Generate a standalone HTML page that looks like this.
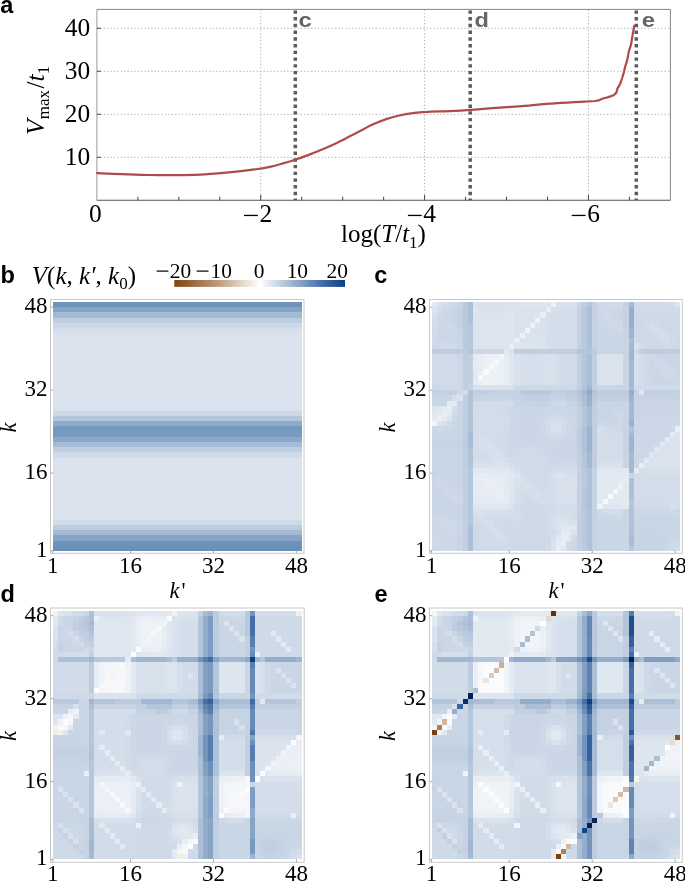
<!DOCTYPE html>
<html><head><meta charset="utf-8"><style>html,body{margin:0;padding:0;background:#fff;}svg{display:block;will-change:transform;}</style></head>
<body><svg width="685" height="882" viewBox="0 0 685 882">
<line x1="96.9" y1="157.3" x2="670.4" y2="157.3" stroke="#b0b0b0" stroke-width="1" stroke-dasharray="1.3 2.1"/>
<line x1="96.9" y1="114.30000000000001" x2="670.4" y2="114.30000000000001" stroke="#b0b0b0" stroke-width="1" stroke-dasharray="1.3 2.1"/>
<line x1="96.9" y1="71.30000000000001" x2="670.4" y2="71.30000000000001" stroke="#b0b0b0" stroke-width="1" stroke-dasharray="1.3 2.1"/>
<line x1="96.9" y1="28.30000000000001" x2="670.4" y2="28.30000000000001" stroke="#b0b0b0" stroke-width="1" stroke-dasharray="1.3 2.1"/>
<line x1="260.75" y1="9.4" x2="260.75" y2="200.3" stroke="#b0b0b0" stroke-width="1" stroke-dasharray="1.3 2.1"/>
<line x1="424.6" y1="9.4" x2="424.6" y2="200.3" stroke="#b0b0b0" stroke-width="1" stroke-dasharray="1.3 2.1"/>
<line x1="588.4499999999999" y1="9.4" x2="588.4499999999999" y2="200.3" stroke="#b0b0b0" stroke-width="1" stroke-dasharray="1.3 2.1"/>
<path d="M96.9 9.4H670.4V200.3" fill="none" stroke="#858585" stroke-width="1"/>
<path d="M96.9 9.4V200.3" fill="none" stroke="#9a9a9a" stroke-width="1"/>
<path d="M96.9 200.3H670.4" fill="none" stroke="#555" stroke-width="1.1"/>
<line x1="96.9" y1="157.3" x2="100.9" y2="157.3" stroke="#444" stroke-width="1"/>
<line x1="96.9" y1="114.30000000000001" x2="100.9" y2="114.30000000000001" stroke="#444" stroke-width="1"/>
<line x1="96.9" y1="71.30000000000001" x2="100.9" y2="71.30000000000001" stroke="#444" stroke-width="1"/>
<line x1="96.9" y1="28.30000000000001" x2="100.9" y2="28.30000000000001" stroke="#444" stroke-width="1"/>
<line x1="137.8625" y1="200.3" x2="137.8625" y2="196.8" stroke="#444" stroke-width="1"/>
<line x1="178.825" y1="200.3" x2="178.825" y2="196.8" stroke="#444" stroke-width="1"/>
<line x1="219.7875" y1="200.3" x2="219.7875" y2="196.8" stroke="#444" stroke-width="1"/>
<line x1="260.75" y1="200.3" x2="260.75" y2="194.9" stroke="#444" stroke-width="1"/>
<line x1="301.7125" y1="200.3" x2="301.7125" y2="196.8" stroke="#444" stroke-width="1"/>
<line x1="342.67499999999995" y1="200.3" x2="342.67499999999995" y2="196.8" stroke="#444" stroke-width="1"/>
<line x1="383.63750000000005" y1="200.3" x2="383.63750000000005" y2="196.8" stroke="#444" stroke-width="1"/>
<line x1="424.6" y1="200.3" x2="424.6" y2="194.9" stroke="#444" stroke-width="1"/>
<line x1="465.5625" y1="200.3" x2="465.5625" y2="196.8" stroke="#444" stroke-width="1"/>
<line x1="506.525" y1="200.3" x2="506.525" y2="196.8" stroke="#444" stroke-width="1"/>
<line x1="547.4875" y1="200.3" x2="547.4875" y2="196.8" stroke="#444" stroke-width="1"/>
<line x1="588.4499999999999" y1="200.3" x2="588.4499999999999" y2="194.9" stroke="#444" stroke-width="1"/>
<line x1="629.4124999999999" y1="200.3" x2="629.4124999999999" y2="196.8" stroke="#444" stroke-width="1"/>
<line x1="295.3" y1="10.4" x2="295.3" y2="200.3" stroke="#5c5c5c" stroke-width="3.5" stroke-dasharray="3.4 3.32"/>
<line x1="470.2" y1="10.4" x2="470.2" y2="200.3" stroke="#5c5c5c" stroke-width="3.5" stroke-dasharray="3.4 3.32"/>
<line x1="636.3" y1="10.4" x2="636.3" y2="200.3" stroke="#5c5c5c" stroke-width="3.5" stroke-dasharray="3.4 3.32"/>
<path fill="none" stroke="#b04b4b" stroke-width="2.2" stroke-linejoin="round" stroke-linecap="round" d="M97.1,173.1 C101.13,173.28 112.90,173.88 121.3,174.2 C129.70,174.52 138.75,174.83 147.5,175.0 C156.25,175.17 165.03,175.25 173.8,175.2 C182.57,175.15 191.33,175.13 200.1,174.7 C208.87,174.27 217.65,173.43 226.4,172.6 C235.15,171.77 245.33,170.67 252.6,169.7 C259.87,168.73 264.92,167.85 270,166.8 C275.08,165.75 278.93,164.57 283.1,163.4 C287.27,162.23 290.62,161.27 295,159.8 C299.38,158.33 304.80,156.35 309.4,154.6 C314.00,152.85 318.22,151.17 322.6,149.3 C326.98,147.43 331.33,145.48 335.7,143.4 C340.07,141.32 344.75,138.87 348.8,136.8 C352.85,134.73 355.95,133.08 360,131.0 C364.05,128.92 368.72,126.28 373.1,124.3 C377.48,122.32 381.92,120.57 386.3,119.1 C390.68,117.63 395.02,116.50 399.4,115.5 C403.78,114.50 408.43,113.67 412.6,113.1 C416.77,112.53 420.03,112.38 424.4,112.1 C428.77,111.82 434.53,111.55 438.8,111.4 C443.07,111.25 444.00,111.50 450,111.2 C456.00,110.90 466.53,110.20 474.8,109.6 C483.07,109.00 491.33,108.22 499.6,107.6 C507.87,106.98 516.12,106.55 524.4,105.9 C532.68,105.25 541.02,104.32 549.3,103.7 C557.58,103.08 566.45,102.65 574.1,102.2 C581.75,101.75 591.68,101.20 595.2,101.0 L598.5,100.4 L602.9,98.5 L608.3,97.1 L613.7,95.3 L616.4,92.6 L617.5,88.3 L620.2,83.9 L622.3,77.5 L623.9,72.1 L625.5,65.6 L627.2,60.2 L628.8,51.6 L630.9,45.2 L632,38.7 L633.1,32.2 L634.2,25.8"/>
<text x="298.6" y="26.8" font-family="Liberation Sans, sans-serif" font-weight="bold" font-size="20.5" fill="#666" textLength="13.3" lengthAdjust="spacingAndGlyphs">c</text>
<text x="474.4" y="26.8" font-family="Liberation Sans, sans-serif" font-weight="bold" font-size="20.5" fill="#666" textLength="14.4" lengthAdjust="spacingAndGlyphs">d</text>
<text x="641.8" y="26.8" font-family="Liberation Sans, sans-serif" font-weight="bold" font-size="20.5" fill="#666" textLength="13.3" lengthAdjust="spacingAndGlyphs">e</text>
<text x="90.2" y="165.3" font-family="Liberation Serif, serif" font-size="25.4" text-anchor="end">10</text>
<text x="90.2" y="122.30000000000001" font-family="Liberation Serif, serif" font-size="25.4" text-anchor="end">20</text>
<text x="90.2" y="79.30000000000001" font-family="Liberation Serif, serif" font-size="25.4" text-anchor="end">30</text>
<text x="90.2" y="36.30000000000001" font-family="Liberation Serif, serif" font-size="25.4" text-anchor="end">40</text>
<text x="95.30000000000001" y="221.8" font-family="Liberation Serif, serif" font-size="25.4" text-anchor="middle">0</text>
<rect x="244.05" y="214.8" width="13.8" height="1.3" fill="#000"/>
<text x="259.45" y="221.8" font-family="Liberation Serif, serif" font-size="25.4">2</text>
<rect x="407.90000000000003" y="214.8" width="13.8" height="1.3" fill="#000"/>
<text x="423.3" y="221.8" font-family="Liberation Serif, serif" font-size="25.4">4</text>
<rect x="571.7499999999999" y="214.8" width="13.8" height="1.3" fill="#000"/>
<text x="587.15" y="221.8" font-family="Liberation Serif, serif" font-size="25.4">6</text>
<text x="341.0" y="242.1" font-family="Liberation Serif, serif" font-size="25">log(<tspan font-style="italic">T</tspan>/<tspan font-style="italic">t</tspan><tspan font-size="17" dy="5.5">1</tspan><tspan dy="-5.5">)</tspan></text>
<text transform="translate(43.6,134.9) rotate(-90)" font-family="Liberation Serif, serif" font-size="25.5"><tspan font-style="italic">V</tspan><tspan font-size="17" dy="5.8">max</tspan><tspan dy="-5.8" dx="1.5">/</tspan><tspan font-style="italic">t</tspan><tspan font-size="17" dy="5.8">1</tspan></text>
<text x="0.3" y="13" font-family="Liberation Sans, sans-serif" font-weight="bold" font-size="23.5">a</text>
<text x="0.4" y="282.6" font-family="Liberation Sans, sans-serif" font-weight="bold" font-size="23.5">b</text>
<text x="374.3" y="282.6" font-family="Liberation Sans, sans-serif" font-weight="bold" font-size="23.5">c</text>
<text x="0.4" y="602.2" font-family="Liberation Sans, sans-serif" font-weight="bold" font-size="23.5">d</text>
<text x="374.5" y="602" font-family="Liberation Sans, sans-serif" font-weight="bold" font-size="23.5">e</text>
<g transform="translate(52.75,302.0) scale(5.185)" shape-rendering="crispEdges"><path fill="#6890b9" d="M0 47h1v1h-1zM1 47h1v1h-1zM2 47h1v1h-1zM3 47h1v1h-1zM4 47h1v1h-1zM5 47h1v1h-1zM6 47h1v1h-1zM7 47h1v1h-1zM8 47h1v1h-1zM9 47h1v1h-1zM10 47h1v1h-1zM11 47h1v1h-1zM12 47h1v1h-1zM13 47h1v1h-1zM14 47h1v1h-1zM15 47h1v1h-1zM16 47h1v1h-1zM17 47h1v1h-1zM18 47h1v1h-1zM19 47h1v1h-1zM20 47h1v1h-1zM21 47h1v1h-1zM22 47h1v1h-1zM23 47h1v1h-1zM24 47h1v1h-1zM25 47h1v1h-1zM26 47h1v1h-1zM27 47h1v1h-1zM28 47h1v1h-1zM29 47h1v1h-1zM30 47h1v1h-1zM31 47h1v1h-1zM32 47h1v1h-1zM33 47h1v1h-1zM34 47h1v1h-1zM35 47h1v1h-1zM36 47h1v1h-1zM37 47h1v1h-1zM38 47h1v1h-1zM39 47h1v1h-1zM40 47h1v1h-1zM41 47h1v1h-1zM42 47h1v1h-1zM43 47h1v1h-1zM44 47h1v1h-1zM45 47h1v1h-1zM46 47h1v1h-1zM47 47h1v1h-1z"/><path fill="#6d93bc" d="M0 46h1v1h-1zM1 46h1v1h-1zM2 46h1v1h-1zM3 46h1v1h-1zM4 46h1v1h-1zM5 46h1v1h-1zM6 46h1v1h-1zM7 46h1v1h-1zM8 46h1v1h-1zM9 46h1v1h-1zM10 46h1v1h-1zM11 46h1v1h-1zM12 46h1v1h-1zM13 46h1v1h-1zM14 46h1v1h-1zM15 46h1v1h-1zM16 46h1v1h-1zM17 46h1v1h-1zM18 46h1v1h-1zM19 46h1v1h-1zM20 46h1v1h-1zM21 46h1v1h-1zM22 46h1v1h-1zM23 46h1v1h-1zM24 46h1v1h-1zM25 46h1v1h-1zM26 46h1v1h-1zM27 46h1v1h-1zM28 46h1v1h-1zM29 46h1v1h-1zM30 46h1v1h-1zM31 46h1v1h-1zM32 46h1v1h-1zM33 46h1v1h-1zM34 46h1v1h-1zM35 46h1v1h-1zM36 46h1v1h-1zM37 46h1v1h-1zM38 46h1v1h-1zM39 46h1v1h-1zM40 46h1v1h-1zM41 46h1v1h-1zM42 46h1v1h-1zM43 46h1v1h-1zM44 46h1v1h-1zM45 46h1v1h-1zM46 46h1v1h-1zM47 46h1v1h-1z"/><path fill="#85a4c7" d="M0 45h1v1h-1zM1 45h1v1h-1zM2 45h1v1h-1zM3 45h1v1h-1zM4 45h1v1h-1zM5 45h1v1h-1zM6 45h1v1h-1zM7 45h1v1h-1zM8 45h1v1h-1zM9 45h1v1h-1zM10 45h1v1h-1zM11 45h1v1h-1zM12 45h1v1h-1zM13 45h1v1h-1zM14 45h1v1h-1zM15 45h1v1h-1zM16 45h1v1h-1zM17 45h1v1h-1zM18 45h1v1h-1zM19 45h1v1h-1zM20 45h1v1h-1zM21 45h1v1h-1zM22 45h1v1h-1zM23 45h1v1h-1zM24 45h1v1h-1zM25 45h1v1h-1zM26 45h1v1h-1zM27 45h1v1h-1zM28 45h1v1h-1zM29 45h1v1h-1zM30 45h1v1h-1zM31 45h1v1h-1zM32 45h1v1h-1zM33 45h1v1h-1zM34 45h1v1h-1zM35 45h1v1h-1zM36 45h1v1h-1zM37 45h1v1h-1zM38 45h1v1h-1zM39 45h1v1h-1zM40 45h1v1h-1zM41 45h1v1h-1zM42 45h1v1h-1zM43 45h1v1h-1zM44 45h1v1h-1zM45 45h1v1h-1zM46 45h1v1h-1zM47 45h1v1h-1z"/><path fill="#a3b9d4" d="M0 44h1v1h-1zM1 44h1v1h-1zM2 44h1v1h-1zM3 44h1v1h-1zM4 44h1v1h-1zM5 44h1v1h-1zM6 44h1v1h-1zM7 44h1v1h-1zM8 44h1v1h-1zM9 44h1v1h-1zM10 44h1v1h-1zM11 44h1v1h-1zM12 44h1v1h-1zM13 44h1v1h-1zM14 44h1v1h-1zM15 44h1v1h-1zM16 44h1v1h-1zM17 44h1v1h-1zM18 44h1v1h-1zM19 44h1v1h-1zM20 44h1v1h-1zM21 44h1v1h-1zM22 44h1v1h-1zM23 44h1v1h-1zM24 44h1v1h-1zM25 44h1v1h-1zM26 44h1v1h-1zM27 44h1v1h-1zM28 44h1v1h-1zM29 44h1v1h-1zM30 44h1v1h-1zM31 44h1v1h-1zM32 44h1v1h-1zM33 44h1v1h-1zM34 44h1v1h-1zM35 44h1v1h-1zM36 44h1v1h-1zM37 44h1v1h-1zM38 44h1v1h-1zM39 44h1v1h-1zM40 44h1v1h-1zM41 44h1v1h-1zM42 44h1v1h-1zM43 44h1v1h-1zM44 44h1v1h-1zM45 44h1v1h-1zM46 44h1v1h-1zM47 44h1v1h-1z"/><path fill="#bccde0" d="M0 43h1v1h-1zM1 43h1v1h-1zM2 43h1v1h-1zM3 43h1v1h-1zM4 43h1v1h-1zM5 43h1v1h-1zM6 43h1v1h-1zM7 43h1v1h-1zM8 43h1v1h-1zM9 43h1v1h-1zM10 43h1v1h-1zM11 43h1v1h-1zM12 43h1v1h-1zM13 43h1v1h-1zM14 43h1v1h-1zM15 43h1v1h-1zM16 43h1v1h-1zM17 43h1v1h-1zM18 43h1v1h-1zM19 43h1v1h-1zM20 43h1v1h-1zM21 43h1v1h-1zM22 43h1v1h-1zM23 43h1v1h-1zM24 43h1v1h-1zM25 43h1v1h-1zM26 43h1v1h-1zM27 43h1v1h-1zM28 43h1v1h-1zM29 43h1v1h-1zM30 43h1v1h-1zM31 43h1v1h-1zM32 43h1v1h-1zM33 43h1v1h-1zM34 43h1v1h-1zM35 43h1v1h-1zM36 43h1v1h-1zM37 43h1v1h-1zM38 43h1v1h-1zM39 43h1v1h-1zM40 43h1v1h-1zM41 43h1v1h-1zM42 43h1v1h-1zM43 43h1v1h-1zM44 43h1v1h-1zM45 43h1v1h-1zM46 43h1v1h-1zM47 43h1v1h-1zM0 3h1v1h-1zM1 3h1v1h-1zM2 3h1v1h-1zM3 3h1v1h-1zM4 3h1v1h-1zM5 3h1v1h-1zM6 3h1v1h-1zM7 3h1v1h-1zM8 3h1v1h-1zM9 3h1v1h-1zM10 3h1v1h-1zM11 3h1v1h-1zM12 3h1v1h-1zM13 3h1v1h-1zM14 3h1v1h-1zM15 3h1v1h-1zM16 3h1v1h-1zM17 3h1v1h-1zM18 3h1v1h-1zM19 3h1v1h-1zM20 3h1v1h-1zM21 3h1v1h-1zM22 3h1v1h-1zM23 3h1v1h-1zM24 3h1v1h-1zM25 3h1v1h-1zM26 3h1v1h-1zM27 3h1v1h-1zM28 3h1v1h-1zM29 3h1v1h-1zM30 3h1v1h-1zM31 3h1v1h-1zM32 3h1v1h-1zM33 3h1v1h-1zM34 3h1v1h-1zM35 3h1v1h-1zM36 3h1v1h-1zM37 3h1v1h-1zM38 3h1v1h-1zM39 3h1v1h-1zM40 3h1v1h-1zM41 3h1v1h-1zM42 3h1v1h-1zM43 3h1v1h-1zM44 3h1v1h-1zM45 3h1v1h-1zM46 3h1v1h-1zM47 3h1v1h-1z"/><path fill="#cfdbe8" d="M0 42h1v1h-1zM1 42h1v1h-1zM2 42h1v1h-1zM3 42h1v1h-1zM4 42h1v1h-1zM5 42h1v1h-1zM6 42h1v1h-1zM7 42h1v1h-1zM8 42h1v1h-1zM9 42h1v1h-1zM10 42h1v1h-1zM11 42h1v1h-1zM12 42h1v1h-1zM13 42h1v1h-1zM14 42h1v1h-1zM15 42h1v1h-1zM16 42h1v1h-1zM17 42h1v1h-1zM18 42h1v1h-1zM19 42h1v1h-1zM20 42h1v1h-1zM21 42h1v1h-1zM22 42h1v1h-1zM23 42h1v1h-1zM24 42h1v1h-1zM25 42h1v1h-1zM26 42h1v1h-1zM27 42h1v1h-1zM28 42h1v1h-1zM29 42h1v1h-1zM30 42h1v1h-1zM31 42h1v1h-1zM32 42h1v1h-1zM33 42h1v1h-1zM34 42h1v1h-1zM35 42h1v1h-1zM36 42h1v1h-1zM37 42h1v1h-1zM38 42h1v1h-1zM39 42h1v1h-1zM40 42h1v1h-1zM41 42h1v1h-1zM42 42h1v1h-1zM43 42h1v1h-1zM44 42h1v1h-1zM45 42h1v1h-1zM46 42h1v1h-1zM47 42h1v1h-1z"/><path fill="#d9e2ed" d="M0 41h1v1h-1zM1 41h1v1h-1zM2 41h1v1h-1zM3 41h1v1h-1zM4 41h1v1h-1zM5 41h1v1h-1zM6 41h1v1h-1zM7 41h1v1h-1zM8 41h1v1h-1zM9 41h1v1h-1zM10 41h1v1h-1zM11 41h1v1h-1zM12 41h1v1h-1zM13 41h1v1h-1zM14 41h1v1h-1zM15 41h1v1h-1zM16 41h1v1h-1zM17 41h1v1h-1zM18 41h1v1h-1zM19 41h1v1h-1zM20 41h1v1h-1zM21 41h1v1h-1zM22 41h1v1h-1zM23 41h1v1h-1zM24 41h1v1h-1zM25 41h1v1h-1zM26 41h1v1h-1zM27 41h1v1h-1zM28 41h1v1h-1zM29 41h1v1h-1zM30 41h1v1h-1zM31 41h1v1h-1zM32 41h1v1h-1zM33 41h1v1h-1zM34 41h1v1h-1zM35 41h1v1h-1zM36 41h1v1h-1zM37 41h1v1h-1zM38 41h1v1h-1zM39 41h1v1h-1zM40 41h1v1h-1zM41 41h1v1h-1zM42 41h1v1h-1zM43 41h1v1h-1zM44 41h1v1h-1zM45 41h1v1h-1zM46 41h1v1h-1zM47 41h1v1h-1zM0 40h1v1h-1zM1 40h1v1h-1zM2 40h1v1h-1zM3 40h1v1h-1zM4 40h1v1h-1zM5 40h1v1h-1zM6 40h1v1h-1zM7 40h1v1h-1zM8 40h1v1h-1zM9 40h1v1h-1zM10 40h1v1h-1zM11 40h1v1h-1zM12 40h1v1h-1zM13 40h1v1h-1zM14 40h1v1h-1zM15 40h1v1h-1zM16 40h1v1h-1zM17 40h1v1h-1zM18 40h1v1h-1zM19 40h1v1h-1zM20 40h1v1h-1zM21 40h1v1h-1zM22 40h1v1h-1zM23 40h1v1h-1zM24 40h1v1h-1zM25 40h1v1h-1zM26 40h1v1h-1zM27 40h1v1h-1zM28 40h1v1h-1zM29 40h1v1h-1zM30 40h1v1h-1zM31 40h1v1h-1zM32 40h1v1h-1zM33 40h1v1h-1zM34 40h1v1h-1zM35 40h1v1h-1zM36 40h1v1h-1zM37 40h1v1h-1zM38 40h1v1h-1zM39 40h1v1h-1zM40 40h1v1h-1zM41 40h1v1h-1zM42 40h1v1h-1zM43 40h1v1h-1zM44 40h1v1h-1zM45 40h1v1h-1zM46 40h1v1h-1zM47 40h1v1h-1zM0 39h1v1h-1zM1 39h1v1h-1zM2 39h1v1h-1zM3 39h1v1h-1zM4 39h1v1h-1zM5 39h1v1h-1zM6 39h1v1h-1zM7 39h1v1h-1zM8 39h1v1h-1zM9 39h1v1h-1zM10 39h1v1h-1zM11 39h1v1h-1zM12 39h1v1h-1zM13 39h1v1h-1zM14 39h1v1h-1zM15 39h1v1h-1zM16 39h1v1h-1zM17 39h1v1h-1zM18 39h1v1h-1zM19 39h1v1h-1zM20 39h1v1h-1zM21 39h1v1h-1zM22 39h1v1h-1zM23 39h1v1h-1zM24 39h1v1h-1zM25 39h1v1h-1zM26 39h1v1h-1zM27 39h1v1h-1zM28 39h1v1h-1zM29 39h1v1h-1zM30 39h1v1h-1zM31 39h1v1h-1zM32 39h1v1h-1zM33 39h1v1h-1zM34 39h1v1h-1zM35 39h1v1h-1zM36 39h1v1h-1zM37 39h1v1h-1zM38 39h1v1h-1zM39 39h1v1h-1zM40 39h1v1h-1zM41 39h1v1h-1zM42 39h1v1h-1zM43 39h1v1h-1zM44 39h1v1h-1zM45 39h1v1h-1zM46 39h1v1h-1zM47 39h1v1h-1zM0 38h1v1h-1zM1 38h1v1h-1zM2 38h1v1h-1zM3 38h1v1h-1zM4 38h1v1h-1zM5 38h1v1h-1zM6 38h1v1h-1zM7 38h1v1h-1zM8 38h1v1h-1zM9 38h1v1h-1zM10 38h1v1h-1zM11 38h1v1h-1zM12 38h1v1h-1zM13 38h1v1h-1zM14 38h1v1h-1zM15 38h1v1h-1zM16 38h1v1h-1zM17 38h1v1h-1zM18 38h1v1h-1zM19 38h1v1h-1zM20 38h1v1h-1zM21 38h1v1h-1zM22 38h1v1h-1zM23 38h1v1h-1zM24 38h1v1h-1zM25 38h1v1h-1zM26 38h1v1h-1zM27 38h1v1h-1zM28 38h1v1h-1zM29 38h1v1h-1zM30 38h1v1h-1zM31 38h1v1h-1zM32 38h1v1h-1zM33 38h1v1h-1zM34 38h1v1h-1zM35 38h1v1h-1zM36 38h1v1h-1zM37 38h1v1h-1zM38 38h1v1h-1zM39 38h1v1h-1zM40 38h1v1h-1zM41 38h1v1h-1zM42 38h1v1h-1zM43 38h1v1h-1zM44 38h1v1h-1zM45 38h1v1h-1zM46 38h1v1h-1zM47 38h1v1h-1zM0 37h1v1h-1zM1 37h1v1h-1zM2 37h1v1h-1zM3 37h1v1h-1zM4 37h1v1h-1zM5 37h1v1h-1zM6 37h1v1h-1zM7 37h1v1h-1zM8 37h1v1h-1zM9 37h1v1h-1zM10 37h1v1h-1zM11 37h1v1h-1zM12 37h1v1h-1zM13 37h1v1h-1zM14 37h1v1h-1zM15 37h1v1h-1zM16 37h1v1h-1zM17 37h1v1h-1zM18 37h1v1h-1zM19 37h1v1h-1zM20 37h1v1h-1zM21 37h1v1h-1zM22 37h1v1h-1zM23 37h1v1h-1zM24 37h1v1h-1zM25 37h1v1h-1zM26 37h1v1h-1zM27 37h1v1h-1zM28 37h1v1h-1zM29 37h1v1h-1zM30 37h1v1h-1zM31 37h1v1h-1zM32 37h1v1h-1zM33 37h1v1h-1zM34 37h1v1h-1zM35 37h1v1h-1zM36 37h1v1h-1zM37 37h1v1h-1zM38 37h1v1h-1zM39 37h1v1h-1zM40 37h1v1h-1zM41 37h1v1h-1zM42 37h1v1h-1zM43 37h1v1h-1zM44 37h1v1h-1zM45 37h1v1h-1zM46 37h1v1h-1zM47 37h1v1h-1zM0 36h1v1h-1zM1 36h1v1h-1zM2 36h1v1h-1zM3 36h1v1h-1zM4 36h1v1h-1zM5 36h1v1h-1zM6 36h1v1h-1zM7 36h1v1h-1zM8 36h1v1h-1zM9 36h1v1h-1zM10 36h1v1h-1zM11 36h1v1h-1zM12 36h1v1h-1zM13 36h1v1h-1zM14 36h1v1h-1zM15 36h1v1h-1zM16 36h1v1h-1zM17 36h1v1h-1zM18 36h1v1h-1zM19 36h1v1h-1zM20 36h1v1h-1zM21 36h1v1h-1zM22 36h1v1h-1zM23 36h1v1h-1zM24 36h1v1h-1zM25 36h1v1h-1zM26 36h1v1h-1zM27 36h1v1h-1zM28 36h1v1h-1zM29 36h1v1h-1zM30 36h1v1h-1zM31 36h1v1h-1zM32 36h1v1h-1zM33 36h1v1h-1zM34 36h1v1h-1zM35 36h1v1h-1zM36 36h1v1h-1zM37 36h1v1h-1zM38 36h1v1h-1zM39 36h1v1h-1zM40 36h1v1h-1zM41 36h1v1h-1zM42 36h1v1h-1zM43 36h1v1h-1zM44 36h1v1h-1zM45 36h1v1h-1zM46 36h1v1h-1zM47 36h1v1h-1zM0 35h1v1h-1zM1 35h1v1h-1zM2 35h1v1h-1zM3 35h1v1h-1zM4 35h1v1h-1zM5 35h1v1h-1zM6 35h1v1h-1zM7 35h1v1h-1zM8 35h1v1h-1zM9 35h1v1h-1zM10 35h1v1h-1zM11 35h1v1h-1zM12 35h1v1h-1zM13 35h1v1h-1zM14 35h1v1h-1zM15 35h1v1h-1zM16 35h1v1h-1zM17 35h1v1h-1zM18 35h1v1h-1zM19 35h1v1h-1zM20 35h1v1h-1zM21 35h1v1h-1zM22 35h1v1h-1zM23 35h1v1h-1zM24 35h1v1h-1zM25 35h1v1h-1zM26 35h1v1h-1zM27 35h1v1h-1zM28 35h1v1h-1zM29 35h1v1h-1zM30 35h1v1h-1zM31 35h1v1h-1zM32 35h1v1h-1zM33 35h1v1h-1zM34 35h1v1h-1zM35 35h1v1h-1zM36 35h1v1h-1zM37 35h1v1h-1zM38 35h1v1h-1zM39 35h1v1h-1zM40 35h1v1h-1zM41 35h1v1h-1zM42 35h1v1h-1zM43 35h1v1h-1zM44 35h1v1h-1zM45 35h1v1h-1zM46 35h1v1h-1zM47 35h1v1h-1zM0 34h1v1h-1zM1 34h1v1h-1zM2 34h1v1h-1zM3 34h1v1h-1zM4 34h1v1h-1zM5 34h1v1h-1zM6 34h1v1h-1zM7 34h1v1h-1zM8 34h1v1h-1zM9 34h1v1h-1zM10 34h1v1h-1zM11 34h1v1h-1zM12 34h1v1h-1zM13 34h1v1h-1zM14 34h1v1h-1zM15 34h1v1h-1zM16 34h1v1h-1zM17 34h1v1h-1zM18 34h1v1h-1zM19 34h1v1h-1zM20 34h1v1h-1zM21 34h1v1h-1zM22 34h1v1h-1zM23 34h1v1h-1zM24 34h1v1h-1zM25 34h1v1h-1zM26 34h1v1h-1zM27 34h1v1h-1zM28 34h1v1h-1zM29 34h1v1h-1zM30 34h1v1h-1zM31 34h1v1h-1zM32 34h1v1h-1zM33 34h1v1h-1zM34 34h1v1h-1zM35 34h1v1h-1zM36 34h1v1h-1zM37 34h1v1h-1zM38 34h1v1h-1zM39 34h1v1h-1zM40 34h1v1h-1zM41 34h1v1h-1zM42 34h1v1h-1zM43 34h1v1h-1zM44 34h1v1h-1zM45 34h1v1h-1zM46 34h1v1h-1zM47 34h1v1h-1zM0 33h1v1h-1zM1 33h1v1h-1zM2 33h1v1h-1zM3 33h1v1h-1zM4 33h1v1h-1zM5 33h1v1h-1zM6 33h1v1h-1zM7 33h1v1h-1zM8 33h1v1h-1zM9 33h1v1h-1zM10 33h1v1h-1zM11 33h1v1h-1zM12 33h1v1h-1zM13 33h1v1h-1zM14 33h1v1h-1zM15 33h1v1h-1zM16 33h1v1h-1zM17 33h1v1h-1zM18 33h1v1h-1zM19 33h1v1h-1zM20 33h1v1h-1zM21 33h1v1h-1zM22 33h1v1h-1zM23 33h1v1h-1zM24 33h1v1h-1zM25 33h1v1h-1zM26 33h1v1h-1zM27 33h1v1h-1zM28 33h1v1h-1zM29 33h1v1h-1zM30 33h1v1h-1zM31 33h1v1h-1zM32 33h1v1h-1zM33 33h1v1h-1zM34 33h1v1h-1zM35 33h1v1h-1zM36 33h1v1h-1zM37 33h1v1h-1zM38 33h1v1h-1zM39 33h1v1h-1zM40 33h1v1h-1zM41 33h1v1h-1zM42 33h1v1h-1zM43 33h1v1h-1zM44 33h1v1h-1zM45 33h1v1h-1zM46 33h1v1h-1zM47 33h1v1h-1zM0 32h1v1h-1zM1 32h1v1h-1zM2 32h1v1h-1zM3 32h1v1h-1zM4 32h1v1h-1zM5 32h1v1h-1zM6 32h1v1h-1zM7 32h1v1h-1zM8 32h1v1h-1zM9 32h1v1h-1zM10 32h1v1h-1zM11 32h1v1h-1zM12 32h1v1h-1zM13 32h1v1h-1zM14 32h1v1h-1zM15 32h1v1h-1zM16 32h1v1h-1zM17 32h1v1h-1zM18 32h1v1h-1zM19 32h1v1h-1zM20 32h1v1h-1zM21 32h1v1h-1zM22 32h1v1h-1zM23 32h1v1h-1zM24 32h1v1h-1zM25 32h1v1h-1zM26 32h1v1h-1zM27 32h1v1h-1zM28 32h1v1h-1zM29 32h1v1h-1zM30 32h1v1h-1zM31 32h1v1h-1zM32 32h1v1h-1zM33 32h1v1h-1zM34 32h1v1h-1zM35 32h1v1h-1zM36 32h1v1h-1zM37 32h1v1h-1zM38 32h1v1h-1zM39 32h1v1h-1zM40 32h1v1h-1zM41 32h1v1h-1zM42 32h1v1h-1zM43 32h1v1h-1zM44 32h1v1h-1zM45 32h1v1h-1zM46 32h1v1h-1zM47 32h1v1h-1zM0 31h1v1h-1zM1 31h1v1h-1zM2 31h1v1h-1zM3 31h1v1h-1zM4 31h1v1h-1zM5 31h1v1h-1zM6 31h1v1h-1zM7 31h1v1h-1zM8 31h1v1h-1zM9 31h1v1h-1zM10 31h1v1h-1zM11 31h1v1h-1zM12 31h1v1h-1zM13 31h1v1h-1zM14 31h1v1h-1zM15 31h1v1h-1zM16 31h1v1h-1zM17 31h1v1h-1zM18 31h1v1h-1zM19 31h1v1h-1zM20 31h1v1h-1zM21 31h1v1h-1zM22 31h1v1h-1zM23 31h1v1h-1zM24 31h1v1h-1zM25 31h1v1h-1zM26 31h1v1h-1zM27 31h1v1h-1zM28 31h1v1h-1zM29 31h1v1h-1zM30 31h1v1h-1zM31 31h1v1h-1zM32 31h1v1h-1zM33 31h1v1h-1zM34 31h1v1h-1zM35 31h1v1h-1zM36 31h1v1h-1zM37 31h1v1h-1zM38 31h1v1h-1zM39 31h1v1h-1zM40 31h1v1h-1zM41 31h1v1h-1zM42 31h1v1h-1zM43 31h1v1h-1zM44 31h1v1h-1zM45 31h1v1h-1zM46 31h1v1h-1zM47 31h1v1h-1zM0 30h1v1h-1zM1 30h1v1h-1zM2 30h1v1h-1zM3 30h1v1h-1zM4 30h1v1h-1zM5 30h1v1h-1zM6 30h1v1h-1zM7 30h1v1h-1zM8 30h1v1h-1zM9 30h1v1h-1zM10 30h1v1h-1zM11 30h1v1h-1zM12 30h1v1h-1zM13 30h1v1h-1zM14 30h1v1h-1zM15 30h1v1h-1zM16 30h1v1h-1zM17 30h1v1h-1zM18 30h1v1h-1zM19 30h1v1h-1zM20 30h1v1h-1zM21 30h1v1h-1zM22 30h1v1h-1zM23 30h1v1h-1zM24 30h1v1h-1zM25 30h1v1h-1zM26 30h1v1h-1zM27 30h1v1h-1zM28 30h1v1h-1zM29 30h1v1h-1zM30 30h1v1h-1zM31 30h1v1h-1zM32 30h1v1h-1zM33 30h1v1h-1zM34 30h1v1h-1zM35 30h1v1h-1zM36 30h1v1h-1zM37 30h1v1h-1zM38 30h1v1h-1zM39 30h1v1h-1zM40 30h1v1h-1zM41 30h1v1h-1zM42 30h1v1h-1zM43 30h1v1h-1zM44 30h1v1h-1zM45 30h1v1h-1zM46 30h1v1h-1zM47 30h1v1h-1z"/><path fill="#d0dbe8" d="M0 29h1v1h-1zM1 29h1v1h-1zM2 29h1v1h-1zM3 29h1v1h-1zM4 29h1v1h-1zM5 29h1v1h-1zM6 29h1v1h-1zM7 29h1v1h-1zM8 29h1v1h-1zM9 29h1v1h-1zM10 29h1v1h-1zM11 29h1v1h-1zM12 29h1v1h-1zM13 29h1v1h-1zM14 29h1v1h-1zM15 29h1v1h-1zM16 29h1v1h-1zM17 29h1v1h-1zM18 29h1v1h-1zM19 29h1v1h-1zM20 29h1v1h-1zM21 29h1v1h-1zM22 29h1v1h-1zM23 29h1v1h-1zM24 29h1v1h-1zM25 29h1v1h-1zM26 29h1v1h-1zM27 29h1v1h-1zM28 29h1v1h-1zM29 29h1v1h-1zM30 29h1v1h-1zM31 29h1v1h-1zM32 29h1v1h-1zM33 29h1v1h-1zM34 29h1v1h-1zM35 29h1v1h-1zM36 29h1v1h-1zM37 29h1v1h-1zM38 29h1v1h-1zM39 29h1v1h-1zM40 29h1v1h-1zM41 29h1v1h-1zM42 29h1v1h-1zM43 29h1v1h-1zM44 29h1v1h-1zM45 29h1v1h-1zM46 29h1v1h-1zM47 29h1v1h-1z"/><path fill="#bfcfe1" d="M0 28h1v1h-1zM1 28h1v1h-1zM2 28h1v1h-1zM3 28h1v1h-1zM4 28h1v1h-1zM5 28h1v1h-1zM6 28h1v1h-1zM7 28h1v1h-1zM8 28h1v1h-1zM9 28h1v1h-1zM10 28h1v1h-1zM11 28h1v1h-1zM12 28h1v1h-1zM13 28h1v1h-1zM14 28h1v1h-1zM15 28h1v1h-1zM16 28h1v1h-1zM17 28h1v1h-1zM18 28h1v1h-1zM19 28h1v1h-1zM20 28h1v1h-1zM21 28h1v1h-1zM22 28h1v1h-1zM23 28h1v1h-1zM24 28h1v1h-1zM25 28h1v1h-1zM26 28h1v1h-1zM27 28h1v1h-1zM28 28h1v1h-1zM29 28h1v1h-1zM30 28h1v1h-1zM31 28h1v1h-1zM32 28h1v1h-1zM33 28h1v1h-1zM34 28h1v1h-1zM35 28h1v1h-1zM36 28h1v1h-1zM37 28h1v1h-1zM38 28h1v1h-1zM39 28h1v1h-1zM40 28h1v1h-1zM41 28h1v1h-1zM42 28h1v1h-1zM43 28h1v1h-1zM44 28h1v1h-1zM45 28h1v1h-1zM46 28h1v1h-1zM47 28h1v1h-1z"/><path fill="#a6bcd6" d="M0 27h1v1h-1zM1 27h1v1h-1zM2 27h1v1h-1zM3 27h1v1h-1zM4 27h1v1h-1zM5 27h1v1h-1zM6 27h1v1h-1zM7 27h1v1h-1zM8 27h1v1h-1zM9 27h1v1h-1zM10 27h1v1h-1zM11 27h1v1h-1zM12 27h1v1h-1zM13 27h1v1h-1zM14 27h1v1h-1zM15 27h1v1h-1zM16 27h1v1h-1zM17 27h1v1h-1zM18 27h1v1h-1zM19 27h1v1h-1zM20 27h1v1h-1zM21 27h1v1h-1zM22 27h1v1h-1zM23 27h1v1h-1zM24 27h1v1h-1zM25 27h1v1h-1zM26 27h1v1h-1zM27 27h1v1h-1zM28 27h1v1h-1zM29 27h1v1h-1zM30 27h1v1h-1zM31 27h1v1h-1zM32 27h1v1h-1zM33 27h1v1h-1zM34 27h1v1h-1zM35 27h1v1h-1zM36 27h1v1h-1zM37 27h1v1h-1zM38 27h1v1h-1zM39 27h1v1h-1zM40 27h1v1h-1zM41 27h1v1h-1zM42 27h1v1h-1zM43 27h1v1h-1zM44 27h1v1h-1zM45 27h1v1h-1zM46 27h1v1h-1zM47 27h1v1h-1z"/><path fill="#8aa8c8" d="M0 26h1v1h-1zM1 26h1v1h-1zM2 26h1v1h-1zM3 26h1v1h-1zM4 26h1v1h-1zM5 26h1v1h-1zM6 26h1v1h-1zM7 26h1v1h-1zM8 26h1v1h-1zM9 26h1v1h-1zM10 26h1v1h-1zM11 26h1v1h-1zM12 26h1v1h-1zM13 26h1v1h-1zM14 26h1v1h-1zM15 26h1v1h-1zM16 26h1v1h-1zM17 26h1v1h-1zM18 26h1v1h-1zM19 26h1v1h-1zM20 26h1v1h-1zM21 26h1v1h-1zM22 26h1v1h-1zM23 26h1v1h-1zM24 26h1v1h-1zM25 26h1v1h-1zM26 26h1v1h-1zM27 26h1v1h-1zM28 26h1v1h-1zM29 26h1v1h-1zM30 26h1v1h-1zM31 26h1v1h-1zM32 26h1v1h-1zM33 26h1v1h-1zM34 26h1v1h-1zM35 26h1v1h-1zM36 26h1v1h-1zM37 26h1v1h-1zM38 26h1v1h-1zM39 26h1v1h-1zM40 26h1v1h-1zM41 26h1v1h-1zM42 26h1v1h-1zM43 26h1v1h-1zM44 26h1v1h-1zM45 26h1v1h-1zM46 26h1v1h-1zM47 26h1v1h-1z"/><path fill="#7599bf" d="M0 25h1v1h-1zM1 25h1v1h-1zM2 25h1v1h-1zM3 25h1v1h-1zM4 25h1v1h-1zM5 25h1v1h-1zM6 25h1v1h-1zM7 25h1v1h-1zM8 25h1v1h-1zM9 25h1v1h-1zM10 25h1v1h-1zM11 25h1v1h-1zM12 25h1v1h-1zM13 25h1v1h-1zM14 25h1v1h-1zM15 25h1v1h-1zM16 25h1v1h-1zM17 25h1v1h-1zM18 25h1v1h-1zM19 25h1v1h-1zM20 25h1v1h-1zM21 25h1v1h-1zM22 25h1v1h-1zM23 25h1v1h-1zM24 25h1v1h-1zM25 25h1v1h-1zM26 25h1v1h-1zM27 25h1v1h-1zM28 25h1v1h-1zM29 25h1v1h-1zM30 25h1v1h-1zM31 25h1v1h-1zM32 25h1v1h-1zM33 25h1v1h-1zM34 25h1v1h-1zM35 25h1v1h-1zM36 25h1v1h-1zM37 25h1v1h-1zM38 25h1v1h-1zM39 25h1v1h-1zM40 25h1v1h-1zM41 25h1v1h-1zM42 25h1v1h-1zM43 25h1v1h-1zM44 25h1v1h-1zM45 25h1v1h-1zM46 25h1v1h-1zM47 25h1v1h-1zM0 24h1v1h-1zM1 24h1v1h-1zM2 24h1v1h-1zM3 24h1v1h-1zM4 24h1v1h-1zM5 24h1v1h-1zM6 24h1v1h-1zM7 24h1v1h-1zM8 24h1v1h-1zM9 24h1v1h-1zM10 24h1v1h-1zM11 24h1v1h-1zM12 24h1v1h-1zM13 24h1v1h-1zM14 24h1v1h-1zM15 24h1v1h-1zM16 24h1v1h-1zM17 24h1v1h-1zM18 24h1v1h-1zM19 24h1v1h-1zM20 24h1v1h-1zM21 24h1v1h-1zM22 24h1v1h-1zM23 24h1v1h-1zM24 24h1v1h-1zM25 24h1v1h-1zM26 24h1v1h-1zM27 24h1v1h-1zM28 24h1v1h-1zM29 24h1v1h-1zM30 24h1v1h-1zM31 24h1v1h-1zM32 24h1v1h-1zM33 24h1v1h-1zM34 24h1v1h-1zM35 24h1v1h-1zM36 24h1v1h-1zM37 24h1v1h-1zM38 24h1v1h-1zM39 24h1v1h-1zM40 24h1v1h-1zM41 24h1v1h-1zM42 24h1v1h-1zM43 24h1v1h-1zM44 24h1v1h-1zM45 24h1v1h-1zM46 24h1v1h-1zM47 24h1v1h-1z"/><path fill="#8fabcb" d="M0 23h1v1h-1zM1 23h1v1h-1zM2 23h1v1h-1zM3 23h1v1h-1zM4 23h1v1h-1zM5 23h1v1h-1zM6 23h1v1h-1zM7 23h1v1h-1zM8 23h1v1h-1zM9 23h1v1h-1zM10 23h1v1h-1zM11 23h1v1h-1zM12 23h1v1h-1zM13 23h1v1h-1zM14 23h1v1h-1zM15 23h1v1h-1zM16 23h1v1h-1zM17 23h1v1h-1zM18 23h1v1h-1zM19 23h1v1h-1zM20 23h1v1h-1zM21 23h1v1h-1zM22 23h1v1h-1zM23 23h1v1h-1zM24 23h1v1h-1zM25 23h1v1h-1zM26 23h1v1h-1zM27 23h1v1h-1zM28 23h1v1h-1zM29 23h1v1h-1zM30 23h1v1h-1zM31 23h1v1h-1zM32 23h1v1h-1zM33 23h1v1h-1zM34 23h1v1h-1zM35 23h1v1h-1zM36 23h1v1h-1zM37 23h1v1h-1zM38 23h1v1h-1zM39 23h1v1h-1zM40 23h1v1h-1zM41 23h1v1h-1zM42 23h1v1h-1zM43 23h1v1h-1zM44 23h1v1h-1zM45 23h1v1h-1zM46 23h1v1h-1zM47 23h1v1h-1z"/><path fill="#b5c7dc" d="M0 22h1v1h-1zM1 22h1v1h-1zM2 22h1v1h-1zM3 22h1v1h-1zM4 22h1v1h-1zM5 22h1v1h-1zM6 22h1v1h-1zM7 22h1v1h-1zM8 22h1v1h-1zM9 22h1v1h-1zM10 22h1v1h-1zM11 22h1v1h-1zM12 22h1v1h-1zM13 22h1v1h-1zM14 22h1v1h-1zM15 22h1v1h-1zM16 22h1v1h-1zM17 22h1v1h-1zM18 22h1v1h-1zM19 22h1v1h-1zM20 22h1v1h-1zM21 22h1v1h-1zM22 22h1v1h-1zM23 22h1v1h-1zM24 22h1v1h-1zM25 22h1v1h-1zM26 22h1v1h-1zM27 22h1v1h-1zM28 22h1v1h-1zM29 22h1v1h-1zM30 22h1v1h-1zM31 22h1v1h-1zM32 22h1v1h-1zM33 22h1v1h-1zM34 22h1v1h-1zM35 22h1v1h-1zM36 22h1v1h-1zM37 22h1v1h-1zM38 22h1v1h-1zM39 22h1v1h-1zM40 22h1v1h-1zM41 22h1v1h-1zM42 22h1v1h-1zM43 22h1v1h-1zM44 22h1v1h-1zM45 22h1v1h-1zM46 22h1v1h-1zM47 22h1v1h-1z"/><path fill="#cbd8e5" d="M0 21h1v1h-1zM1 21h1v1h-1zM2 21h1v1h-1zM3 21h1v1h-1zM4 21h1v1h-1zM5 21h1v1h-1zM6 21h1v1h-1zM7 21h1v1h-1zM8 21h1v1h-1zM9 21h1v1h-1zM10 21h1v1h-1zM11 21h1v1h-1zM12 21h1v1h-1zM13 21h1v1h-1zM14 21h1v1h-1zM15 21h1v1h-1zM16 21h1v1h-1zM17 21h1v1h-1zM18 21h1v1h-1zM19 21h1v1h-1zM20 21h1v1h-1zM21 21h1v1h-1zM22 21h1v1h-1zM23 21h1v1h-1zM24 21h1v1h-1zM25 21h1v1h-1zM26 21h1v1h-1zM27 21h1v1h-1zM28 21h1v1h-1zM29 21h1v1h-1zM30 21h1v1h-1zM31 21h1v1h-1zM32 21h1v1h-1zM33 21h1v1h-1zM34 21h1v1h-1zM35 21h1v1h-1zM36 21h1v1h-1zM37 21h1v1h-1zM38 21h1v1h-1zM39 21h1v1h-1zM40 21h1v1h-1zM41 21h1v1h-1zM42 21h1v1h-1zM43 21h1v1h-1zM44 21h1v1h-1zM45 21h1v1h-1zM46 21h1v1h-1zM47 21h1v1h-1z"/><path fill="#d8e1ec" d="M0 20h1v1h-1zM1 20h1v1h-1zM2 20h1v1h-1zM3 20h1v1h-1zM4 20h1v1h-1zM5 20h1v1h-1zM6 20h1v1h-1zM7 20h1v1h-1zM8 20h1v1h-1zM9 20h1v1h-1zM10 20h1v1h-1zM11 20h1v1h-1zM12 20h1v1h-1zM13 20h1v1h-1zM14 20h1v1h-1zM15 20h1v1h-1zM16 20h1v1h-1zM17 20h1v1h-1zM18 20h1v1h-1zM19 20h1v1h-1zM20 20h1v1h-1zM21 20h1v1h-1zM22 20h1v1h-1zM23 20h1v1h-1zM24 20h1v1h-1zM25 20h1v1h-1zM26 20h1v1h-1zM27 20h1v1h-1zM28 20h1v1h-1zM29 20h1v1h-1zM30 20h1v1h-1zM31 20h1v1h-1zM32 20h1v1h-1zM33 20h1v1h-1zM34 20h1v1h-1zM35 20h1v1h-1zM36 20h1v1h-1zM37 20h1v1h-1zM38 20h1v1h-1zM39 20h1v1h-1zM40 20h1v1h-1zM41 20h1v1h-1zM42 20h1v1h-1zM43 20h1v1h-1zM44 20h1v1h-1zM45 20h1v1h-1zM46 20h1v1h-1zM47 20h1v1h-1z"/><path fill="#dbe3ee" d="M0 19h1v1h-1zM1 19h1v1h-1zM2 19h1v1h-1zM3 19h1v1h-1zM4 19h1v1h-1zM5 19h1v1h-1zM6 19h1v1h-1zM7 19h1v1h-1zM8 19h1v1h-1zM9 19h1v1h-1zM10 19h1v1h-1zM11 19h1v1h-1zM12 19h1v1h-1zM13 19h1v1h-1zM14 19h1v1h-1zM15 19h1v1h-1zM16 19h1v1h-1zM17 19h1v1h-1zM18 19h1v1h-1zM19 19h1v1h-1zM20 19h1v1h-1zM21 19h1v1h-1zM22 19h1v1h-1zM23 19h1v1h-1zM24 19h1v1h-1zM25 19h1v1h-1zM26 19h1v1h-1zM27 19h1v1h-1zM28 19h1v1h-1zM29 19h1v1h-1zM30 19h1v1h-1zM31 19h1v1h-1zM32 19h1v1h-1zM33 19h1v1h-1zM34 19h1v1h-1zM35 19h1v1h-1zM36 19h1v1h-1zM37 19h1v1h-1zM38 19h1v1h-1zM39 19h1v1h-1zM40 19h1v1h-1zM41 19h1v1h-1zM42 19h1v1h-1zM43 19h1v1h-1zM44 19h1v1h-1zM45 19h1v1h-1zM46 19h1v1h-1zM47 19h1v1h-1zM0 18h1v1h-1zM1 18h1v1h-1zM2 18h1v1h-1zM3 18h1v1h-1zM4 18h1v1h-1zM5 18h1v1h-1zM6 18h1v1h-1zM7 18h1v1h-1zM8 18h1v1h-1zM9 18h1v1h-1zM10 18h1v1h-1zM11 18h1v1h-1zM12 18h1v1h-1zM13 18h1v1h-1zM14 18h1v1h-1zM15 18h1v1h-1zM16 18h1v1h-1zM17 18h1v1h-1zM18 18h1v1h-1zM19 18h1v1h-1zM20 18h1v1h-1zM21 18h1v1h-1zM22 18h1v1h-1zM23 18h1v1h-1zM24 18h1v1h-1zM25 18h1v1h-1zM26 18h1v1h-1zM27 18h1v1h-1zM28 18h1v1h-1zM29 18h1v1h-1zM30 18h1v1h-1zM31 18h1v1h-1zM32 18h1v1h-1zM33 18h1v1h-1zM34 18h1v1h-1zM35 18h1v1h-1zM36 18h1v1h-1zM37 18h1v1h-1zM38 18h1v1h-1zM39 18h1v1h-1zM40 18h1v1h-1zM41 18h1v1h-1zM42 18h1v1h-1zM43 18h1v1h-1zM44 18h1v1h-1zM45 18h1v1h-1zM46 18h1v1h-1zM47 18h1v1h-1zM0 17h1v1h-1zM1 17h1v1h-1zM2 17h1v1h-1zM3 17h1v1h-1zM4 17h1v1h-1zM5 17h1v1h-1zM6 17h1v1h-1zM7 17h1v1h-1zM8 17h1v1h-1zM9 17h1v1h-1zM10 17h1v1h-1zM11 17h1v1h-1zM12 17h1v1h-1zM13 17h1v1h-1zM14 17h1v1h-1zM15 17h1v1h-1zM16 17h1v1h-1zM17 17h1v1h-1zM18 17h1v1h-1zM19 17h1v1h-1zM20 17h1v1h-1zM21 17h1v1h-1zM22 17h1v1h-1zM23 17h1v1h-1zM24 17h1v1h-1zM25 17h1v1h-1zM26 17h1v1h-1zM27 17h1v1h-1zM28 17h1v1h-1zM29 17h1v1h-1zM30 17h1v1h-1zM31 17h1v1h-1zM32 17h1v1h-1zM33 17h1v1h-1zM34 17h1v1h-1zM35 17h1v1h-1zM36 17h1v1h-1zM37 17h1v1h-1zM38 17h1v1h-1zM39 17h1v1h-1zM40 17h1v1h-1zM41 17h1v1h-1zM42 17h1v1h-1zM43 17h1v1h-1zM44 17h1v1h-1zM45 17h1v1h-1zM46 17h1v1h-1zM47 17h1v1h-1zM0 16h1v1h-1zM1 16h1v1h-1zM2 16h1v1h-1zM3 16h1v1h-1zM4 16h1v1h-1zM5 16h1v1h-1zM6 16h1v1h-1zM7 16h1v1h-1zM8 16h1v1h-1zM9 16h1v1h-1zM10 16h1v1h-1zM11 16h1v1h-1zM12 16h1v1h-1zM13 16h1v1h-1zM14 16h1v1h-1zM15 16h1v1h-1zM16 16h1v1h-1zM17 16h1v1h-1zM18 16h1v1h-1zM19 16h1v1h-1zM20 16h1v1h-1zM21 16h1v1h-1zM22 16h1v1h-1zM23 16h1v1h-1zM24 16h1v1h-1zM25 16h1v1h-1zM26 16h1v1h-1zM27 16h1v1h-1zM28 16h1v1h-1zM29 16h1v1h-1zM30 16h1v1h-1zM31 16h1v1h-1zM32 16h1v1h-1zM33 16h1v1h-1zM34 16h1v1h-1zM35 16h1v1h-1zM36 16h1v1h-1zM37 16h1v1h-1zM38 16h1v1h-1zM39 16h1v1h-1zM40 16h1v1h-1zM41 16h1v1h-1zM42 16h1v1h-1zM43 16h1v1h-1zM44 16h1v1h-1zM45 16h1v1h-1zM46 16h1v1h-1zM47 16h1v1h-1zM0 15h1v1h-1zM1 15h1v1h-1zM2 15h1v1h-1zM3 15h1v1h-1zM4 15h1v1h-1zM5 15h1v1h-1zM6 15h1v1h-1zM7 15h1v1h-1zM8 15h1v1h-1zM9 15h1v1h-1zM10 15h1v1h-1zM11 15h1v1h-1zM12 15h1v1h-1zM13 15h1v1h-1zM14 15h1v1h-1zM15 15h1v1h-1zM16 15h1v1h-1zM17 15h1v1h-1zM18 15h1v1h-1zM19 15h1v1h-1zM20 15h1v1h-1zM21 15h1v1h-1zM22 15h1v1h-1zM23 15h1v1h-1zM24 15h1v1h-1zM25 15h1v1h-1zM26 15h1v1h-1zM27 15h1v1h-1zM28 15h1v1h-1zM29 15h1v1h-1zM30 15h1v1h-1zM31 15h1v1h-1zM32 15h1v1h-1zM33 15h1v1h-1zM34 15h1v1h-1zM35 15h1v1h-1zM36 15h1v1h-1zM37 15h1v1h-1zM38 15h1v1h-1zM39 15h1v1h-1zM40 15h1v1h-1zM41 15h1v1h-1zM42 15h1v1h-1zM43 15h1v1h-1zM44 15h1v1h-1zM45 15h1v1h-1zM46 15h1v1h-1zM47 15h1v1h-1zM0 14h1v1h-1zM1 14h1v1h-1zM2 14h1v1h-1zM3 14h1v1h-1zM4 14h1v1h-1zM5 14h1v1h-1zM6 14h1v1h-1zM7 14h1v1h-1zM8 14h1v1h-1zM9 14h1v1h-1zM10 14h1v1h-1zM11 14h1v1h-1zM12 14h1v1h-1zM13 14h1v1h-1zM14 14h1v1h-1zM15 14h1v1h-1zM16 14h1v1h-1zM17 14h1v1h-1zM18 14h1v1h-1zM19 14h1v1h-1zM20 14h1v1h-1zM21 14h1v1h-1zM22 14h1v1h-1zM23 14h1v1h-1zM24 14h1v1h-1zM25 14h1v1h-1zM26 14h1v1h-1zM27 14h1v1h-1zM28 14h1v1h-1zM29 14h1v1h-1zM30 14h1v1h-1zM31 14h1v1h-1zM32 14h1v1h-1zM33 14h1v1h-1zM34 14h1v1h-1zM35 14h1v1h-1zM36 14h1v1h-1zM37 14h1v1h-1zM38 14h1v1h-1zM39 14h1v1h-1zM40 14h1v1h-1zM41 14h1v1h-1zM42 14h1v1h-1zM43 14h1v1h-1zM44 14h1v1h-1zM45 14h1v1h-1zM46 14h1v1h-1zM47 14h1v1h-1zM0 13h1v1h-1zM1 13h1v1h-1zM2 13h1v1h-1zM3 13h1v1h-1zM4 13h1v1h-1zM5 13h1v1h-1zM6 13h1v1h-1zM7 13h1v1h-1zM8 13h1v1h-1zM9 13h1v1h-1zM10 13h1v1h-1zM11 13h1v1h-1zM12 13h1v1h-1zM13 13h1v1h-1zM14 13h1v1h-1zM15 13h1v1h-1zM16 13h1v1h-1zM17 13h1v1h-1zM18 13h1v1h-1zM19 13h1v1h-1zM20 13h1v1h-1zM21 13h1v1h-1zM22 13h1v1h-1zM23 13h1v1h-1zM24 13h1v1h-1zM25 13h1v1h-1zM26 13h1v1h-1zM27 13h1v1h-1zM28 13h1v1h-1zM29 13h1v1h-1zM30 13h1v1h-1zM31 13h1v1h-1zM32 13h1v1h-1zM33 13h1v1h-1zM34 13h1v1h-1zM35 13h1v1h-1zM36 13h1v1h-1zM37 13h1v1h-1zM38 13h1v1h-1zM39 13h1v1h-1zM40 13h1v1h-1zM41 13h1v1h-1zM42 13h1v1h-1zM43 13h1v1h-1zM44 13h1v1h-1zM45 13h1v1h-1zM46 13h1v1h-1zM47 13h1v1h-1zM0 12h1v1h-1zM1 12h1v1h-1zM2 12h1v1h-1zM3 12h1v1h-1zM4 12h1v1h-1zM5 12h1v1h-1zM6 12h1v1h-1zM7 12h1v1h-1zM8 12h1v1h-1zM9 12h1v1h-1zM10 12h1v1h-1zM11 12h1v1h-1zM12 12h1v1h-1zM13 12h1v1h-1zM14 12h1v1h-1zM15 12h1v1h-1zM16 12h1v1h-1zM17 12h1v1h-1zM18 12h1v1h-1zM19 12h1v1h-1zM20 12h1v1h-1zM21 12h1v1h-1zM22 12h1v1h-1zM23 12h1v1h-1zM24 12h1v1h-1zM25 12h1v1h-1zM26 12h1v1h-1zM27 12h1v1h-1zM28 12h1v1h-1zM29 12h1v1h-1zM30 12h1v1h-1zM31 12h1v1h-1zM32 12h1v1h-1zM33 12h1v1h-1zM34 12h1v1h-1zM35 12h1v1h-1zM36 12h1v1h-1zM37 12h1v1h-1zM38 12h1v1h-1zM39 12h1v1h-1zM40 12h1v1h-1zM41 12h1v1h-1zM42 12h1v1h-1zM43 12h1v1h-1zM44 12h1v1h-1zM45 12h1v1h-1zM46 12h1v1h-1zM47 12h1v1h-1zM0 11h1v1h-1zM1 11h1v1h-1zM2 11h1v1h-1zM3 11h1v1h-1zM4 11h1v1h-1zM5 11h1v1h-1zM6 11h1v1h-1zM7 11h1v1h-1zM8 11h1v1h-1zM9 11h1v1h-1zM10 11h1v1h-1zM11 11h1v1h-1zM12 11h1v1h-1zM13 11h1v1h-1zM14 11h1v1h-1zM15 11h1v1h-1zM16 11h1v1h-1zM17 11h1v1h-1zM18 11h1v1h-1zM19 11h1v1h-1zM20 11h1v1h-1zM21 11h1v1h-1zM22 11h1v1h-1zM23 11h1v1h-1zM24 11h1v1h-1zM25 11h1v1h-1zM26 11h1v1h-1zM27 11h1v1h-1zM28 11h1v1h-1zM29 11h1v1h-1zM30 11h1v1h-1zM31 11h1v1h-1zM32 11h1v1h-1zM33 11h1v1h-1zM34 11h1v1h-1zM35 11h1v1h-1zM36 11h1v1h-1zM37 11h1v1h-1zM38 11h1v1h-1zM39 11h1v1h-1zM40 11h1v1h-1zM41 11h1v1h-1zM42 11h1v1h-1zM43 11h1v1h-1zM44 11h1v1h-1zM45 11h1v1h-1zM46 11h1v1h-1zM47 11h1v1h-1zM0 10h1v1h-1zM1 10h1v1h-1zM2 10h1v1h-1zM3 10h1v1h-1zM4 10h1v1h-1zM5 10h1v1h-1zM6 10h1v1h-1zM7 10h1v1h-1zM8 10h1v1h-1zM9 10h1v1h-1zM10 10h1v1h-1zM11 10h1v1h-1zM12 10h1v1h-1zM13 10h1v1h-1zM14 10h1v1h-1zM15 10h1v1h-1zM16 10h1v1h-1zM17 10h1v1h-1zM18 10h1v1h-1zM19 10h1v1h-1zM20 10h1v1h-1zM21 10h1v1h-1zM22 10h1v1h-1zM23 10h1v1h-1zM24 10h1v1h-1zM25 10h1v1h-1zM26 10h1v1h-1zM27 10h1v1h-1zM28 10h1v1h-1zM29 10h1v1h-1zM30 10h1v1h-1zM31 10h1v1h-1zM32 10h1v1h-1zM33 10h1v1h-1zM34 10h1v1h-1zM35 10h1v1h-1zM36 10h1v1h-1zM37 10h1v1h-1zM38 10h1v1h-1zM39 10h1v1h-1zM40 10h1v1h-1zM41 10h1v1h-1zM42 10h1v1h-1zM43 10h1v1h-1zM44 10h1v1h-1zM45 10h1v1h-1zM46 10h1v1h-1zM47 10h1v1h-1zM0 9h1v1h-1zM1 9h1v1h-1zM2 9h1v1h-1zM3 9h1v1h-1zM4 9h1v1h-1zM5 9h1v1h-1zM6 9h1v1h-1zM7 9h1v1h-1zM8 9h1v1h-1zM9 9h1v1h-1zM10 9h1v1h-1zM11 9h1v1h-1zM12 9h1v1h-1zM13 9h1v1h-1zM14 9h1v1h-1zM15 9h1v1h-1zM16 9h1v1h-1zM17 9h1v1h-1zM18 9h1v1h-1zM19 9h1v1h-1zM20 9h1v1h-1zM21 9h1v1h-1zM22 9h1v1h-1zM23 9h1v1h-1zM24 9h1v1h-1zM25 9h1v1h-1zM26 9h1v1h-1zM27 9h1v1h-1zM28 9h1v1h-1zM29 9h1v1h-1zM30 9h1v1h-1zM31 9h1v1h-1zM32 9h1v1h-1zM33 9h1v1h-1zM34 9h1v1h-1zM35 9h1v1h-1zM36 9h1v1h-1zM37 9h1v1h-1zM38 9h1v1h-1zM39 9h1v1h-1zM40 9h1v1h-1zM41 9h1v1h-1zM42 9h1v1h-1zM43 9h1v1h-1zM44 9h1v1h-1zM45 9h1v1h-1zM46 9h1v1h-1zM47 9h1v1h-1zM0 8h1v1h-1zM1 8h1v1h-1zM2 8h1v1h-1zM3 8h1v1h-1zM4 8h1v1h-1zM5 8h1v1h-1zM6 8h1v1h-1zM7 8h1v1h-1zM8 8h1v1h-1zM9 8h1v1h-1zM10 8h1v1h-1zM11 8h1v1h-1zM12 8h1v1h-1zM13 8h1v1h-1zM14 8h1v1h-1zM15 8h1v1h-1zM16 8h1v1h-1zM17 8h1v1h-1zM18 8h1v1h-1zM19 8h1v1h-1zM20 8h1v1h-1zM21 8h1v1h-1zM22 8h1v1h-1zM23 8h1v1h-1zM24 8h1v1h-1zM25 8h1v1h-1zM26 8h1v1h-1zM27 8h1v1h-1zM28 8h1v1h-1zM29 8h1v1h-1zM30 8h1v1h-1zM31 8h1v1h-1zM32 8h1v1h-1zM33 8h1v1h-1zM34 8h1v1h-1zM35 8h1v1h-1zM36 8h1v1h-1zM37 8h1v1h-1zM38 8h1v1h-1zM39 8h1v1h-1zM40 8h1v1h-1zM41 8h1v1h-1zM42 8h1v1h-1zM43 8h1v1h-1zM44 8h1v1h-1zM45 8h1v1h-1zM46 8h1v1h-1zM47 8h1v1h-1zM0 7h1v1h-1zM1 7h1v1h-1zM2 7h1v1h-1zM3 7h1v1h-1zM4 7h1v1h-1zM5 7h1v1h-1zM6 7h1v1h-1zM7 7h1v1h-1zM8 7h1v1h-1zM9 7h1v1h-1zM10 7h1v1h-1zM11 7h1v1h-1zM12 7h1v1h-1zM13 7h1v1h-1zM14 7h1v1h-1zM15 7h1v1h-1zM16 7h1v1h-1zM17 7h1v1h-1zM18 7h1v1h-1zM19 7h1v1h-1zM20 7h1v1h-1zM21 7h1v1h-1zM22 7h1v1h-1zM23 7h1v1h-1zM24 7h1v1h-1zM25 7h1v1h-1zM26 7h1v1h-1zM27 7h1v1h-1zM28 7h1v1h-1zM29 7h1v1h-1zM30 7h1v1h-1zM31 7h1v1h-1zM32 7h1v1h-1zM33 7h1v1h-1zM34 7h1v1h-1zM35 7h1v1h-1zM36 7h1v1h-1zM37 7h1v1h-1zM38 7h1v1h-1zM39 7h1v1h-1zM40 7h1v1h-1zM41 7h1v1h-1zM42 7h1v1h-1zM43 7h1v1h-1zM44 7h1v1h-1zM45 7h1v1h-1zM46 7h1v1h-1zM47 7h1v1h-1zM0 6h1v1h-1zM1 6h1v1h-1zM2 6h1v1h-1zM3 6h1v1h-1zM4 6h1v1h-1zM5 6h1v1h-1zM6 6h1v1h-1zM7 6h1v1h-1zM8 6h1v1h-1zM9 6h1v1h-1zM10 6h1v1h-1zM11 6h1v1h-1zM12 6h1v1h-1zM13 6h1v1h-1zM14 6h1v1h-1zM15 6h1v1h-1zM16 6h1v1h-1zM17 6h1v1h-1zM18 6h1v1h-1zM19 6h1v1h-1zM20 6h1v1h-1zM21 6h1v1h-1zM22 6h1v1h-1zM23 6h1v1h-1zM24 6h1v1h-1zM25 6h1v1h-1zM26 6h1v1h-1zM27 6h1v1h-1zM28 6h1v1h-1zM29 6h1v1h-1zM30 6h1v1h-1zM31 6h1v1h-1zM32 6h1v1h-1zM33 6h1v1h-1zM34 6h1v1h-1zM35 6h1v1h-1zM36 6h1v1h-1zM37 6h1v1h-1zM38 6h1v1h-1zM39 6h1v1h-1zM40 6h1v1h-1zM41 6h1v1h-1zM42 6h1v1h-1zM43 6h1v1h-1zM44 6h1v1h-1zM45 6h1v1h-1zM46 6h1v1h-1zM47 6h1v1h-1z"/><path fill="#d5dfeb" d="M0 5h1v1h-1zM1 5h1v1h-1zM2 5h1v1h-1zM3 5h1v1h-1zM4 5h1v1h-1zM5 5h1v1h-1zM6 5h1v1h-1zM7 5h1v1h-1zM8 5h1v1h-1zM9 5h1v1h-1zM10 5h1v1h-1zM11 5h1v1h-1zM12 5h1v1h-1zM13 5h1v1h-1zM14 5h1v1h-1zM15 5h1v1h-1zM16 5h1v1h-1zM17 5h1v1h-1zM18 5h1v1h-1zM19 5h1v1h-1zM20 5h1v1h-1zM21 5h1v1h-1zM22 5h1v1h-1zM23 5h1v1h-1zM24 5h1v1h-1zM25 5h1v1h-1zM26 5h1v1h-1zM27 5h1v1h-1zM28 5h1v1h-1zM29 5h1v1h-1zM30 5h1v1h-1zM31 5h1v1h-1zM32 5h1v1h-1zM33 5h1v1h-1zM34 5h1v1h-1zM35 5h1v1h-1zM36 5h1v1h-1zM37 5h1v1h-1zM38 5h1v1h-1zM39 5h1v1h-1zM40 5h1v1h-1zM41 5h1v1h-1zM42 5h1v1h-1zM43 5h1v1h-1zM44 5h1v1h-1zM45 5h1v1h-1zM46 5h1v1h-1zM47 5h1v1h-1z"/><path fill="#cad8e7" d="M0 4h1v1h-1zM1 4h1v1h-1zM2 4h1v1h-1zM3 4h1v1h-1zM4 4h1v1h-1zM5 4h1v1h-1zM6 4h1v1h-1zM7 4h1v1h-1zM8 4h1v1h-1zM9 4h1v1h-1zM10 4h1v1h-1zM11 4h1v1h-1zM12 4h1v1h-1zM13 4h1v1h-1zM14 4h1v1h-1zM15 4h1v1h-1zM16 4h1v1h-1zM17 4h1v1h-1zM18 4h1v1h-1zM19 4h1v1h-1zM20 4h1v1h-1zM21 4h1v1h-1zM22 4h1v1h-1zM23 4h1v1h-1zM24 4h1v1h-1zM25 4h1v1h-1zM26 4h1v1h-1zM27 4h1v1h-1zM28 4h1v1h-1zM29 4h1v1h-1zM30 4h1v1h-1zM31 4h1v1h-1zM32 4h1v1h-1zM33 4h1v1h-1zM34 4h1v1h-1zM35 4h1v1h-1zM36 4h1v1h-1zM37 4h1v1h-1zM38 4h1v1h-1zM39 4h1v1h-1zM40 4h1v1h-1zM41 4h1v1h-1zM42 4h1v1h-1zM43 4h1v1h-1zM44 4h1v1h-1zM45 4h1v1h-1zM46 4h1v1h-1zM47 4h1v1h-1z"/><path fill="#a3bad5" d="M0 2h1v1h-1zM1 2h1v1h-1zM2 2h1v1h-1zM3 2h1v1h-1zM4 2h1v1h-1zM5 2h1v1h-1zM6 2h1v1h-1zM7 2h1v1h-1zM8 2h1v1h-1zM9 2h1v1h-1zM10 2h1v1h-1zM11 2h1v1h-1zM12 2h1v1h-1zM13 2h1v1h-1zM14 2h1v1h-1zM15 2h1v1h-1zM16 2h1v1h-1zM17 2h1v1h-1zM18 2h1v1h-1zM19 2h1v1h-1zM20 2h1v1h-1zM21 2h1v1h-1zM22 2h1v1h-1zM23 2h1v1h-1zM24 2h1v1h-1zM25 2h1v1h-1zM26 2h1v1h-1zM27 2h1v1h-1zM28 2h1v1h-1zM29 2h1v1h-1zM30 2h1v1h-1zM31 2h1v1h-1zM32 2h1v1h-1zM33 2h1v1h-1zM34 2h1v1h-1zM35 2h1v1h-1zM36 2h1v1h-1zM37 2h1v1h-1zM38 2h1v1h-1zM39 2h1v1h-1zM40 2h1v1h-1zM41 2h1v1h-1zM42 2h1v1h-1zM43 2h1v1h-1zM44 2h1v1h-1zM45 2h1v1h-1zM46 2h1v1h-1zM47 2h1v1h-1z"/><path fill="#85a3c6" d="M0 1h1v1h-1zM1 1h1v1h-1zM2 1h1v1h-1zM3 1h1v1h-1zM4 1h1v1h-1zM5 1h1v1h-1zM6 1h1v1h-1zM7 1h1v1h-1zM8 1h1v1h-1zM9 1h1v1h-1zM10 1h1v1h-1zM11 1h1v1h-1zM12 1h1v1h-1zM13 1h1v1h-1zM14 1h1v1h-1zM15 1h1v1h-1zM16 1h1v1h-1zM17 1h1v1h-1zM18 1h1v1h-1zM19 1h1v1h-1zM20 1h1v1h-1zM21 1h1v1h-1zM22 1h1v1h-1zM23 1h1v1h-1zM24 1h1v1h-1zM25 1h1v1h-1zM26 1h1v1h-1zM27 1h1v1h-1zM28 1h1v1h-1zM29 1h1v1h-1zM30 1h1v1h-1zM31 1h1v1h-1zM32 1h1v1h-1zM33 1h1v1h-1zM34 1h1v1h-1zM35 1h1v1h-1zM36 1h1v1h-1zM37 1h1v1h-1zM38 1h1v1h-1zM39 1h1v1h-1zM40 1h1v1h-1zM41 1h1v1h-1zM42 1h1v1h-1zM43 1h1v1h-1zM44 1h1v1h-1zM45 1h1v1h-1zM46 1h1v1h-1zM47 1h1v1h-1z"/><path fill="#6f93bb" d="M0 0h1v1h-1zM1 0h1v1h-1zM2 0h1v1h-1zM3 0h1v1h-1zM4 0h1v1h-1zM5 0h1v1h-1zM6 0h1v1h-1zM7 0h1v1h-1zM8 0h1v1h-1zM9 0h1v1h-1zM10 0h1v1h-1zM11 0h1v1h-1zM12 0h1v1h-1zM13 0h1v1h-1zM14 0h1v1h-1zM15 0h1v1h-1zM16 0h1v1h-1zM17 0h1v1h-1zM18 0h1v1h-1zM19 0h1v1h-1zM20 0h1v1h-1zM21 0h1v1h-1zM22 0h1v1h-1zM23 0h1v1h-1zM24 0h1v1h-1zM25 0h1v1h-1zM26 0h1v1h-1zM27 0h1v1h-1zM28 0h1v1h-1zM29 0h1v1h-1zM30 0h1v1h-1zM31 0h1v1h-1zM32 0h1v1h-1zM33 0h1v1h-1zM34 0h1v1h-1zM35 0h1v1h-1zM36 0h1v1h-1zM37 0h1v1h-1zM38 0h1v1h-1zM39 0h1v1h-1zM40 0h1v1h-1zM41 0h1v1h-1zM42 0h1v1h-1zM43 0h1v1h-1zM44 0h1v1h-1zM45 0h1v1h-1zM46 0h1v1h-1zM47 0h1v1h-1z"/></g>
<rect x="50.5" y="299.5" width="253.5" height="253.79999999999995" fill="none" stroke="#c8c8c8" stroke-width="1"/><line x1="50.5" y1="550.88" x2="53.5" y2="550.88" stroke="#999" stroke-width="0.8"/><line x1="52.75" y1="553.3" x2="52.75" y2="550.3" stroke="#999" stroke-width="0.8"/><text x="47.5" y="556.88" font-family="Liberation Serif, serif" font-size="23" text-anchor="end">1</text><text x="52.75" y="572.6" font-family="Liberation Serif, serif" font-size="23" text-anchor="middle">1</text><line x1="50.5" y1="473.105" x2="53.5" y2="473.105" stroke="#999" stroke-width="0.8"/><line x1="130.52499999999998" y1="553.3" x2="130.52499999999998" y2="550.3" stroke="#999" stroke-width="0.8"/><text x="47.5" y="479.105" font-family="Liberation Serif, serif" font-size="23" text-anchor="end">16</text><text x="130.52499999999998" y="572.6" font-family="Liberation Serif, serif" font-size="23" text-anchor="middle">16</text><line x1="50.5" y1="390.145" x2="53.5" y2="390.145" stroke="#999" stroke-width="0.8"/><line x1="213.48499999999999" y1="553.3" x2="213.48499999999999" y2="550.3" stroke="#999" stroke-width="0.8"/><text x="47.5" y="396.145" font-family="Liberation Serif, serif" font-size="23" text-anchor="end">32</text><text x="213.48499999999999" y="572.6" font-family="Liberation Serif, serif" font-size="23" text-anchor="middle">32</text><line x1="50.5" y1="307.185" x2="53.5" y2="307.185" stroke="#999" stroke-width="0.8"/><line x1="296.445" y1="553.3" x2="296.445" y2="550.3" stroke="#999" stroke-width="0.8"/><text x="47.5" y="313.185" font-family="Liberation Serif, serif" font-size="23" text-anchor="end">48</text><text x="296.445" y="572.6" font-family="Liberation Serif, serif" font-size="23" text-anchor="middle">48</text>
<g transform="translate(431.5,302.0) scale(5.185)" shape-rendering="crispEdges"><path fill="#cdd9e7" d="M0 47h1v1h-1zM1 47h1v1h-1zM2 47h1v1h-1zM3 47h1v1h-1zM18 47h1v1h-1zM19 47h1v1h-1zM20 47h1v1h-1zM0 46h1v1h-1zM1 46h1v1h-1zM2 46h1v1h-1zM3 46h1v1h-1zM18 46h1v1h-1zM19 46h1v1h-1zM20 46h1v1h-1zM0 45h1v1h-1zM1 45h1v1h-1zM2 45h1v1h-1zM18 45h1v1h-1zM19 45h1v1h-1zM20 45h1v1h-1zM0 44h1v1h-1zM1 44h1v1h-1zM3 44h1v1h-1zM18 44h1v1h-1zM19 44h1v1h-1zM0 43h1v1h-1zM2 43h1v1h-1zM18 43h1v1h-1zM19 43h1v1h-1zM1 42h1v1h-1zM18 42h1v1h-1zM19 42h1v1h-1zM20 42h1v1h-1zM2 41h1v1h-1zM18 41h1v1h-1zM19 41h1v1h-1zM20 41h1v1h-1zM18 40h1v1h-1zM19 40h1v1h-1zM20 40h1v1h-1zM21 40h1v1h-1zM5 38h1v1h-1zM39 31h1v1h-1zM22 30h1v1h-1zM40 30h1v1h-1zM41 29h1v1h-1zM42 28h1v1h-1zM15 27h1v1h-1zM43 27h1v1h-1zM23 26h1v1h-1zM24 26h1v1h-1zM44 26h1v1h-1zM45 25h1v1h-1zM21 24h1v1h-1zM46 24h1v1h-1zM15 23h1v1h-1zM21 23h1v1h-1zM35 21h1v1h-1zM23 19h1v1h-1zM24 19h1v1h-1zM25 19h1v1h-1zM0 16h1v1h-1zM1 16h1v1h-1zM2 16h1v1h-1zM3 16h1v1h-1zM4 16h1v1h-1zM5 16h1v1h-1zM16 16h1v1h-1zM17 16h1v1h-1zM18 16h1v1h-1zM19 16h1v1h-1zM20 16h1v1h-1zM21 16h1v1h-1zM22 16h1v1h-1zM23 16h1v1h-1zM24 16h1v1h-1zM25 16h1v1h-1zM26 16h1v1h-1zM27 16h1v1h-1zM45 14h1v1h-1zM44 13h1v1h-1zM46 13h1v1h-1zM43 12h1v1h-1zM45 12h1v1h-1zM44 11h1v1h-1zM42 8h1v1h-1zM43 8h1v1h-1zM47 8h1v1h-1zM4 6h1v1h-1zM4 5h1v1h-1zM35 5h1v1h-1zM39 5h1v1h-1zM47 5h1v1h-1zM1 4h1v1h-1zM3 4h1v1h-1zM34 4h1v1h-1zM39 4h1v1h-1zM46 4h1v1h-1zM47 4h1v1h-1zM33 3h1v1h-1zM35 3h1v1h-1zM47 3h1v1h-1zM34 2h1v1h-1zM32 1h1v1h-1zM34 1h1v1h-1z"/><path fill="#ccd8e7" d="M4 47h1v1h-1zM45 47h1v1h-1zM3 45h1v1h-1zM47 45h1v1h-1zM2 44h1v1h-1zM1 43h1v1h-1zM0 42h1v1h-1zM4 42h1v1h-1zM0 41h1v1h-1zM45 40h1v1h-1zM4 38h1v1h-1zM3 37h1v1h-1zM2 36h1v1h-1zM4 36h1v1h-1zM1 35h1v1h-1zM3 35h1v1h-1zM2 34h1v1h-1zM39 30h1v1h-1zM22 29h1v1h-1zM39 29h1v1h-1zM40 29h1v1h-1zM39 28h1v1h-1zM40 28h1v1h-1zM41 28h1v1h-1zM17 27h1v1h-1zM18 27h1v1h-1zM19 27h1v1h-1zM20 27h1v1h-1zM39 27h1v1h-1zM40 27h1v1h-1zM41 27h1v1h-1zM42 27h1v1h-1zM15 26h1v1h-1zM25 26h1v1h-1zM39 26h1v1h-1zM40 26h1v1h-1zM41 26h1v1h-1zM42 26h1v1h-1zM43 26h1v1h-1zM21 25h1v1h-1zM26 25h1v1h-1zM39 25h1v1h-1zM40 25h1v1h-1zM41 25h1v1h-1zM42 25h1v1h-1zM43 25h1v1h-1zM44 25h1v1h-1zM15 24h1v1h-1zM39 24h1v1h-1zM40 24h1v1h-1zM41 24h1v1h-1zM42 24h1v1h-1zM43 24h1v1h-1zM44 24h1v1h-1zM45 24h1v1h-1zM32 23h1v1h-1zM36 23h1v1h-1zM39 23h1v1h-1zM40 23h1v1h-1zM41 23h1v1h-1zM42 23h1v1h-1zM43 23h1v1h-1zM44 23h1v1h-1zM45 23h1v1h-1zM15 22h1v1h-1zM21 22h1v1h-1zM26 22h1v1h-1zM22 21h1v1h-1zM25 21h1v1h-1zM5 15h1v1h-1zM5 14h1v1h-1zM5 13h1v1h-1zM5 12h1v1h-1zM5 11h1v1h-1zM42 11h1v1h-1zM5 10h1v1h-1zM43 10h1v1h-1zM8 9h1v1h-1zM9 9h1v1h-1zM10 9h1v1h-1zM11 9h1v1h-1zM12 9h1v1h-1zM13 9h1v1h-1zM3 7h1v1h-1zM4 7h1v1h-1zM1 5h1v1h-1zM3 5h1v1h-1zM2 4h1v1h-1zM32 2h1v1h-1zM35 1h1v1h-1zM36 1h1v1h-1z"/><path fill="#c9d6e5" d="M5 47h1v1h-1zM32 47h1v1h-1zM33 47h1v1h-1zM34 47h1v1h-1zM35 47h1v1h-1zM36 47h1v1h-1zM37 47h1v1h-1zM44 47h1v1h-1zM32 46h1v1h-1zM33 46h1v1h-1zM34 46h1v1h-1zM35 46h1v1h-1zM36 46h1v1h-1zM37 46h1v1h-1zM44 46h1v1h-1zM32 45h1v1h-1zM33 45h1v1h-1zM34 45h1v1h-1zM35 45h1v1h-1zM36 45h1v1h-1zM37 45h1v1h-1zM32 44h1v1h-1zM33 44h1v1h-1zM34 44h1v1h-1zM35 44h1v1h-1zM36 44h1v1h-1zM37 44h1v1h-1zM45 44h1v1h-1zM32 43h1v1h-1zM33 43h1v1h-1zM34 43h1v1h-1zM35 43h1v1h-1zM36 43h1v1h-1zM37 43h1v1h-1zM39 43h1v1h-1zM44 43h1v1h-1zM45 43h1v1h-1zM46 43h1v1h-1zM47 43h1v1h-1zM5 42h1v1h-1zM32 42h1v1h-1zM33 42h1v1h-1zM34 42h1v1h-1zM35 42h1v1h-1zM36 42h1v1h-1zM37 42h1v1h-1zM39 42h1v1h-1zM40 42h1v1h-1zM41 42h1v1h-1zM42 42h1v1h-1zM43 42h1v1h-1zM44 42h1v1h-1zM45 42h1v1h-1zM46 42h1v1h-1zM47 42h1v1h-1zM37 41h1v1h-1zM3 40h1v1h-1zM4 40h1v1h-1zM37 40h1v1h-1zM0 39h1v1h-1zM1 39h1v1h-1zM2 39h1v1h-1zM3 39h1v1h-1zM5 39h1v1h-1zM0 38h1v1h-1zM1 38h1v1h-1zM2 38h1v1h-1zM0 37h1v1h-1zM1 37h1v1h-1zM0 36h1v1h-1zM5 36h1v1h-1zM4 34h1v1h-1zM3 33h1v1h-1zM4 33h1v1h-1zM0 32h1v1h-1zM1 32h1v1h-1zM2 32h1v1h-1zM3 32h1v1h-1zM4 32h1v1h-1zM0 31h1v1h-1zM1 31h1v1h-1zM2 31h1v1h-1zM3 31h1v1h-1zM4 31h1v1h-1zM0 30h1v1h-1zM1 30h1v1h-1zM2 30h1v1h-1zM3 30h1v1h-1zM4 30h1v1h-1zM4 24h1v1h-1zM34 22h1v1h-1zM5 21h1v1h-1zM34 21h1v1h-1zM36 20h1v1h-1zM0 19h1v1h-1zM1 19h1v1h-1zM2 19h1v1h-1zM5 7h1v1h-1zM32 7h1v1h-1zM33 7h1v1h-1zM34 7h1v1h-1zM35 7h1v1h-1zM36 7h1v1h-1zM5 6h1v1h-1zM32 6h1v1h-1zM33 6h1v1h-1zM34 6h1v1h-1zM32 5h1v1h-1zM33 5h1v1h-1zM32 4h1v1h-1zM3 2h1v1h-1zM4 1h1v1h-1z"/><path fill="#c1cfe1" d="M6 47h1v1h-1zM28 47h1v1h-1zM6 46h1v1h-1zM28 46h1v1h-1zM6 45h1v1h-1zM28 45h1v1h-1zM6 44h1v1h-1zM28 44h1v1h-1zM6 43h1v1h-1zM28 43h1v1h-1zM6 42h1v1h-1zM28 42h1v1h-1zM6 41h1v1h-1zM28 41h1v1h-1zM6 40h1v1h-1zM28 40h1v1h-1zM6 39h1v1h-1zM6 38h1v1h-1zM6 37h1v1h-1zM6 36h1v1h-1zM6 35h1v1h-1zM6 34h1v1h-1zM6 33h1v1h-1zM6 32h1v1h-1zM28 31h1v1h-1zM28 30h1v1h-1zM28 29h1v1h-1zM28 28h1v1h-1zM28 23h1v1h-1zM28 22h1v1h-1zM28 21h1v1h-1zM28 20h1v1h-1zM18 18h1v1h-1zM19 18h1v1h-1zM20 18h1v1h-1zM21 18h1v1h-1zM22 18h1v1h-1zM32 18h1v1h-1zM33 18h1v1h-1zM34 18h1v1h-1zM35 18h1v1h-1zM36 18h1v1h-1zM37 18h1v1h-1zM8 17h1v1h-1zM9 17h1v1h-1zM10 17h1v1h-1zM11 17h1v1h-1zM23 17h1v1h-1zM24 17h1v1h-1zM25 17h1v1h-1zM41 17h1v1h-1zM42 17h1v1h-1zM43 17h1v1h-1zM44 17h1v1h-1zM45 17h1v1h-1zM46 17h1v1h-1zM31 16h1v1h-1zM28 15h1v1h-1zM31 15h1v1h-1zM28 14h1v1h-1zM31 14h1v1h-1zM28 13h1v1h-1zM31 13h1v1h-1zM28 12h1v1h-1zM31 12h1v1h-1zM28 11h1v1h-1zM31 11h1v1h-1zM28 10h1v1h-1zM31 10h1v1h-1z"/><path fill="#abbfd7" d="M7 47h1v1h-1zM7 46h1v1h-1zM7 45h1v1h-1zM7 44h1v1h-1zM7 43h1v1h-1zM30 4h1v1h-1zM7 3h1v1h-1zM30 3h1v1h-1zM7 2h1v1h-1zM30 2h1v1h-1zM7 1h1v1h-1zM30 1h1v1h-1zM7 0h1v1h-1z"/><path fill="#cfdae8" d="M8 47h1v1h-1zM15 47h1v1h-1zM8 46h1v1h-1zM15 46h1v1h-1zM8 45h1v1h-1zM15 45h1v1h-1zM22 45h1v1h-1zM8 44h1v1h-1zM15 44h1v1h-1zM3 43h1v1h-1zM8 43h1v1h-1zM15 43h1v1h-1zM2 42h1v1h-1zM22 40h1v1h-1zM17 39h1v1h-1zM20 39h1v1h-1zM18 38h1v1h-1zM3 36h1v1h-1zM2 35h1v1h-1zM15 29h1v1h-1zM21 29h1v1h-1zM17 28h1v1h-1zM20 28h1v1h-1zM46 14h1v1h-1zM43 11h1v1h-1zM39 9h1v1h-1zM0 8h1v1h-1zM40 7h1v1h-1z"/><path fill="#cfdbe8" d="M9 47h1v1h-1zM10 47h1v1h-1zM11 47h1v1h-1zM12 47h1v1h-1zM13 47h1v1h-1zM14 47h1v1h-1zM9 46h1v1h-1zM10 46h1v1h-1zM11 46h1v1h-1zM9 45h1v1h-1zM10 45h1v1h-1zM9 44h1v1h-1zM22 44h1v1h-1zM14 43h1v1h-1zM14 42h1v1h-1zM39 39h1v1h-1zM40 39h1v1h-1zM41 39h1v1h-1zM42 39h1v1h-1zM43 39h1v1h-1zM44 39h1v1h-1zM14 26h1v1h-1zM14 25h1v1h-1zM14 21h1v1h-1zM14 20h1v1h-1zM39 16h1v1h-1zM40 16h1v1h-1zM41 16h1v1h-1zM42 16h1v1h-1zM43 16h1v1h-1zM44 16h1v1h-1zM45 16h1v1h-1zM46 16h1v1h-1zM47 16h1v1h-1zM0 15h1v1h-1zM1 15h1v1h-1zM2 15h1v1h-1zM3 15h1v1h-1zM4 15h1v1h-1zM26 15h1v1h-1zM27 15h1v1h-1zM0 14h1v1h-1zM1 14h1v1h-1zM2 14h1v1h-1zM3 14h1v1h-1zM4 14h1v1h-1zM27 14h1v1h-1zM0 13h1v1h-1zM1 13h1v1h-1zM2 13h1v1h-1zM3 13h1v1h-1zM4 13h1v1h-1zM0 12h1v1h-1zM1 12h1v1h-1zM2 12h1v1h-1zM3 12h1v1h-1zM4 12h1v1h-1zM0 11h1v1h-1zM1 11h1v1h-1zM2 11h1v1h-1zM3 11h1v1h-1zM4 11h1v1h-1zM0 10h1v1h-1zM1 10h1v1h-1zM2 10h1v1h-1zM3 10h1v1h-1zM4 10h1v1h-1zM2 8h1v1h-1zM0 7h1v1h-1zM35 4h1v1h-1zM34 3h1v1h-1zM33 2h1v1h-1zM35 0h1v1h-1zM36 0h1v1h-1z"/><path fill="#cedae7" d="M16 47h1v1h-1zM16 46h1v1h-1zM16 45h1v1h-1zM4 44h1v1h-1zM16 44h1v1h-1zM4 43h1v1h-1zM32 40h1v1h-1zM46 40h1v1h-1zM18 39h1v1h-1zM19 39h1v1h-1zM1 34h1v1h-1zM22 31h1v1h-1zM24 31h1v1h-1zM25 31h1v1h-1zM1 8h1v1h-1zM39 2h1v1h-1zM40 2h1v1h-1zM41 2h1v1h-1zM43 2h1v1h-1zM44 2h1v1h-1zM45 2h1v1h-1zM46 2h1v1h-1zM2 1h1v1h-1z"/><path fill="#ced9e7" d="M17 47h1v1h-1zM21 47h1v1h-1zM27 47h1v1h-1zM17 46h1v1h-1zM21 46h1v1h-1zM27 46h1v1h-1zM17 45h1v1h-1zM21 45h1v1h-1zM17 44h1v1h-1zM20 44h1v1h-1zM21 44h1v1h-1zM17 43h1v1h-1zM20 43h1v1h-1zM1 41h1v1h-1zM21 41h1v1h-1zM23 31h1v1h-1zM15 28h1v1h-1zM21 28h1v1h-1zM1 24h1v1h-1zM26 24h1v1h-1zM26 23h1v1h-1zM4 22h1v1h-1zM23 21h1v1h-1zM24 21h1v1h-1zM41 8h1v1h-1zM41 7h1v1h-1zM42 7h1v1h-1zM47 7h1v1h-1zM39 6h1v1h-1zM40 6h1v1h-1zM41 6h1v1h-1zM47 6h1v1h-1zM40 5h1v1h-1zM46 5h1v1h-1zM36 4h1v1h-1zM40 4h1v1h-1zM45 4h1v1h-1zM1 3h1v1h-1zM39 3h1v1h-1zM40 3h1v1h-1zM44 3h1v1h-1zM45 3h1v1h-1zM46 3h1v1h-1zM47 2h1v1h-1z"/><path fill="#d1dce9" d="M22 47h1v1h-1zM13 46h1v1h-1zM26 46h1v1h-1zM14 45h1v1h-1zM27 45h1v1h-1zM22 43h1v1h-1zM16 42h1v1h-1zM12 41h1v1h-1zM13 41h1v1h-1zM14 41h1v1h-1zM33 40h1v1h-1zM22 39h1v1h-1zM17 37h1v1h-1zM21 36h1v1h-1zM18 33h1v1h-1zM18 31h1v1h-1zM19 31h1v1h-1zM20 31h1v1h-1zM20 30h1v1h-1zM14 29h1v1h-1zM17 29h1v1h-1zM20 29h1v1h-1zM34 25h1v1h-1zM35 25h1v1h-1zM36 25h1v1h-1zM14 24h1v1h-1zM14 22h1v1h-1zM4 21h1v1h-1zM25 13h1v1h-1zM26 13h1v1h-1zM27 12h1v1h-1zM25 11h1v1h-1zM26 11h1v1h-1zM25 10h1v1h-1zM40 8h1v1h-1zM39 7h1v1h-1zM1 2h1v1h-1zM3 0h1v1h-1z"/><path fill="#dbe4ee" d="M23 47h1v1h-1zM24 42h1v1h-1zM16 34h1v1h-1zM43 30h1v1h-1zM44 30h1v1h-1zM45 30h1v1h-1zM46 30h1v1h-1zM47 30h1v1h-1zM44 29h1v1h-1zM45 29h1v1h-1zM46 29h1v1h-1zM47 29h1v1h-1zM45 28h1v1h-1zM46 28h1v1h-1zM47 28h1v1h-1zM46 27h1v1h-1zM47 27h1v1h-1zM47 26h1v1h-1zM0 20h1v1h-1zM5 18h1v1h-1zM8 7h1v1h-1zM8 6h1v1h-1zM8 5h1v1h-1zM8 4h1v1h-1zM8 3h1v1h-1zM10 2h1v1h-1zM11 2h1v1h-1zM12 2h1v1h-1zM13 2h1v1h-1zM9 1h1v1h-1zM15 1h1v1h-1zM16 0h1v1h-1zM22 0h1v1h-1z"/><path fill="#e8eef4" d="M24 47h1v1h-1zM25 46h1v1h-1zM12 37h1v1h-1zM11 36h1v1h-1zM13 36h1v1h-1zM10 35h1v1h-1zM12 35h1v1h-1zM11 34h1v1h-1zM40 31h1v1h-1zM47 24h1v1h-1zM15 8h1v1h-1zM16 7h1v1h-1zM21 2h1v1h-1zM22 1h1v1h-1z"/><path fill="#dfe7f0" d="M25 47h1v1h-1zM26 43h1v1h-1zM27 43h1v1h-1zM9 39h1v1h-1zM10 39h1v1h-1zM11 39h1v1h-1zM12 39h1v1h-1zM13 39h1v1h-1zM15 37h1v1h-1zM15 36h1v1h-1zM8 32h1v1h-1zM42 29h1v1h-1zM43 28h1v1h-1zM14 9h1v1h-1z"/><path fill="#d2dce9" d="M26 47h1v1h-1zM27 40h1v1h-1zM45 39h1v1h-1zM39 38h1v1h-1zM40 38h1v1h-1zM41 38h1v1h-1zM42 38h1v1h-1zM43 38h1v1h-1zM44 38h1v1h-1zM22 33h1v1h-1zM17 31h1v1h-1zM17 30h1v1h-1zM18 29h1v1h-1zM19 29h1v1h-1zM8 28h1v1h-1zM13 27h1v1h-1zM13 26h1v1h-1zM13 25h1v1h-1zM13 21h1v1h-1zM8 20h1v1h-1zM13 20h1v1h-1zM25 12h1v1h-1zM44 7h1v1h-1zM43 6h1v1h-1zM45 6h1v1h-1zM42 5h1v1h-1zM44 5h1v1h-1zM43 4h1v1h-1zM39 0h1v1h-1zM40 0h1v1h-1zM41 0h1v1h-1zM42 0h1v1h-1zM43 0h1v1h-1zM44 0h1v1h-1zM45 0h1v1h-1z"/><path fill="#b9cade" d="M29 47h1v1h-1zM29 46h1v1h-1zM29 45h1v1h-1zM29 44h1v1h-1zM29 43h1v1h-1zM29 42h1v1h-1zM29 41h1v1h-1zM29 40h1v1h-1zM29 35h1v1h-1zM29 34h1v1h-1zM29 33h1v1h-1zM29 32h1v1h-1zM17 17h1v1h-1zM18 17h1v1h-1zM19 17h1v1h-1zM20 17h1v1h-1zM21 17h1v1h-1zM22 17h1v1h-1zM29 8h1v1h-1zM29 7h1v1h-1zM29 6h1v1h-1zM29 5h1v1h-1zM29 4h1v1h-1zM29 3h1v1h-1zM29 2h1v1h-1zM29 1h1v1h-1z"/><path fill="#b0c2d9" d="M30 47h1v1h-1zM30 46h1v1h-1zM30 45h1v1h-1zM30 44h1v1h-1zM30 43h1v1h-1zM38 43h1v1h-1zM30 42h1v1h-1zM38 42h1v1h-1zM30 41h1v1h-1zM38 41h1v1h-1zM30 40h1v1h-1zM38 40h1v1h-1zM29 28h1v1h-1zM29 27h1v1h-1zM29 26h1v1h-1zM29 25h1v1h-1zM29 24h1v1h-1z"/><path fill="#c6d3e4" d="M31 47h1v1h-1zM31 46h1v1h-1zM31 45h1v1h-1zM31 44h1v1h-1zM31 43h1v1h-1zM31 42h1v1h-1zM31 41h1v1h-1zM31 40h1v1h-1zM31 39h1v1h-1zM31 38h1v1h-1zM31 37h1v1h-1zM31 36h1v1h-1zM31 35h1v1h-1zM31 34h1v1h-1zM31 33h1v1h-1zM31 32h1v1h-1zM16 18h1v1h-1zM17 18h1v1h-1zM23 18h1v1h-1zM24 18h1v1h-1zM25 18h1v1h-1zM39 18h1v1h-1zM40 18h1v1h-1zM41 18h1v1h-1zM42 18h1v1h-1zM43 18h1v1h-1zM44 18h1v1h-1zM45 18h1v1h-1zM46 18h1v1h-1zM47 18h1v1h-1zM39 17h1v1h-1zM47 17h1v1h-1zM7 16h1v1h-1z"/><path fill="#b7c8dd" d="M38 47h1v1h-1zM29 39h1v1h-1zM29 38h1v1h-1zM29 37h1v1h-1zM29 36h1v1h-1zM28 18h1v1h-1zM30 0h1v1h-1z"/><path fill="#c9d5e5" d="M39 47h1v1h-1zM5 45h1v1h-1zM44 45h1v1h-1zM44 44h1v1h-1zM40 43h1v1h-1zM43 43h1v1h-1zM5 41h1v1h-1zM0 25h1v1h-1zM1 25h1v1h-1zM2 25h1v1h-1z"/><path fill="#c8d5e5" d="M40 47h1v1h-1zM41 47h1v1h-1zM42 47h1v1h-1zM43 47h1v1h-1zM5 46h1v1h-1zM39 46h1v1h-1zM39 45h1v1h-1zM39 44h1v1h-1zM41 43h1v1h-1zM42 43h1v1h-1zM5 40h1v1h-1zM5 35h1v1h-1zM5 34h1v1h-1zM5 33h1v1h-1zM5 32h1v1h-1zM0 29h1v1h-1zM1 29h1v1h-1zM2 29h1v1h-1zM3 29h1v1h-1zM4 29h1v1h-1zM3 25h1v1h-1zM4 25h1v1h-1zM32 22h1v1h-1zM33 22h1v1h-1zM33 21h1v1h-1zM34 20h1v1h-1zM32 9h1v1h-1zM33 9h1v1h-1zM34 9h1v1h-1zM35 9h1v1h-1zM36 9h1v1h-1zM37 9h1v1h-1zM5 0h1v1h-1z"/><path fill="#d0dbe9" d="M46 47h1v1h-1zM22 46h1v1h-1zM47 46h1v1h-1zM11 45h1v1h-1zM10 44h1v1h-1zM13 43h1v1h-1zM12 42h1v1h-1zM21 39h1v1h-1zM18 37h1v1h-1zM20 35h1v1h-1zM19 34h1v1h-1zM18 32h1v1h-1zM19 32h1v1h-1zM22 32h1v1h-1zM15 30h1v1h-1zM16 30h1v1h-1zM22 25h1v1h-1zM33 24h1v1h-1zM25 22h1v1h-1zM25 15h1v1h-1zM25 14h1v1h-1zM0 6h1v1h-1z"/><path fill="#d3ddea" d="M47 47h1v1h-1zM12 45h1v1h-1zM11 44h1v1h-1zM13 44h1v1h-1zM23 44h1v1h-1zM10 43h1v1h-1zM12 43h1v1h-1zM9 42h1v1h-1zM8 41h1v1h-1zM15 41h1v1h-1zM27 41h1v1h-1zM16 40h1v1h-1zM23 39h1v1h-1zM20 38h1v1h-1zM47 38h1v1h-1zM22 37h1v1h-1zM40 33h1v1h-1zM10 29h1v1h-1zM9 28h1v1h-1zM8 27h1v1h-1zM12 27h1v1h-1zM11 26h1v1h-1zM8 25h1v1h-1zM10 25h1v1h-1zM23 25h1v1h-1zM24 25h1v1h-1zM10 24h1v1h-1zM22 24h1v1h-1zM25 24h1v1h-1zM22 23h1v1h-1zM25 23h1v1h-1zM10 22h1v1h-1zM23 22h1v1h-1zM24 22h1v1h-1zM6 17h1v1h-1zM26 12h1v1h-1zM0 4h1v1h-1z"/><path fill="#ccd8e6" d="M4 46h1v1h-1zM39 40h1v1h-1zM40 40h1v1h-1zM41 40h1v1h-1zM42 40h1v1h-1zM43 40h1v1h-1zM44 40h1v1h-1zM22 28h1v1h-1zM16 27h1v1h-1zM21 27h1v1h-1zM15 25h1v1h-1zM46 23h1v1h-1zM15 21h1v1h-1zM36 21h1v1h-1zM15 20h1v1h-1zM5 17h1v1h-1zM46 15h1v1h-1zM47 14h1v1h-1zM42 10h1v1h-1zM1 7h1v1h-1zM36 6h1v1h-1zM2 3h1v1h-1zM2 2h1v1h-1z"/><path fill="#d0dbe8" d="M12 46h1v1h-1zM14 46h1v1h-1zM14 44h1v1h-1zM9 43h1v1h-1zM8 42h1v1h-1zM13 42h1v1h-1zM15 42h1v1h-1zM17 41h1v1h-1zM19 38h1v1h-1zM21 35h1v1h-1zM20 34h1v1h-1zM21 34h1v1h-1zM19 33h1v1h-1zM20 33h1v1h-1zM21 33h1v1h-1zM20 32h1v1h-1zM21 32h1v1h-1zM21 31h1v1h-1zM21 30h1v1h-1zM16 29h1v1h-1zM14 28h1v1h-1zM18 28h1v1h-1zM19 28h1v1h-1zM14 27h1v1h-1zM25 25h1v1h-1zM3 23h1v1h-1zM22 22h1v1h-1zM26 14h1v1h-1zM27 13h1v1h-1zM45 13h1v1h-1zM44 12h1v1h-1zM27 11h1v1h-1zM26 10h1v1h-1zM27 10h1v1h-1zM3 8h1v1h-1zM4 8h1v1h-1zM45 8h1v1h-1zM46 7h1v1h-1zM36 5h1v1h-1zM41 4h1v1h-1zM42 3h1v1h-1zM39 1h1v1h-1zM40 1h1v1h-1zM41 1h1v1h-1zM42 1h1v1h-1zM43 1h1v1h-1zM44 1h1v1h-1zM45 1h1v1h-1zM46 1h1v1h-1zM32 0h1v1h-1zM33 0h1v1h-1zM34 0h1v1h-1z"/><path fill="#dae3ed" d="M23 46h1v1h-1zM24 43h1v1h-1zM26 42h1v1h-1zM15 39h1v1h-1zM42 31h1v1h-1zM43 31h1v1h-1zM44 31h1v1h-1zM45 31h1v1h-1zM46 31h1v1h-1zM47 31h1v1h-1zM42 30h1v1h-1zM43 29h1v1h-1zM44 28h1v1h-1zM45 27h1v1h-1zM46 26h1v1h-1zM47 25h1v1h-1zM32 15h1v1h-1zM33 15h1v1h-1zM34 15h1v1h-1zM35 15h1v1h-1zM36 15h1v1h-1zM32 14h1v1h-1zM33 14h1v1h-1zM34 14h1v1h-1zM35 14h1v1h-1zM36 14h1v1h-1zM32 13h1v1h-1zM33 13h1v1h-1zM34 13h1v1h-1zM35 13h1v1h-1zM36 13h1v1h-1zM32 12h1v1h-1zM33 12h1v1h-1zM34 12h1v1h-1zM35 12h1v1h-1zM36 12h1v1h-1zM32 11h1v1h-1zM33 11h1v1h-1zM34 11h1v1h-1zM35 11h1v1h-1zM36 11h1v1h-1zM21 8h1v1h-1zM17 7h1v1h-1zM18 7h1v1h-1zM19 7h1v1h-1zM20 7h1v1h-1zM16 6h1v1h-1zM16 5h1v1h-1zM16 4h1v1h-1zM16 3h1v1h-1zM16 2h1v1h-1zM10 1h1v1h-1zM11 1h1v1h-1zM12 1h1v1h-1zM13 1h1v1h-1zM16 1h1v1h-1zM17 1h1v1h-1zM18 1h1v1h-1zM19 1h1v1h-1zM20 1h1v1h-1zM15 0h1v1h-1z"/><path fill="#e5ebf2" d="M24 46h1v1h-1zM10 38h1v1h-1zM11 38h1v1h-1zM14 35h1v1h-1zM14 34h1v1h-1zM12 33h1v1h-1zM13 33h1v1h-1zM2 22h1v1h-1zM8 11h1v1h-1z"/><path fill="#aabed6" d="M38 46h1v1h-1zM38 45h1v1h-1zM38 44h1v1h-1zM29 18h1v1h-1zM30 15h1v1h-1zM30 14h1v1h-1zM30 13h1v1h-1zM30 12h1v1h-1zM30 11h1v1h-1zM30 10h1v1h-1z"/><path fill="#c8d5e4" d="M40 46h1v1h-1zM43 46h1v1h-1zM40 44h1v1h-1zM43 44h1v1h-1zM5 31h1v1h-1zM5 23h1v1h-1zM37 23h1v1h-1zM5 22h1v1h-1zM37 22h1v1h-1zM32 21h1v1h-1zM37 21h1v1h-1zM32 20h1v1h-1zM33 20h1v1h-1zM37 20h1v1h-1zM16 19h1v1h-1zM17 19h1v1h-1zM18 19h1v1h-1zM19 19h1v1h-1zM22 19h1v1h-1zM26 19h1v1h-1zM27 19h1v1h-1zM32 19h1v1h-1zM33 19h1v1h-1zM34 19h1v1h-1zM35 19h1v1h-1zM36 19h1v1h-1zM37 19h1v1h-1zM0 18h1v1h-1zM1 18h1v1h-1zM2 18h1v1h-1zM3 18h1v1h-1zM8 18h1v1h-1zM9 18h1v1h-1zM10 18h1v1h-1zM11 18h1v1h-1zM12 18h1v1h-1zM13 18h1v1h-1zM14 18h1v1h-1zM15 18h1v1h-1zM28 0h1v1h-1z"/><path fill="#c7d4e4" d="M41 46h1v1h-1zM42 46h1v1h-1zM40 45h1v1h-1zM41 45h1v1h-1zM42 45h1v1h-1zM43 45h1v1h-1zM41 44h1v1h-1zM42 44h1v1h-1zM37 31h1v1h-1zM37 30h1v1h-1zM5 29h1v1h-1zM37 29h1v1h-1zM37 28h1v1h-1zM0 27h1v1h-1zM1 27h1v1h-1zM2 27h1v1h-1zM3 27h1v1h-1zM4 27h1v1h-1zM37 27h1v1h-1zM37 26h1v1h-1zM5 25h1v1h-1zM37 25h1v1h-1zM37 24h1v1h-1zM37 8h1v1h-1zM37 7h1v1h-1zM37 6h1v1h-1zM37 5h1v1h-1zM4 3h1v1h-1zM4 2h1v1h-1z"/><path fill="#cbd7e6" d="M45 46h1v1h-1zM4 45h1v1h-1zM4 41h1v1h-1zM33 41h1v1h-1zM5 37h1v1h-1zM0 34h1v1h-1zM1 33h1v1h-1zM23 30h1v1h-1zM24 30h1v1h-1zM25 30h1v1h-1zM26 30h1v1h-1zM27 30h1v1h-1zM22 27h1v1h-1zM23 27h1v1h-1zM21 26h1v1h-1zM26 26h1v1h-1zM27 24h1v1h-1zM27 23h1v1h-1zM33 23h1v1h-1zM35 23h1v1h-1zM39 22h1v1h-1zM40 22h1v1h-1zM41 22h1v1h-1zM42 22h1v1h-1zM43 22h1v1h-1zM44 22h1v1h-1zM45 22h1v1h-1zM21 21h1v1h-1zM26 21h1v1h-1zM5 20h1v1h-1zM23 20h1v1h-1zM24 20h1v1h-1zM42 15h1v1h-1zM45 15h1v1h-1zM47 15h1v1h-1zM42 14h1v1h-1zM42 13h1v1h-1zM43 13h1v1h-1zM47 13h1v1h-1zM44 10h1v1h-1zM5 8h1v1h-1zM2 7h1v1h-1zM1 6h1v1h-1zM3 6h1v1h-1zM2 5h1v1h-1zM4 4h1v1h-1zM3 3h1v1h-1zM35 2h1v1h-1z"/><path fill="#cedae8" d="M46 46h1v1h-1zM16 43h1v1h-1zM21 43h1v1h-1zM3 42h1v1h-1zM17 42h1v1h-1zM21 42h1v1h-1zM17 40h1v1h-1zM4 37h1v1h-1zM26 31h1v1h-1zM27 31h1v1h-1zM16 28h1v1h-1zM34 24h1v1h-1zM35 24h1v1h-1zM36 24h1v1h-1zM36 22h1v1h-1zM41 15h1v1h-1zM41 14h1v1h-1zM41 13h1v1h-1zM41 12h1v1h-1zM41 11h1v1h-1zM41 10h1v1h-1zM44 8h1v1h-1zM46 8h1v1h-1zM43 7h1v1h-1zM42 6h1v1h-1zM46 6h1v1h-1zM41 5h1v1h-1zM45 5h1v1h-1zM44 4h1v1h-1zM41 3h1v1h-1zM43 3h1v1h-1zM42 2h1v1h-1zM33 1h1v1h-1zM4 0h1v1h-1z"/><path fill="#d5dfeb" d="M13 45h1v1h-1zM23 45h1v1h-1zM10 41h1v1h-1zM23 41h1v1h-1zM25 39h1v1h-1zM26 39h1v1h-1zM23 38h1v1h-1zM23 37h1v1h-1zM23 36h1v1h-1zM17 35h1v1h-1zM23 35h1v1h-1zM17 33h1v1h-1zM24 32h1v1h-1zM15 31h1v1h-1zM13 29h1v1h-1zM32 24h1v1h-1zM4 18h1v1h-1zM18 15h1v1h-1zM19 15h1v1h-1zM20 15h1v1h-1zM18 14h1v1h-1zM19 14h1v1h-1zM20 14h1v1h-1zM18 13h1v1h-1zM19 13h1v1h-1zM20 13h1v1h-1zM18 12h1v1h-1zM19 12h1v1h-1zM20 12h1v1h-1zM18 11h1v1h-1zM19 11h1v1h-1zM20 11h1v1h-1zM18 10h1v1h-1zM19 10h1v1h-1zM22 7h1v1h-1zM22 6h1v1h-1zM22 5h1v1h-1zM22 4h1v1h-1zM22 3h1v1h-1zM22 2h1v1h-1zM23 1h1v1h-1zM24 1h1v1h-1zM25 1h1v1h-1zM26 1h1v1h-1zM27 1h1v1h-1z"/><path fill="#e0e7f0" d="M24 45h1v1h-1zM15 35h1v1h-1zM10 32h1v1h-1zM11 32h1v1h-1zM32 32h1v1h-1zM33 32h1v1h-1zM34 32h1v1h-1zM35 32h1v1h-1zM36 32h1v1h-1z"/><path fill="#e6ecf3" d="M25 45h1v1h-1zM13 38h1v1h-1zM14 38h1v1h-1zM9 37h1v1h-1zM10 37h1v1h-1zM14 37h1v1h-1zM9 36h1v1h-1zM8 34h1v1h-1zM13 34h1v1h-1zM37 34h1v1h-1zM39 32h1v1h-1zM8 15h1v1h-1z"/><path fill="#e3eaf2" d="M26 45h1v1h-1zM41 30h1v1h-1zM45 26h1v1h-1zM46 25h1v1h-1zM1 21h1v1h-1zM3 19h1v1h-1zM4 19h1v1h-1zM8 13h1v1h-1z"/><path fill="#cad6e5" d="M45 45h1v1h-1zM46 44h1v1h-1zM47 44h1v1h-1zM39 41h1v1h-1zM40 41h1v1h-1zM41 41h1v1h-1zM42 41h1v1h-1zM43 41h1v1h-1zM44 41h1v1h-1zM45 41h1v1h-1zM46 41h1v1h-1zM47 41h1v1h-1zM0 40h1v1h-1zM2 40h1v1h-1zM4 39h1v1h-1zM3 38h1v1h-1zM4 35h1v1h-1zM2 33h1v1h-1zM38 33h1v1h-1zM24 29h1v1h-1zM25 29h1v1h-1zM26 29h1v1h-1zM27 29h1v1h-1zM24 28h1v1h-1zM25 28h1v1h-1zM26 28h1v1h-1zM27 28h1v1h-1zM27 27h1v1h-1zM17 25h1v1h-1zM18 25h1v1h-1zM19 25h1v1h-1zM17 24h1v1h-1zM18 24h1v1h-1zM19 24h1v1h-1zM17 23h1v1h-1zM18 23h1v1h-1zM19 23h1v1h-1zM17 22h1v1h-1zM18 22h1v1h-1zM19 22h1v1h-1zM17 21h1v1h-1zM18 21h1v1h-1zM19 21h1v1h-1zM39 21h1v1h-1zM40 21h1v1h-1zM41 21h1v1h-1zM42 21h1v1h-1zM43 21h1v1h-1zM44 21h1v1h-1zM45 21h1v1h-1zM46 21h1v1h-1zM47 21h1v1h-1zM17 20h1v1h-1zM18 20h1v1h-1zM19 20h1v1h-1zM20 20h1v1h-1zM27 20h1v1h-1zM35 20h1v1h-1zM39 20h1v1h-1zM40 20h1v1h-1zM41 20h1v1h-1zM42 20h1v1h-1zM43 20h1v1h-1zM44 20h1v1h-1zM45 20h1v1h-1zM46 20h1v1h-1zM47 20h1v1h-1zM5 19h1v1h-1zM39 19h1v1h-1zM40 19h1v1h-1zM41 19h1v1h-1zM42 19h1v1h-1zM43 19h1v1h-1zM44 19h1v1h-1zM45 19h1v1h-1zM46 19h1v1h-1zM47 19h1v1h-1zM32 16h1v1h-1zM33 16h1v1h-1zM34 16h1v1h-1zM35 16h1v1h-1zM36 16h1v1h-1zM37 16h1v1h-1zM37 15h1v1h-1zM43 15h1v1h-1zM44 15h1v1h-1zM37 14h1v1h-1zM43 14h1v1h-1zM37 13h1v1h-1zM37 12h1v1h-1zM47 12h1v1h-1zM37 11h1v1h-1zM46 11h1v1h-1zM47 11h1v1h-1zM37 10h1v1h-1zM45 10h1v1h-1zM46 10h1v1h-1zM47 10h1v1h-1zM32 8h1v1h-1zM33 8h1v1h-1zM34 8h1v1h-1zM35 8h1v1h-1zM36 8h1v1h-1zM2 6h1v1h-1z"/><path fill="#cbd8e6" d="M46 45h1v1h-1zM3 41h1v1h-1zM34 41h1v1h-1zM35 41h1v1h-1zM36 41h1v1h-1zM0 24h1v1h-1zM47 23h1v1h-1zM35 22h1v1h-1zM42 12h1v1h-1zM3 1h1v1h-1z"/><path fill="#cad7e6" d="M5 44h1v1h-1zM32 41h1v1h-1zM1 40h1v1h-1zM0 35h1v1h-1zM23 29h1v1h-1zM23 28h1v1h-1zM24 27h1v1h-1zM25 27h1v1h-1zM16 26h1v1h-1zM17 26h1v1h-1zM18 26h1v1h-1zM19 26h1v1h-1zM20 26h1v1h-1zM27 26h1v1h-1zM16 25h1v1h-1zM20 25h1v1h-1zM27 25h1v1h-1zM3 24h1v1h-1zM16 24h1v1h-1zM20 24h1v1h-1zM4 23h1v1h-1zM16 23h1v1h-1zM20 23h1v1h-1zM34 23h1v1h-1zM16 22h1v1h-1zM20 22h1v1h-1zM27 22h1v1h-1zM46 22h1v1h-1zM47 22h1v1h-1zM16 21h1v1h-1zM27 21h1v1h-1zM16 20h1v1h-1zM21 20h1v1h-1zM22 20h1v1h-1zM25 20h1v1h-1zM26 20h1v1h-1zM44 14h1v1h-1zM46 12h1v1h-1zM45 11h1v1h-1zM35 6h1v1h-1zM34 5h1v1h-1zM33 4h1v1h-1zM32 3h1v1h-1zM36 3h1v1h-1z"/><path fill="#d6dfeb" d="M12 44h1v1h-1zM11 43h1v1h-1zM14 40h1v1h-1zM16 38h1v1h-1zM10 28h1v1h-1zM12 28h1v1h-1zM9 27h1v1h-1zM11 27h1v1h-1zM10 26h1v1h-1zM17 15h1v1h-1zM17 14h1v1h-1zM17 13h1v1h-1zM17 12h1v1h-1zM17 11h1v1h-1zM17 10h1v1h-1zM20 10h1v1h-1zM22 8h1v1h-1z"/><path fill="#dae2ed" d="M24 44h1v1h-1zM12 31h1v1h-1zM34 31h1v1h-1zM35 31h1v1h-1zM36 31h1v1h-1zM21 1h1v1h-1z"/><path fill="#e2e9f1" d="M25 44h1v1h-1zM37 39h1v1h-1zM34 38h1v1h-1zM35 38h1v1h-1zM36 38h1v1h-1zM37 38h1v1h-1zM32 37h1v1h-1zM33 37h1v1h-1zM35 37h1v1h-1zM36 37h1v1h-1zM37 37h1v1h-1zM32 36h1v1h-1zM33 36h1v1h-1zM34 36h1v1h-1zM36 36h1v1h-1zM37 36h1v1h-1zM32 35h1v1h-1zM33 35h1v1h-1zM34 35h1v1h-1zM35 35h1v1h-1zM37 35h1v1h-1zM32 34h1v1h-1zM33 34h1v1h-1zM34 34h1v1h-1zM35 34h1v1h-1zM36 34h1v1h-1zM32 33h1v1h-1zM33 33h1v1h-1zM34 33h1v1h-1zM35 33h1v1h-1zM36 33h1v1h-1zM37 33h1v1h-1zM37 32h1v1h-1zM44 27h1v1h-1zM3 21h1v1h-1zM0 0h1v1h-1z"/><path fill="#e5ebf3" d="M26 44h1v1h-1zM12 38h1v1h-1zM8 37h1v1h-1zM8 36h1v1h-1zM14 36h1v1h-1zM8 35h1v1h-1zM8 33h1v1h-1zM11 33h1v1h-1zM2 20h1v1h-1zM14 10h1v1h-1z"/><path fill="#d9e2ed" d="M27 44h1v1h-1zM9 40h1v1h-1zM24 34h1v1h-1zM25 33h1v1h-1zM11 31h1v1h-1zM32 31h1v1h-1zM33 31h1v1h-1zM41 31h1v1h-1zM13 30h1v1h-1zM32 10h1v1h-1zM33 10h1v1h-1zM34 10h1v1h-1zM35 10h1v1h-1zM36 10h1v1h-1zM15 9h1v1h-1zM21 7h1v1h-1zM18 6h1v1h-1zM19 6h1v1h-1zM20 6h1v1h-1zM17 5h1v1h-1zM19 5h1v1h-1zM20 5h1v1h-1zM17 4h1v1h-1zM18 4h1v1h-1zM20 4h1v1h-1zM17 3h1v1h-1zM18 3h1v1h-1zM19 3h1v1h-1zM17 2h1v1h-1zM18 2h1v1h-1zM19 2h1v1h-1zM20 2h1v1h-1zM1 0h1v1h-1zM8 0h1v1h-1zM14 0h1v1h-1z"/><path fill="#cad6e6" d="M5 43h1v1h-1zM2 37h1v1h-1zM1 36h1v1h-1zM3 34h1v1h-1zM0 33h1v1h-1zM26 27h1v1h-1zM20 21h1v1h-1zM36 2h1v1h-1z"/><path fill="#d6e0eb" d="M23 43h1v1h-1zM10 42h1v1h-1zM16 41h1v1h-1zM26 41h1v1h-1zM13 40h1v1h-1zM46 39h1v1h-1zM21 38h1v1h-1zM16 37h1v1h-1zM20 37h1v1h-1zM19 36h1v1h-1zM23 34h1v1h-1zM23 33h1v1h-1zM41 32h1v1h-1zM11 29h1v1h-1zM9 23h1v1h-1zM4 20h1v1h-1zM21 15h1v1h-1zM21 14h1v1h-1zM21 13h1v1h-1zM21 12h1v1h-1zM21 11h1v1h-1z"/><path fill="#dee6ef" d="M25 43h1v1h-1zM34 39h1v1h-1zM35 39h1v1h-1zM36 39h1v1h-1zM15 11h1v1h-1zM15 10h1v1h-1zM8 1h1v1h-1z"/><path fill="#b5c7dc" d="M7 42h1v1h-1zM7 41h1v1h-1zM7 40h1v1h-1zM7 39h1v1h-1zM7 38h1v1h-1zM7 37h1v1h-1zM7 36h1v1h-1zM7 35h1v1h-1zM7 34h1v1h-1zM7 33h1v1h-1zM7 32h1v1h-1zM7 8h1v1h-1zM7 7h1v1h-1zM7 6h1v1h-1zM7 5h1v1h-1zM7 4h1v1h-1z"/><path fill="#d3deea" d="M11 42h1v1h-1zM26 40h1v1h-1zM34 40h1v1h-1zM16 39h1v1h-1zM19 37h1v1h-1zM18 36h1v1h-1zM20 36h1v1h-1zM19 35h1v1h-1zM41 33h1v1h-1zM8 30h1v1h-1zM13 23h1v1h-1zM40 15h1v1h-1zM40 14h1v1h-1zM40 13h1v1h-1zM40 12h1v1h-1zM40 11h1v1h-1zM40 10h1v1h-1z"/><path fill="#d2dde9" d="M22 42h1v1h-1zM11 41h1v1h-1zM23 40h1v1h-1zM39 37h1v1h-1zM40 37h1v1h-1zM41 37h1v1h-1zM42 37h1v1h-1zM43 37h1v1h-1zM44 37h1v1h-1zM45 37h1v1h-1zM47 37h1v1h-1zM17 36h1v1h-1zM22 36h1v1h-1zM39 36h1v1h-1zM40 36h1v1h-1zM41 36h1v1h-1zM42 36h1v1h-1zM43 36h1v1h-1zM44 36h1v1h-1zM45 36h1v1h-1zM46 36h1v1h-1zM47 36h1v1h-1zM22 35h1v1h-1zM39 35h1v1h-1zM40 35h1v1h-1zM41 35h1v1h-1zM42 35h1v1h-1zM43 35h1v1h-1zM44 35h1v1h-1zM45 35h1v1h-1zM46 35h1v1h-1zM47 35h1v1h-1zM22 34h1v1h-1zM17 32h1v1h-1zM18 30h1v1h-1zM19 30h1v1h-1zM8 29h1v1h-1zM32 28h1v1h-1zM32 27h1v1h-1zM33 27h1v1h-1zM34 27h1v1h-1zM35 27h1v1h-1zM36 27h1v1h-1zM12 26h1v1h-1zM33 26h1v1h-1zM34 26h1v1h-1zM35 26h1v1h-1zM36 26h1v1h-1zM12 25h1v1h-1zM33 25h1v1h-1zM12 24h1v1h-1zM13 24h1v1h-1zM12 22h1v1h-1zM13 22h1v1h-1zM8 21h1v1h-1zM11 21h1v1h-1zM12 21h1v1h-1zM9 20h1v1h-1zM10 20h1v1h-1zM11 20h1v1h-1zM12 20h1v1h-1zM8 19h1v1h-1zM9 19h1v1h-1zM10 19h1v1h-1zM11 19h1v1h-1zM12 19h1v1h-1zM13 19h1v1h-1zM14 19h1v1h-1zM15 19h1v1h-1zM0 5h1v1h-1zM47 1h1v1h-1z"/><path fill="#d7e1ec" d="M23 42h1v1h-1zM10 40h1v1h-1zM24 37h1v1h-1zM24 36h1v1h-1zM24 35h1v1h-1zM43 32h1v1h-1zM44 32h1v1h-1zM45 32h1v1h-1zM46 32h1v1h-1zM47 32h1v1h-1zM12 30h1v1h-1zM9 26h1v1h-1zM21 3h1v1h-1zM24 0h1v1h-1z"/><path fill="#dce4ee" d="M25 42h1v1h-1zM24 33h1v1h-1zM15 32h1v1h-1zM13 31h1v1h-1zM8 8h1v1h-1zM9 8h1v1h-1zM10 8h1v1h-1zM12 8h1v1h-1zM13 8h1v1h-1zM14 8h1v1h-1zM16 8h1v1h-1zM17 8h1v1h-1zM9 7h1v1h-1zM10 7h1v1h-1zM11 7h1v1h-1zM12 7h1v1h-1zM13 7h1v1h-1zM14 7h1v1h-1zM9 6h1v1h-1zM10 6h1v1h-1zM11 6h1v1h-1zM12 6h1v1h-1zM13 6h1v1h-1zM9 5h1v1h-1zM10 5h1v1h-1zM11 5h1v1h-1zM12 5h1v1h-1zM13 5h1v1h-1zM9 4h1v1h-1zM10 4h1v1h-1zM11 4h1v1h-1zM12 4h1v1h-1zM13 4h1v1h-1zM9 3h1v1h-1zM10 3h1v1h-1zM11 3h1v1h-1zM12 3h1v1h-1zM13 3h1v1h-1zM9 2h1v1h-1zM14 2h1v1h-1zM0 1h1v1h-1zM17 0h1v1h-1zM18 0h1v1h-1zM19 0h1v1h-1zM20 0h1v1h-1zM21 0h1v1h-1zM47 0h1v1h-1z"/><path fill="#d8e1ec" d="M27 42h1v1h-1zM24 41h1v1h-1zM25 41h1v1h-1zM25 37h1v1h-1zM26 37h1v1h-1zM27 37h1v1h-1zM25 36h1v1h-1zM26 36h1v1h-1zM27 36h1v1h-1zM16 35h1v1h-1zM25 35h1v1h-1zM26 35h1v1h-1zM27 35h1v1h-1zM17 34h1v1h-1zM26 34h1v1h-1zM27 34h1v1h-1zM8 31h1v1h-1zM9 31h1v1h-1zM10 31h1v1h-1zM12 29h1v1h-1zM11 28h1v1h-1zM10 27h1v1h-1zM23 24h1v1h-1zM24 24h1v1h-1zM23 23h1v1h-1zM24 23h1v1h-1zM8 16h1v1h-1zM9 16h1v1h-1zM10 16h1v1h-1zM11 16h1v1h-1zM12 16h1v1h-1zM13 16h1v1h-1zM14 16h1v1h-1zM15 16h1v1h-1zM16 15h1v1h-1zM22 15h1v1h-1zM23 15h1v1h-1zM16 14h1v1h-1zM22 14h1v1h-1zM23 14h1v1h-1zM16 13h1v1h-1zM22 13h1v1h-1zM23 13h1v1h-1zM16 12h1v1h-1zM22 12h1v1h-1zM23 12h1v1h-1zM16 11h1v1h-1zM22 11h1v1h-1zM23 11h1v1h-1zM16 10h1v1h-1zM22 10h1v1h-1zM23 10h1v1h-1zM21 6h1v1h-1zM21 5h1v1h-1zM21 4h1v1h-1zM0 2h1v1h-1zM10 0h1v1h-1zM11 0h1v1h-1zM12 0h1v1h-1zM13 0h1v1h-1zM25 0h1v1h-1zM26 0h1v1h-1zM27 0h1v1h-1z"/><path fill="#d7e0ec" d="M9 41h1v1h-1zM8 40h1v1h-1zM11 40h1v1h-1zM24 38h1v1h-1zM25 38h1v1h-1zM26 38h1v1h-1zM27 38h1v1h-1zM16 36h1v1h-1zM26 33h1v1h-1zM27 33h1v1h-1zM16 32h1v1h-1zM42 32h1v1h-1zM39 15h1v1h-1zM39 14h1v1h-1zM39 13h1v1h-1zM39 12h1v1h-1zM39 11h1v1h-1zM39 10h1v1h-1z"/><path fill="#d1dbe9" d="M22 41h1v1h-1zM17 38h1v1h-1z"/><path fill="#d6e0ec" d="M12 40h1v1h-1zM18 35h1v1h-1zM21 10h1v1h-1z"/><path fill="#d4dfeb" d="M15 40h1v1h-1zM24 39h1v1h-1zM11 30h1v1h-1zM44 6h1v1h-1zM43 5h1v1h-1z"/><path fill="#d4deea" d="M24 40h1v1h-1zM25 40h1v1h-1zM35 40h1v1h-1zM36 40h1v1h-1zM22 38h1v1h-1zM46 38h1v1h-1zM21 37h1v1h-1zM18 34h1v1h-1zM42 33h1v1h-1zM43 33h1v1h-1zM44 33h1v1h-1zM45 33h1v1h-1zM46 33h1v1h-1zM47 33h1v1h-1zM25 32h1v1h-1zM26 32h1v1h-1zM27 32h1v1h-1zM40 32h1v1h-1zM9 30h1v1h-1zM10 30h1v1h-1zM14 30h1v1h-1zM32 30h1v1h-1zM33 30h1v1h-1zM34 30h1v1h-1zM35 30h1v1h-1zM36 30h1v1h-1zM8 26h1v1h-1zM9 25h1v1h-1zM32 25h1v1h-1zM9 24h1v1h-1zM8 23h1v1h-1zM10 23h1v1h-1zM14 23h1v1h-1zM9 22h1v1h-1zM24 15h1v1h-1zM24 14h1v1h-1zM24 13h1v1h-1zM24 12h1v1h-1zM24 11h1v1h-1zM24 10h1v1h-1zM23 8h1v1h-1zM24 8h1v1h-1zM25 8h1v1h-1zM26 8h1v1h-1zM27 8h1v1h-1zM23 7h1v1h-1zM24 7h1v1h-1zM25 7h1v1h-1zM26 7h1v1h-1zM27 7h1v1h-1zM45 7h1v1h-1zM23 6h1v1h-1zM24 6h1v1h-1zM25 6h1v1h-1zM26 6h1v1h-1zM27 6h1v1h-1zM23 5h1v1h-1zM24 5h1v1h-1zM25 5h1v1h-1zM26 5h1v1h-1zM27 5h1v1h-1zM23 4h1v1h-1zM24 4h1v1h-1zM25 4h1v1h-1zM26 4h1v1h-1zM27 4h1v1h-1zM42 4h1v1h-1zM0 3h1v1h-1zM23 3h1v1h-1zM24 3h1v1h-1zM25 3h1v1h-1zM26 3h1v1h-1zM27 3h1v1h-1zM23 2h1v1h-1zM24 2h1v1h-1zM25 2h1v1h-1zM26 2h1v1h-1zM27 2h1v1h-1zM1 1h1v1h-1zM2 0h1v1h-1zM46 0h1v1h-1z"/><path fill="#cdd8e7" d="M47 40h1v1h-1zM22 26h1v1h-1zM2 24h1v1h-1z"/><path fill="#dfe6ef" d="M8 39h1v1h-1zM14 39h1v1h-1zM15 38h1v1h-1zM0 21h1v1h-1zM1 20h1v1h-1zM40 17h1v1h-1zM15 15h1v1h-1zM15 14h1v1h-1zM15 13h1v1h-1zM15 12h1v1h-1z"/><path fill="#d4deeb" d="M27 39h1v1h-1z"/><path fill="#c3d1e2" d="M28 39h1v1h-1zM28 38h1v1h-1zM28 37h1v1h-1zM28 36h1v1h-1zM28 35h1v1h-1zM28 34h1v1h-1zM28 33h1v1h-1zM28 32h1v1h-1zM0 17h1v1h-1zM1 17h1v1h-1zM2 17h1v1h-1zM3 17h1v1h-1zM4 17h1v1h-1zM28 8h1v1h-1zM28 7h1v1h-1zM28 6h1v1h-1zM28 5h1v1h-1zM28 4h1v1h-1zM37 4h1v1h-1zM5 3h1v1h-1zM28 3h1v1h-1zM37 3h1v1h-1zM28 2h1v1h-1zM37 2h1v1h-1zM28 1h1v1h-1zM37 1h1v1h-1zM37 0h1v1h-1z"/><path fill="#acc0d7" d="M30 39h1v1h-1zM30 38h1v1h-1zM30 37h1v1h-1zM38 37h1v1h-1zM30 36h1v1h-1zM38 36h1v1h-1zM38 35h1v1h-1zM38 34h1v1h-1zM30 8h1v1h-1zM30 7h1v1h-1zM30 6h1v1h-1zM30 5h1v1h-1z"/><path fill="#eef2f7" d="M32 39h1v1h-1zM36 35h1v1h-1zM11 15h1v1h-1zM12 15h1v1h-1zM11 14h1v1h-1zM12 14h1v1h-1zM11 13h1v1h-1zM12 13h1v1h-1zM12 12h1v1h-1zM11 11h1v1h-1zM17 6h1v1h-1zM19 4h1v1h-1zM20 3h1v1h-1zM23 0h1v1h-1z"/><path fill="#dde5ee" d="M33 39h1v1h-1zM18 8h1v1h-1zM15 6h1v1h-1zM14 4h1v1h-1zM8 2h1v1h-1zM15 2h1v1h-1z"/><path fill="#b2c5da" d="M38 39h1v1h-1zM38 38h1v1h-1zM28 17h1v1h-1z"/><path fill="#d2ddea" d="M47 39h1v1h-1zM45 38h1v1h-1zM46 37h1v1h-1zM39 34h1v1h-1zM40 34h1v1h-1zM41 34h1v1h-1zM42 34h1v1h-1zM43 34h1v1h-1zM44 34h1v1h-1zM45 34h1v1h-1zM46 34h1v1h-1zM47 34h1v1h-1zM39 33h1v1h-1zM23 32h1v1h-1zM16 31h1v1h-1zM9 29h1v1h-1zM32 29h1v1h-1zM33 29h1v1h-1zM34 29h1v1h-1zM35 29h1v1h-1zM36 29h1v1h-1zM13 28h1v1h-1zM33 28h1v1h-1zM34 28h1v1h-1zM35 28h1v1h-1zM36 28h1v1h-1zM32 26h1v1h-1zM11 25h1v1h-1zM8 24h1v1h-1zM11 24h1v1h-1zM11 23h1v1h-1zM12 23h1v1h-1zM8 22h1v1h-1zM11 22h1v1h-1zM9 21h1v1h-1zM10 21h1v1h-1z"/><path fill="#e4eaf2" d="M8 38h1v1h-1zM14 33h1v1h-1z"/><path fill="#e4ebf2" d="M9 38h1v1h-1zM0 22h1v1h-1zM8 12h1v1h-1zM8 10h1v1h-1z"/><path fill="#e2e8f1" d="M32 38h1v1h-1z"/><path fill="#f5f7fa" d="M33 38h1v1h-1zM35 36h1v1h-1zM13 10h1v1h-1z"/><path fill="#e7ecf3" d="M11 37h1v1h-1zM10 36h1v1h-1zM9 35h1v1h-1zM13 35h1v1h-1zM12 34h1v1h-1zM10 33h1v1h-1zM14 11h1v1h-1z"/><path fill="#e9eff5" d="M13 37h1v1h-1zM2 21h1v1h-1zM3 20h1v1h-1z"/><path fill="#f9fafc" d="M34 37h1v1h-1zM9 14h1v1h-1zM10 13h1v1h-1zM11 12h1v1h-1z"/><path fill="#eaeff5" d="M12 36h1v1h-1zM11 35h1v1h-1zM10 34h1v1h-1z"/><path fill="#aec1d8" d="M30 35h1v1h-1zM30 34h1v1h-1zM30 33h1v1h-1zM30 32h1v1h-1zM38 24h1v1h-1zM29 19h1v1h-1z"/><path fill="#e8edf4" d="M9 34h1v1h-1zM9 33h1v1h-1zM9 13h1v1h-1z"/><path fill="#e1e8f0" d="M15 34h1v1h-1zM9 32h1v1h-1zM14 32h1v1h-1z"/><path fill="#d8e2ec" d="M25 34h1v1h-1zM2 23h1v1h-1zM9 0h1v1h-1z"/><path fill="#e1e8f1" d="M15 33h1v1h-1zM13 32h1v1h-1z"/><path fill="#dde5ef" d="M16 33h1v1h-1zM1 23h1v1h-1zM19 8h1v1h-1zM15 5h1v1h-1zM15 4h1v1h-1zM15 3h1v1h-1z"/><path fill="#e0e8f0" d="M12 32h1v1h-1z"/><path fill="#a6bbd4" d="M38 32h1v1h-1zM38 0h1v1h-1z"/><path fill="#becee0" d="M6 31h1v1h-1zM6 30h1v1h-1zM6 29h1v1h-1zM6 28h1v1h-1zM6 27h1v1h-1zM6 26h1v1h-1zM6 25h1v1h-1zM6 24h1v1h-1zM6 23h1v1h-1zM6 22h1v1h-1zM6 21h1v1h-1zM6 20h1v1h-1zM6 19h1v1h-1zM6 18h1v1h-1zM6 16h1v1h-1zM6 15h1v1h-1zM6 14h1v1h-1zM6 13h1v1h-1zM6 12h1v1h-1zM6 11h1v1h-1zM6 10h1v1h-1z"/><path fill="#b0c3d9" d="M7 31h1v1h-1zM7 30h1v1h-1zM7 29h1v1h-1zM7 28h1v1h-1zM7 24h1v1h-1zM7 23h1v1h-1zM7 22h1v1h-1zM7 21h1v1h-1zM7 20h1v1h-1zM7 19h1v1h-1zM7 18h1v1h-1zM7 17h1v1h-1z"/><path fill="#dbe3ee" d="M14 31h1v1h-1zM3 22h1v1h-1z"/><path fill="#b4c6db" d="M29 31h1v1h-1zM29 30h1v1h-1zM29 29h1v1h-1zM29 23h1v1h-1zM29 22h1v1h-1zM29 21h1v1h-1zM29 20h1v1h-1zM29 15h1v1h-1zM29 14h1v1h-1zM29 13h1v1h-1zM29 12h1v1h-1zM29 11h1v1h-1zM29 10h1v1h-1z"/><path fill="#a4bad3" d="M30 31h1v1h-1zM38 31h1v1h-1zM30 30h1v1h-1zM38 30h1v1h-1zM30 29h1v1h-1zM38 29h1v1h-1zM38 25h1v1h-1z"/><path fill="#bfcee0" d="M31 31h1v1h-1zM31 30h1v1h-1zM31 29h1v1h-1zM31 28h1v1h-1zM31 27h1v1h-1zM31 26h1v1h-1zM31 25h1v1h-1zM31 24h1v1h-1zM31 23h1v1h-1zM31 22h1v1h-1zM31 21h1v1h-1zM31 20h1v1h-1zM28 16h1v1h-1zM29 0h1v1h-1z"/><path fill="#c7d5e4" d="M5 30h1v1h-1zM0 28h1v1h-1zM1 28h1v1h-1zM2 28h1v1h-1zM3 28h1v1h-1zM4 28h1v1h-1zM0 26h1v1h-1zM1 26h1v1h-1zM2 26h1v1h-1zM3 26h1v1h-1zM4 26h1v1h-1zM5 24h1v1h-1zM5 5h1v1h-1z"/><path fill="#c6d4e4" d="M5 28h1v1h-1zM5 26h1v1h-1z"/><path fill="#9db4d0" d="M30 28h1v1h-1zM38 28h1v1h-1zM30 27h1v1h-1zM38 27h1v1h-1zM30 26h1v1h-1zM38 26h1v1h-1zM30 25h1v1h-1zM30 24h1v1h-1zM30 19h1v1h-1zM38 18h1v1h-1zM38 10h1v1h-1zM38 6h1v1h-1zM38 5h1v1h-1z"/><path fill="#c6d3e3" d="M5 27h1v1h-1z"/><path fill="#a9bdd6" d="M7 27h1v1h-1zM7 26h1v1h-1zM7 25h1v1h-1z"/><path fill="#bdcddf" d="M28 27h1v1h-1zM28 26h1v1h-1zM28 25h1v1h-1zM28 24h1v1h-1zM28 19h1v1h-1zM31 19h1v1h-1zM32 17h1v1h-1zM33 17h1v1h-1zM34 17h1v1h-1zM35 17h1v1h-1zM36 17h1v1h-1zM37 17h1v1h-1zM0 9h1v1h-1zM1 9h1v1h-1zM2 9h1v1h-1zM3 9h1v1h-1zM4 9h1v1h-1zM5 9h1v1h-1zM6 9h1v1h-1zM31 9h1v1h-1zM40 9h1v1h-1zM41 9h1v1h-1zM42 9h1v1h-1zM43 9h1v1h-1zM44 9h1v1h-1zM45 9h1v1h-1zM46 9h1v1h-1zM47 9h1v1h-1z"/><path fill="#f2f5f9" d="M0 23h1v1h-1z"/><path fill="#a8bdd5" d="M30 23h1v1h-1zM30 22h1v1h-1zM30 21h1v1h-1zM30 20h1v1h-1zM38 16h1v1h-1zM38 7h1v1h-1z"/><path fill="#99b1ce" d="M38 23h1v1h-1zM30 18h1v1h-1z"/><path fill="#ecf0f6" d="M1 22h1v1h-1zM9 15h1v1h-1zM13 11h1v1h-1z"/><path fill="#a2b8d3" d="M38 22h1v1h-1zM38 21h1v1h-1zM38 20h1v1h-1zM38 19h1v1h-1zM29 17h1v1h-1zM30 16h1v1h-1zM38 15h1v1h-1zM38 14h1v1h-1zM38 13h1v1h-1zM38 12h1v1h-1zM38 11h1v1h-1zM38 8h1v1h-1z"/><path fill="#c4d2e3" d="M20 19h1v1h-1zM21 19h1v1h-1zM12 17h1v1h-1zM13 17h1v1h-1zM14 17h1v1h-1zM15 17h1v1h-1zM16 17h1v1h-1zM31 8h1v1h-1zM31 7h1v1h-1zM31 6h1v1h-1zM31 5h1v1h-1zM5 4h1v1h-1zM31 4h1v1h-1zM31 3h1v1h-1zM31 2h1v1h-1zM31 1h1v1h-1zM31 0h1v1h-1z"/><path fill="#c2d0e2" d="M26 18h1v1h-1zM27 18h1v1h-1z"/><path fill="#b9c9dd" d="M31 18h1v1h-1z"/><path fill="#bcccdf" d="M26 17h1v1h-1zM27 17h1v1h-1z"/><path fill="#8ea9c9" d="M30 17h1v1h-1z"/><path fill="#b2c4da" d="M31 17h1v1h-1zM29 16h1v1h-1z"/><path fill="#93adcb" d="M38 17h1v1h-1z"/><path fill="#c0cee0" d="M7 15h1v1h-1zM7 14h1v1h-1zM7 13h1v1h-1zM7 12h1v1h-1zM7 11h1v1h-1zM7 10h1v1h-1zM16 9h1v1h-1zM17 9h1v1h-1zM18 9h1v1h-1zM19 9h1v1h-1zM20 9h1v1h-1zM21 9h1v1h-1zM22 9h1v1h-1zM23 9h1v1h-1zM24 9h1v1h-1zM25 9h1v1h-1zM26 9h1v1h-1zM27 9h1v1h-1z"/><path fill="#edf2f7" d="M10 15h1v1h-1z"/><path fill="#ecf1f6" d="M13 15h1v1h-1zM13 14h1v1h-1zM13 13h1v1h-1zM10 12h1v1h-1zM13 12h1v1h-1zM10 10h1v1h-1z"/><path fill="#e7edf4" d="M14 15h1v1h-1zM14 14h1v1h-1zM14 13h1v1h-1zM14 12h1v1h-1z"/><path fill="#e3e9f1" d="M8 14h1v1h-1z"/><path fill="#edf1f6" d="M10 14h1v1h-1zM10 11h1v1h-1zM11 10h1v1h-1zM12 10h1v1h-1z"/><path fill="#e9eef4" d="M9 12h1v1h-1zM9 10h1v1h-1z"/><path fill="#e9eef5" d="M9 11h1v1h-1z"/><path fill="#f7f9fb" d="M12 11h1v1h-1z"/><path fill="#b3c5da" d="M7 9h1v1h-1zM28 9h1v1h-1zM29 9h1v1h-1zM30 9h1v1h-1z"/><path fill="#a0b6d1" d="M38 9h1v1h-1z"/><path fill="#b8c9dd" d="M6 8h1v1h-1zM6 7h1v1h-1zM6 6h1v1h-1zM6 5h1v1h-1zM6 4h1v1h-1zM6 3h1v1h-1zM6 2h1v1h-1zM6 1h1v1h-1zM6 0h1v1h-1z"/><path fill="#dce5ee" d="M11 8h1v1h-1zM20 8h1v1h-1zM15 7h1v1h-1zM14 6h1v1h-1zM14 5h1v1h-1zM14 3h1v1h-1z"/><path fill="#dbe3ed" d="M39 8h1v1h-1zM14 1h1v1h-1z"/><path fill="#f0f3f8" d="M18 5h1v1h-1z"/><path fill="#95aecc" d="M38 4h1v1h-1zM38 3h1v1h-1zM38 2h1v1h-1zM38 1h1v1h-1z"/><path fill="#c2d1e2" d="M5 2h1v1h-1z"/><path fill="#c5d2e3" d="M5 1h1v1h-1z"/></g>
<rect x="429.4" y="299.5" width="252.80000000000007" height="253.79999999999995" fill="none" stroke="#c8c8c8" stroke-width="1"/><line x1="429.4" y1="550.88" x2="432.4" y2="550.88" stroke="#999" stroke-width="0.8"/><line x1="431.5" y1="553.3" x2="431.5" y2="550.3" stroke="#999" stroke-width="0.8"/><text x="426.4" y="556.88" font-family="Liberation Serif, serif" font-size="23" text-anchor="end">1</text><text x="431.5" y="572.6" font-family="Liberation Serif, serif" font-size="23" text-anchor="middle">1</text><line x1="429.4" y1="473.105" x2="432.4" y2="473.105" stroke="#999" stroke-width="0.8"/><line x1="509.275" y1="553.3" x2="509.275" y2="550.3" stroke="#999" stroke-width="0.8"/><text x="426.4" y="479.105" font-family="Liberation Serif, serif" font-size="23" text-anchor="end">16</text><text x="509.275" y="572.6" font-family="Liberation Serif, serif" font-size="23" text-anchor="middle">16</text><line x1="429.4" y1="390.145" x2="432.4" y2="390.145" stroke="#999" stroke-width="0.8"/><line x1="592.235" y1="553.3" x2="592.235" y2="550.3" stroke="#999" stroke-width="0.8"/><text x="426.4" y="396.145" font-family="Liberation Serif, serif" font-size="23" text-anchor="end">32</text><text x="592.235" y="572.6" font-family="Liberation Serif, serif" font-size="23" text-anchor="middle">32</text><line x1="429.4" y1="307.185" x2="432.4" y2="307.185" stroke="#999" stroke-width="0.8"/><line x1="675.1949999999999" y1="553.3" x2="675.1949999999999" y2="550.3" stroke="#999" stroke-width="0.8"/><text x="426.4" y="313.185" font-family="Liberation Serif, serif" font-size="23" text-anchor="end">48</text><text x="675.1949999999999" y="572.6" font-family="Liberation Serif, serif" font-size="23" text-anchor="middle">48</text>
<g transform="translate(52.75,610.5) scale(5.185)" shape-rendering="crispEdges"><path fill="#cedae8" d="M0 47h1v1h-1zM1 47h1v1h-1zM2 47h1v1h-1zM3 47h1v1h-1zM17 47h1v1h-1zM18 47h1v1h-1zM19 47h1v1h-1zM20 47h1v1h-1zM21 47h1v1h-1zM22 47h1v1h-1zM26 47h1v1h-1zM27 47h1v1h-1zM0 46h1v1h-1zM1 46h1v1h-1zM2 46h1v1h-1zM3 46h1v1h-1zM17 46h1v1h-1zM18 46h1v1h-1zM19 46h1v1h-1zM20 46h1v1h-1zM21 46h1v1h-1zM22 46h1v1h-1zM26 46h1v1h-1zM27 46h1v1h-1zM0 45h1v1h-1zM1 45h1v1h-1zM2 45h1v1h-1zM3 45h1v1h-1zM17 45h1v1h-1zM18 45h1v1h-1zM19 45h1v1h-1zM20 45h1v1h-1zM21 45h1v1h-1zM22 45h1v1h-1zM27 45h1v1h-1zM0 44h1v1h-1zM1 44h1v1h-1zM2 44h1v1h-1zM17 44h1v1h-1zM18 44h1v1h-1zM19 44h1v1h-1zM20 44h1v1h-1zM21 44h1v1h-1zM0 43h1v1h-1zM1 43h1v1h-1zM17 43h1v1h-1zM18 43h1v1h-1zM19 43h1v1h-1zM20 43h1v1h-1zM17 42h1v1h-1zM18 42h1v1h-1zM19 42h1v1h-1zM20 42h1v1h-1zM22 40h1v1h-1zM15 30h1v1h-1zM15 29h1v1h-1zM23 19h1v1h-1zM24 19h1v1h-1zM25 19h1v1h-1zM0 16h1v1h-1zM1 16h1v1h-1zM2 16h1v1h-1zM3 16h1v1h-1zM4 16h1v1h-1zM5 16h1v1h-1zM6 16h1v1h-1zM16 16h1v1h-1zM17 16h1v1h-1zM18 16h1v1h-1zM19 16h1v1h-1zM20 16h1v1h-1zM21 16h1v1h-1zM22 16h1v1h-1zM23 16h1v1h-1zM24 16h1v1h-1zM25 16h1v1h-1zM26 16h1v1h-1zM27 16h1v1h-1zM0 9h1v1h-1zM41 8h1v1h-1zM42 8h1v1h-1zM43 8h1v1h-1zM44 8h1v1h-1zM45 8h1v1h-1zM46 8h1v1h-1zM47 8h1v1h-1zM39 7h1v1h-1zM40 7h1v1h-1zM41 7h1v1h-1zM42 7h1v1h-1zM43 7h1v1h-1zM44 7h1v1h-1zM46 7h1v1h-1zM47 7h1v1h-1zM39 6h1v1h-1zM40 6h1v1h-1zM41 6h1v1h-1zM42 6h1v1h-1zM43 6h1v1h-1zM45 6h1v1h-1zM46 6h1v1h-1zM47 6h1v1h-1zM39 5h1v1h-1zM40 5h1v1h-1zM41 5h1v1h-1zM42 5h1v1h-1zM44 5h1v1h-1zM45 5h1v1h-1zM46 5h1v1h-1zM47 5h1v1h-1zM39 4h1v1h-1zM40 4h1v1h-1zM41 4h1v1h-1zM43 4h1v1h-1zM44 4h1v1h-1zM45 4h1v1h-1zM46 4h1v1h-1zM47 4h1v1h-1zM39 3h1v1h-1zM40 3h1v1h-1zM41 3h1v1h-1zM42 3h1v1h-1zM43 3h1v1h-1zM44 3h1v1h-1zM45 3h1v1h-1zM46 3h1v1h-1zM47 3h1v1h-1zM39 2h1v1h-1zM40 2h1v1h-1zM41 2h1v1h-1zM42 2h1v1h-1zM43 2h1v1h-1zM44 2h1v1h-1zM45 2h1v1h-1zM46 2h1v1h-1zM47 2h1v1h-1z"/><path fill="#cedae7" d="M4 47h1v1h-1zM0 42h1v1h-1zM3 42h1v1h-1zM22 31h1v1h-1zM26 31h1v1h-1zM27 31h1v1h-1zM39 23h1v1h-1zM40 23h1v1h-1zM41 23h1v1h-1zM42 23h1v1h-1zM43 23h1v1h-1zM44 23h1v1h-1zM41 15h1v1h-1zM41 14h1v1h-1zM41 13h1v1h-1zM41 12h1v1h-1zM41 11h1v1h-1zM41 10h1v1h-1z"/><path fill="#cad7e6" d="M5 47h1v1h-1zM5 44h1v1h-1zM46 40h1v1h-1zM23 30h1v1h-1zM24 30h1v1h-1zM25 30h1v1h-1zM26 30h1v1h-1zM27 30h1v1h-1zM23 27h1v1h-1zM27 24h1v1h-1zM27 23h1v1h-1zM39 22h1v1h-1zM40 22h1v1h-1zM41 22h1v1h-1zM42 22h1v1h-1zM43 22h1v1h-1zM44 22h1v1h-1zM45 22h1v1h-1zM23 20h1v1h-1zM24 20h1v1h-1zM42 15h1v1h-1zM42 14h1v1h-1zM42 13h1v1h-1zM42 12h1v1h-1zM42 11h1v1h-1zM42 10h1v1h-1z"/><path fill="#c5d3e3" d="M6 47h1v1h-1zM6 46h1v1h-1zM6 45h1v1h-1zM37 23h1v1h-1zM32 22h1v1h-1zM33 22h1v1h-1zM34 22h1v1h-1zM35 22h1v1h-1zM37 22h1v1h-1zM32 21h1v1h-1zM33 21h1v1h-1zM34 21h1v1h-1zM36 21h1v1h-1zM37 21h1v1h-1zM32 20h1v1h-1zM33 20h1v1h-1zM34 20h1v1h-1zM35 20h1v1h-1zM36 20h1v1h-1zM37 20h1v1h-1zM16 19h1v1h-1zM17 19h1v1h-1zM18 19h1v1h-1zM19 19h1v1h-1zM22 19h1v1h-1zM26 19h1v1h-1zM27 19h1v1h-1zM32 19h1v1h-1zM33 19h1v1h-1zM34 19h1v1h-1zM35 19h1v1h-1zM36 19h1v1h-1zM37 19h1v1h-1zM0 18h1v1h-1zM1 18h1v1h-1zM2 18h1v1h-1zM3 18h1v1h-1zM8 18h1v1h-1zM9 18h1v1h-1zM10 18h1v1h-1zM11 18h1v1h-1zM12 18h1v1h-1zM13 18h1v1h-1zM14 18h1v1h-1zM15 18h1v1h-1z"/><path fill="#a6bbd4" d="M7 47h1v1h-1zM7 43h1v1h-1zM7 42h1v1h-1zM7 41h1v1h-1zM7 40h1v1h-1zM28 16h1v1h-1zM29 0h1v1h-1z"/><path fill="#d0dbe8" d="M8 47h1v1h-1zM15 47h1v1h-1zM8 46h1v1h-1zM15 46h1v1h-1zM8 45h1v1h-1zM15 45h1v1h-1zM8 44h1v1h-1zM15 44h1v1h-1zM22 44h1v1h-1zM8 43h1v1h-1zM15 43h1v1h-1zM8 42h1v1h-1zM15 42h1v1h-1zM34 24h1v1h-1zM35 24h1v1h-1zM36 24h1v1h-1zM46 1h1v1h-1z"/><path fill="#d1dbe9" d="M9 47h1v1h-1zM10 47h1v1h-1zM11 47h1v1h-1zM12 47h1v1h-1zM13 47h1v1h-1zM9 46h1v1h-1zM10 46h1v1h-1zM11 46h1v1h-1zM12 46h1v1h-1zM13 46h1v1h-1zM9 45h1v1h-1zM10 45h1v1h-1zM11 45h1v1h-1zM12 45h1v1h-1zM9 44h1v1h-1zM10 44h1v1h-1zM11 44h1v1h-1zM13 44h1v1h-1zM9 43h1v1h-1zM10 43h1v1h-1zM12 43h1v1h-1zM13 43h1v1h-1zM9 42h1v1h-1zM11 42h1v1h-1zM12 42h1v1h-1zM13 42h1v1h-1zM18 37h1v1h-1zM19 37h1v1h-1zM18 36h1v1h-1zM20 36h1v1h-1zM19 35h1v1h-1zM20 35h1v1h-1zM18 34h1v1h-1zM19 34h1v1h-1zM20 34h1v1h-1zM39 16h1v1h-1zM40 16h1v1h-1zM41 16h1v1h-1zM42 16h1v1h-1zM43 16h1v1h-1zM44 16h1v1h-1zM45 16h1v1h-1zM46 16h1v1h-1zM47 16h1v1h-1zM0 15h1v1h-1zM1 15h1v1h-1zM2 15h1v1h-1zM3 15h1v1h-1zM4 15h1v1h-1zM5 15h1v1h-1zM26 15h1v1h-1zM27 15h1v1h-1zM0 14h1v1h-1zM1 14h1v1h-1zM2 14h1v1h-1zM3 14h1v1h-1zM4 14h1v1h-1zM5 14h1v1h-1zM26 14h1v1h-1zM27 14h1v1h-1zM0 13h1v1h-1zM1 13h1v1h-1zM2 13h1v1h-1zM3 13h1v1h-1zM4 13h1v1h-1zM5 13h1v1h-1zM26 13h1v1h-1zM27 13h1v1h-1zM0 12h1v1h-1zM1 12h1v1h-1zM2 12h1v1h-1zM3 12h1v1h-1zM4 12h1v1h-1zM5 12h1v1h-1zM27 12h1v1h-1zM0 11h1v1h-1zM1 11h1v1h-1zM2 11h1v1h-1zM3 11h1v1h-1zM4 11h1v1h-1zM5 11h1v1h-1zM26 11h1v1h-1zM27 11h1v1h-1zM0 10h1v1h-1zM1 10h1v1h-1zM2 10h1v1h-1zM3 10h1v1h-1zM4 10h1v1h-1zM5 10h1v1h-1z"/><path fill="#d0dbe9" d="M14 47h1v1h-1zM14 46h1v1h-1zM14 45h1v1h-1zM14 44h1v1h-1zM14 43h1v1h-1zM14 42h1v1h-1zM15 41h1v1h-1zM18 38h1v1h-1zM19 38h1v1h-1zM20 38h1v1h-1zM39 1h1v1h-1zM40 1h1v1h-1zM41 1h1v1h-1zM42 1h1v1h-1zM43 1h1v1h-1zM44 1h1v1h-1zM45 1h1v1h-1z"/><path fill="#cfdae8" d="M16 47h1v1h-1zM16 46h1v1h-1zM16 45h1v1h-1zM23 45h1v1h-1zM16 44h1v1h-1zM16 43h1v1h-1zM21 43h1v1h-1zM16 42h1v1h-1zM21 42h1v1h-1zM18 39h1v1h-1zM19 39h1v1h-1zM20 39h1v1h-1zM21 39h1v1h-1zM40 8h1v1h-1zM47 1h1v1h-1z"/><path fill="#e3e9f1" d="M23 47h1v1h-1zM23 46h1v1h-1zM13 45h1v1h-1zM12 44h1v1h-1zM11 43h1v1h-1zM10 42h1v1h-1zM9 41h1v1h-1zM19 36h1v1h-1zM9 23h1v1h-1zM14 23h1v1h-1zM3 22h1v1h-1zM4 20h1v1h-1zM40 17h1v1h-1zM45 7h1v1h-1zM44 6h1v1h-1zM43 5h1v1h-1zM42 4h1v1h-1z"/><path fill="#f1ebe4" d="M24 47h1v1h-1zM0 23h1v1h-1z"/><path fill="#ecf0f6" d="M25 47h1v1h-1zM16 41h1v1h-1zM46 39h1v1h-1zM9 37h1v1h-1zM10 37h1v1h-1zM11 37h1v1h-1zM12 37h1v1h-1zM9 36h1v1h-1zM10 36h1v1h-1zM11 36h1v1h-1zM13 36h1v1h-1zM9 35h1v1h-1zM10 35h1v1h-1zM12 35h1v1h-1zM13 35h1v1h-1zM9 34h1v1h-1zM11 34h1v1h-1zM12 34h1v1h-1zM13 34h1v1h-1zM13 33h1v1h-1zM16 33h1v1h-1zM6 31h1v1h-1zM44 29h1v1h-1zM45 29h1v1h-1zM46 29h1v1h-1zM47 29h1v1h-1zM43 28h1v1h-1zM45 28h1v1h-1zM46 28h1v1h-1zM47 28h1v1h-1zM46 27h1v1h-1zM47 27h1v1h-1zM47 26h1v1h-1zM39 8h1v1h-1zM8 1h1v1h-1zM47 0h1v1h-1z"/><path fill="#abbfd7" d="M28 47h1v1h-1zM28 46h1v1h-1zM28 45h1v1h-1zM28 44h1v1h-1zM28 43h1v1h-1zM28 42h1v1h-1zM28 41h1v1h-1zM28 40h1v1h-1zM28 31h1v1h-1zM28 30h1v1h-1zM28 29h1v1h-1zM28 28h1v1h-1zM28 23h1v1h-1zM28 22h1v1h-1zM28 21h1v1h-1zM28 20h1v1h-1zM7 18h1v1h-1zM28 15h1v1h-1zM28 14h1v1h-1zM28 13h1v1h-1zM28 12h1v1h-1zM28 11h1v1h-1zM28 10h1v1h-1zM7 3h1v1h-1zM7 1h1v1h-1zM7 0h1v1h-1z"/><path fill="#93adcb" d="M29 47h1v1h-1zM29 46h1v1h-1zM29 45h1v1h-1zM29 44h1v1h-1zM29 43h1v1h-1zM29 42h1v1h-1zM29 41h1v1h-1zM29 40h1v1h-1zM29 35h1v1h-1zM29 34h1v1h-1zM29 33h1v1h-1zM29 32h1v1h-1zM29 8h1v1h-1zM29 7h1v1h-1zM29 6h1v1h-1zM29 5h1v1h-1zM29 4h1v1h-1zM29 3h1v1h-1zM29 2h1v1h-1zM29 1h1v1h-1z"/><path fill="#89a5c6" d="M30 47h1v1h-1zM30 46h1v1h-1zM30 45h1v1h-1zM30 44h1v1h-1zM30 43h1v1h-1zM38 43h1v1h-1zM30 42h1v1h-1zM38 42h1v1h-1zM30 41h1v1h-1zM38 41h1v1h-1zM30 40h1v1h-1zM38 40h1v1h-1zM31 9h1v1h-1z"/><path fill="#c0cfe1" d="M31 47h1v1h-1zM31 46h1v1h-1zM31 45h1v1h-1zM31 44h1v1h-1zM31 43h1v1h-1zM31 42h1v1h-1zM31 41h1v1h-1zM31 40h1v1h-1zM31 39h1v1h-1zM31 38h1v1h-1zM31 37h1v1h-1zM31 36h1v1h-1zM31 35h1v1h-1zM31 34h1v1h-1zM31 33h1v1h-1zM31 32h1v1h-1zM16 18h1v1h-1zM17 18h1v1h-1zM23 18h1v1h-1zM24 18h1v1h-1zM25 18h1v1h-1zM39 18h1v1h-1zM40 18h1v1h-1zM41 18h1v1h-1zM42 18h1v1h-1zM43 18h1v1h-1zM44 18h1v1h-1zM45 18h1v1h-1zM46 18h1v1h-1zM47 18h1v1h-1zM39 17h1v1h-1zM47 17h1v1h-1z"/><path fill="#c9d6e5" d="M32 47h1v1h-1zM33 47h1v1h-1zM34 47h1v1h-1zM35 47h1v1h-1zM36 47h1v1h-1zM37 47h1v1h-1zM32 46h1v1h-1zM33 46h1v1h-1zM34 46h1v1h-1zM35 46h1v1h-1zM36 46h1v1h-1zM37 46h1v1h-1zM32 45h1v1h-1zM33 45h1v1h-1zM34 45h1v1h-1zM35 45h1v1h-1zM36 45h1v1h-1zM37 45h1v1h-1zM45 45h1v1h-1zM32 44h1v1h-1zM33 44h1v1h-1zM34 44h1v1h-1zM35 44h1v1h-1zM36 44h1v1h-1zM37 44h1v1h-1zM46 44h1v1h-1zM47 44h1v1h-1zM32 43h1v1h-1zM33 43h1v1h-1zM34 43h1v1h-1zM35 43h1v1h-1zM36 43h1v1h-1zM37 43h1v1h-1zM46 43h1v1h-1zM47 43h1v1h-1zM32 42h1v1h-1zM33 42h1v1h-1zM34 42h1v1h-1zM35 42h1v1h-1zM36 42h1v1h-1zM37 42h1v1h-1zM45 42h1v1h-1zM46 42h1v1h-1zM47 42h1v1h-1zM5 41h1v1h-1zM32 41h1v1h-1zM33 41h1v1h-1zM37 41h1v1h-1zM39 41h1v1h-1zM40 41h1v1h-1zM41 41h1v1h-1zM42 41h1v1h-1zM43 41h1v1h-1zM44 41h1v1h-1zM45 41h1v1h-1zM46 41h1v1h-1zM47 41h1v1h-1zM37 40h1v1h-1zM0 37h1v1h-1zM1 37h1v1h-1zM2 37h1v1h-1zM3 37h1v1h-1zM5 37h1v1h-1zM0 36h1v1h-1zM1 36h1v1h-1zM2 36h1v1h-1zM4 36h1v1h-1zM5 36h1v1h-1zM0 35h1v1h-1zM1 35h1v1h-1zM3 35h1v1h-1zM4 35h1v1h-1zM5 35h1v1h-1zM0 34h1v1h-1zM2 34h1v1h-1zM3 34h1v1h-1zM4 34h1v1h-1zM5 34h1v1h-1zM0 33h1v1h-1zM1 33h1v1h-1zM2 33h1v1h-1zM3 33h1v1h-1zM4 33h1v1h-1zM5 33h1v1h-1zM0 32h1v1h-1zM1 32h1v1h-1zM2 32h1v1h-1zM3 32h1v1h-1zM4 32h1v1h-1zM5 32h1v1h-1zM0 31h1v1h-1zM1 31h1v1h-1zM2 31h1v1h-1zM3 31h1v1h-1zM4 31h1v1h-1zM5 31h1v1h-1zM6 30h1v1h-1zM6 24h1v1h-1zM3 23h1v1h-1zM4 23h1v1h-1zM5 23h1v1h-1zM6 23h1v1h-1zM36 23h1v1h-1zM4 22h1v1h-1zM5 22h1v1h-1zM6 22h1v1h-1zM4 21h1v1h-1zM5 21h1v1h-1zM6 21h1v1h-1zM5 20h1v1h-1zM6 20h1v1h-1zM0 19h1v1h-1zM1 19h1v1h-1zM2 19h1v1h-1zM32 8h1v1h-1zM33 8h1v1h-1zM34 8h1v1h-1zM35 8h1v1h-1zM36 8h1v1h-1zM32 7h1v1h-1zM33 7h1v1h-1zM34 7h1v1h-1zM35 7h1v1h-1zM36 7h1v1h-1zM2 6h1v1h-1zM32 6h1v1h-1zM33 6h1v1h-1zM34 6h1v1h-1zM35 6h1v1h-1zM36 6h1v1h-1zM32 5h1v1h-1zM33 5h1v1h-1zM34 5h1v1h-1zM35 5h1v1h-1zM32 4h1v1h-1zM33 4h1v1h-1zM34 4h1v1h-1zM36 4h1v1h-1zM32 3h1v1h-1zM33 3h1v1h-1zM35 3h1v1h-1zM36 3h1v1h-1zM3 2h1v1h-1zM32 2h1v1h-1zM34 2h1v1h-1zM35 2h1v1h-1zM36 2h1v1h-1zM3 1h1v1h-1z"/><path fill="#9cb3cf" d="M38 47h1v1h-1zM30 0h1v1h-1z"/><path fill="#c8d5e4" d="M39 47h1v1h-1zM0 40h1v1h-1zM2 40h1v1h-1zM5 39h1v1h-1zM33 23h1v1h-1z"/><path fill="#c7d4e4" d="M40 47h1v1h-1zM43 47h1v1h-1zM39 46h1v1h-1zM44 46h1v1h-1zM44 45h1v1h-1zM39 44h1v1h-1zM44 44h1v1h-1zM40 43h1v1h-1zM41 43h1v1h-1zM42 43h1v1h-1zM43 43h1v1h-1zM1 40h1v1h-1zM5 40h1v1h-1zM6 40h1v1h-1zM0 29h1v1h-1zM1 29h1v1h-1zM2 29h1v1h-1zM3 29h1v1h-1zM4 29h1v1h-1zM5 29h1v1h-1zM6 29h1v1h-1zM0 25h1v1h-1zM1 25h1v1h-1zM2 25h1v1h-1zM3 25h1v1h-1zM4 25h1v1h-1zM5 25h1v1h-1z"/><path fill="#c6d3e4" d="M41 47h1v1h-1zM42 47h1v1h-1zM39 45h1v1h-1zM6 44h1v1h-1zM6 41h1v1h-1zM1 7h1v1h-1zM1 6h1v1h-1zM6 6h1v1h-1z"/><path fill="#c8d5e5" d="M44 47h1v1h-1zM39 43h1v1h-1zM44 43h1v1h-1zM3 40h1v1h-1zM4 40h1v1h-1zM0 39h1v1h-1zM1 39h1v1h-1zM2 39h1v1h-1zM3 39h1v1h-1zM4 39h1v1h-1zM6 39h1v1h-1zM34 23h1v1h-1zM35 23h1v1h-1z"/><path fill="#ccd8e7" d="M45 47h1v1h-1zM47 45h1v1h-1zM22 30h1v1h-1zM22 29h1v1h-1zM15 27h1v1h-1zM17 27h1v1h-1zM18 27h1v1h-1zM19 27h1v1h-1zM20 27h1v1h-1zM22 26h1v1h-1zM25 26h1v1h-1zM21 25h1v1h-1zM26 25h1v1h-1zM21 22h1v1h-1zM26 22h1v1h-1zM22 21h1v1h-1zM25 21h1v1h-1zM32 1h1v1h-1zM33 1h1v1h-1zM34 1h1v1h-1zM35 1h1v1h-1z"/><path fill="#d3deea" d="M46 47h1v1h-1zM47 46h1v1h-1zM34 40h1v1h-1zM22 38h1v1h-1zM22 37h1v1h-1zM17 29h1v1h-1zM8 28h1v1h-1zM8 27h1v1h-1zM8 26h1v1h-1z"/><path fill="#d7e0ec" d="M47 47h1v1h-1zM14 40h1v1h-1zM24 39h1v1h-1zM25 39h1v1h-1zM26 39h1v1h-1zM27 39h1v1h-1zM16 38h1v1h-1zM16 32h1v1h-1zM27 32h1v1h-1zM39 24h1v1h-1zM40 24h1v1h-1zM41 24h1v1h-1zM42 24h1v1h-1zM43 24h1v1h-1zM46 24h1v1h-1zM25 1h1v1h-1zM26 1h1v1h-1zM27 1h1v1h-1z"/><path fill="#ced9e7" d="M4 46h1v1h-1zM4 43h1v1h-1zM4 42h1v1h-1zM21 41h1v1h-1zM24 31h1v1h-1zM25 31h1v1h-1zM15 28h1v1h-1zM45 23h1v1h-1z"/><path fill="#c4d2e3" d="M5 46h1v1h-1zM40 46h1v1h-1zM43 46h1v1h-1zM4 45h1v1h-1zM3 44h1v1h-1zM40 44h1v1h-1zM43 44h1v1h-1zM2 43h1v1h-1zM1 42h1v1h-1zM0 28h1v1h-1zM1 28h1v1h-1zM2 28h1v1h-1zM3 28h1v1h-1zM4 28h1v1h-1zM5 28h1v1h-1zM6 28h1v1h-1zM0 26h1v1h-1zM1 26h1v1h-1zM2 26h1v1h-1zM3 26h1v1h-1zM4 26h1v1h-1zM5 26h1v1h-1zM6 26h1v1h-1zM4 1h1v1h-1z"/><path fill="#a0b6d1" d="M7 46h1v1h-1zM7 45h1v1h-1zM7 44h1v1h-1zM28 27h1v1h-1zM28 26h1v1h-1zM28 25h1v1h-1zM28 24h1v1h-1zM28 19h1v1h-1zM7 17h1v1h-1zM7 9h1v1h-1z"/><path fill="#f2f5f9" d="M24 46h1v1h-1zM33 37h1v1h-1zM33 33h1v1h-1zM41 30h1v1h-1zM18 5h1v1h-1z"/><path fill="#faf7f4" d="M25 46h1v1h-1zM34 37h1v1h-1zM35 36h1v1h-1zM10 13h1v1h-1zM12 11h1v1h-1z"/><path fill="#7a9ac0" d="M38 46h1v1h-1zM38 45h1v1h-1zM38 44h1v1h-1zM30 15h1v1h-1zM30 14h1v1h-1zM30 13h1v1h-1zM30 12h1v1h-1zM30 11h1v1h-1zM30 10h1v1h-1z"/><path fill="#c2d1e2" d="M41 46h1v1h-1zM42 46h1v1h-1zM40 45h1v1h-1zM41 44h1v1h-1zM42 44h1v1h-1zM0 27h1v1h-1zM1 27h1v1h-1zM2 27h1v1h-1zM3 27h1v1h-1zM4 27h1v1h-1zM5 27h1v1h-1z"/><path fill="#cbd7e6" d="M45 46h1v1h-1zM5 43h1v1h-1zM5 42h1v1h-1zM0 41h1v1h-1zM2 41h1v1h-1zM45 40h1v1h-1zM47 40h1v1h-1zM22 27h1v1h-1zM21 26h1v1h-1zM26 26h1v1h-1zM15 24h1v1h-1zM15 23h1v1h-1zM15 22h1v1h-1zM21 21h1v1h-1zM26 21h1v1h-1zM3 7h1v1h-1zM4 7h1v1h-1zM5 7h1v1h-1zM3 6h1v1h-1zM2 5h1v1h-1zM3 5h1v1h-1zM2 2h1v1h-1zM2 1h1v1h-1zM6 0h1v1h-1z"/><path fill="#d1dce9" d="M46 46h1v1h-1zM8 41h1v1h-1zM10 41h1v1h-1zM11 41h1v1h-1zM12 41h1v1h-1zM13 41h1v1h-1zM14 41h1v1h-1zM22 41h1v1h-1zM27 40h1v1h-1zM33 40h1v1h-1zM22 39h1v1h-1zM39 39h1v1h-1zM40 39h1v1h-1zM41 39h1v1h-1zM42 39h1v1h-1zM43 39h1v1h-1zM44 39h1v1h-1zM45 39h1v1h-1zM47 39h1v1h-1zM17 38h1v1h-1zM17 37h1v1h-1zM21 37h1v1h-1zM17 36h1v1h-1zM21 36h1v1h-1zM17 35h1v1h-1zM21 35h1v1h-1zM21 34h1v1h-1zM17 33h1v1h-1zM18 33h1v1h-1zM19 33h1v1h-1zM20 33h1v1h-1zM21 33h1v1h-1zM18 32h1v1h-1zM19 32h1v1h-1zM20 32h1v1h-1zM21 32h1v1h-1zM22 32h1v1h-1zM21 31h1v1h-1zM14 30h1v1h-1zM16 30h1v1h-1zM21 30h1v1h-1zM14 29h1v1h-1zM16 29h1v1h-1zM21 29h1v1h-1zM14 28h1v1h-1zM17 28h1v1h-1zM18 28h1v1h-1zM19 28h1v1h-1zM20 28h1v1h-1zM14 27h1v1h-1zM14 26h1v1h-1zM14 25h1v1h-1zM14 24h1v1h-1zM14 22h1v1h-1zM14 21h1v1h-1zM14 20h1v1h-1zM6 15h1v1h-1zM25 15h1v1h-1zM6 14h1v1h-1zM25 14h1v1h-1zM6 13h1v1h-1zM25 13h1v1h-1zM6 12h1v1h-1zM25 12h1v1h-1zM6 11h1v1h-1zM25 11h1v1h-1zM6 10h1v1h-1zM25 10h1v1h-1zM26 10h1v1h-1zM27 10h1v1h-1z"/><path fill="#cad6e5" d="M5 45h1v1h-1zM34 41h1v1h-1zM35 41h1v1h-1zM36 41h1v1h-1zM6 38h1v1h-1zM6 37h1v1h-1zM6 36h1v1h-1zM6 35h1v1h-1zM6 34h1v1h-1zM6 33h1v1h-1zM38 33h1v1h-1zM6 32h1v1h-1zM23 29h1v1h-1zM24 29h1v1h-1zM25 29h1v1h-1zM26 29h1v1h-1zM27 29h1v1h-1zM23 28h1v1h-1zM24 28h1v1h-1zM25 28h1v1h-1zM26 28h1v1h-1zM27 28h1v1h-1zM25 27h1v1h-1zM26 27h1v1h-1zM27 27h1v1h-1zM16 26h1v1h-1zM17 26h1v1h-1zM18 26h1v1h-1zM19 26h1v1h-1zM27 26h1v1h-1zM16 25h1v1h-1zM17 25h1v1h-1zM18 25h1v1h-1zM19 25h1v1h-1zM20 25h1v1h-1zM16 24h1v1h-1zM17 24h1v1h-1zM18 24h1v1h-1zM19 24h1v1h-1zM16 23h1v1h-1zM17 23h1v1h-1zM18 23h1v1h-1zM19 23h1v1h-1zM16 22h1v1h-1zM17 22h1v1h-1zM18 22h1v1h-1zM19 22h1v1h-1zM20 22h1v1h-1zM47 22h1v1h-1zM16 21h1v1h-1zM17 21h1v1h-1zM18 21h1v1h-1zM19 21h1v1h-1zM20 21h1v1h-1zM27 21h1v1h-1zM39 21h1v1h-1zM40 21h1v1h-1zM41 21h1v1h-1zM42 21h1v1h-1zM43 21h1v1h-1zM44 21h1v1h-1zM45 21h1v1h-1zM46 21h1v1h-1zM47 21h1v1h-1zM16 20h1v1h-1zM17 20h1v1h-1zM18 20h1v1h-1zM19 20h1v1h-1zM20 20h1v1h-1zM21 20h1v1h-1zM26 20h1v1h-1zM27 20h1v1h-1zM39 20h1v1h-1zM40 20h1v1h-1zM41 20h1v1h-1zM42 20h1v1h-1zM43 20h1v1h-1zM44 20h1v1h-1zM45 20h1v1h-1zM46 20h1v1h-1zM47 20h1v1h-1zM5 19h1v1h-1zM6 19h1v1h-1zM39 19h1v1h-1zM40 19h1v1h-1zM41 19h1v1h-1zM42 19h1v1h-1zM43 19h1v1h-1zM44 19h1v1h-1zM45 19h1v1h-1zM46 19h1v1h-1zM47 19h1v1h-1zM5 18h1v1h-1zM6 18h1v1h-1zM6 17h1v1h-1zM7 16h1v1h-1zM32 16h1v1h-1zM33 16h1v1h-1zM34 16h1v1h-1zM35 16h1v1h-1zM36 16h1v1h-1zM37 16h1v1h-1zM37 15h1v1h-1zM43 15h1v1h-1zM44 15h1v1h-1zM45 15h1v1h-1zM46 15h1v1h-1zM47 15h1v1h-1zM37 14h1v1h-1zM43 14h1v1h-1zM44 14h1v1h-1zM45 14h1v1h-1zM47 14h1v1h-1zM37 13h1v1h-1zM43 13h1v1h-1zM44 13h1v1h-1zM46 13h1v1h-1zM47 13h1v1h-1zM37 12h1v1h-1zM43 12h1v1h-1zM45 12h1v1h-1zM46 12h1v1h-1zM47 12h1v1h-1zM37 11h1v1h-1zM44 11h1v1h-1zM45 11h1v1h-1zM46 11h1v1h-1zM47 11h1v1h-1zM37 10h1v1h-1zM43 10h1v1h-1zM44 10h1v1h-1zM45 10h1v1h-1zM46 10h1v1h-1zM47 10h1v1h-1zM2 7h1v1h-1zM7 7h1v1h-1zM1 5h1v1h-1zM5 5h1v1h-1zM1 4h1v1h-1zM4 4h1v1h-1zM1 3h1v1h-1zM3 3h1v1h-1z"/><path fill="#e9eef4" d="M24 45h1v1h-1zM25 44h1v1h-1zM27 43h1v1h-1zM34 39h1v1h-1zM47 25h1v1h-1zM3 19h1v1h-1zM17 7h1v1h-1zM16 6h1v1h-1zM21 6h1v1h-1zM21 4h1v1h-1z"/><path fill="#f5f7fa" d="M25 45h1v1h-1zM26 44h1v1h-1zM37 39h1v1h-1zM37 38h1v1h-1zM35 37h1v1h-1zM36 37h1v1h-1zM37 37h1v1h-1zM34 36h1v1h-1zM36 36h1v1h-1zM37 36h1v1h-1zM34 35h1v1h-1zM35 35h1v1h-1zM37 35h1v1h-1zM34 34h1v1h-1zM35 34h1v1h-1zM36 34h1v1h-1zM37 33h1v1h-1zM37 32h1v1h-1zM2 22h1v1h-1zM3 21h1v1h-1zM10 15h1v1h-1zM11 15h1v1h-1zM12 15h1v1h-1zM13 15h1v1h-1zM10 14h1v1h-1zM11 14h1v1h-1zM12 14h1v1h-1zM13 14h1v1h-1zM11 13h1v1h-1zM12 13h1v1h-1zM13 13h1v1h-1zM10 12h1v1h-1zM12 12h1v1h-1zM13 12h1v1h-1zM10 11h1v1h-1zM11 11h1v1h-1zM20 3h1v1h-1z"/><path fill="#fefefe" d="M26 45h1v1h-1z"/><path fill="#c1cfe1" d="M41 45h1v1h-1zM42 45h1v1h-1z"/><path fill="#c3d1e2" d="M43 45h1v1h-1zM6 27h1v1h-1zM28 0h1v1h-1z"/><path fill="#cbd8e6" d="M46 45h1v1h-1zM39 40h1v1h-1zM40 40h1v1h-1zM41 40h1v1h-1zM42 40h1v1h-1zM43 40h1v1h-1zM44 40h1v1h-1z"/><path fill="#d7e1ec" d="M4 44h1v1h-1zM3 43h1v1h-1zM2 42h1v1h-1zM1 41h1v1h-1zM8 40h1v1h-1zM11 40h1v1h-1zM12 40h1v1h-1zM13 40h1v1h-1zM16 37h1v1h-1zM16 36h1v1h-1zM36 22h1v1h-1zM35 21h1v1h-1zM4 18h1v1h-1zM18 15h1v1h-1zM19 15h1v1h-1zM20 15h1v1h-1zM18 14h1v1h-1zM19 14h1v1h-1zM20 14h1v1h-1zM18 13h1v1h-1zM19 13h1v1h-1zM20 13h1v1h-1zM18 12h1v1h-1zM19 12h1v1h-1zM20 12h1v1h-1zM18 11h1v1h-1zM19 11h1v1h-1zM20 11h1v1h-1zM3 0h1v1h-1z"/><path fill="#d2ddea" d="M23 44h1v1h-1zM23 40h1v1h-1zM34 0h1v1h-1zM35 0h1v1h-1zM36 0h1v1h-1z"/><path fill="#d6dfeb" d="M24 44h1v1h-1zM24 8h1v1h-1zM24 7h1v1h-1zM24 6h1v1h-1zM24 5h1v1h-1zM24 4h1v1h-1zM24 3h1v1h-1z"/><path fill="#f7f9fb" d="M27 44h1v1h-1z"/><path fill="#c9d5e5" d="M45 44h1v1h-1zM45 43h1v1h-1zM39 42h1v1h-1zM40 42h1v1h-1zM41 42h1v1h-1zM42 42h1v1h-1zM43 42h1v1h-1zM44 42h1v1h-1zM0 38h1v1h-1zM1 38h1v1h-1zM2 38h1v1h-1zM3 38h1v1h-1zM4 38h1v1h-1zM0 30h1v1h-1zM1 30h1v1h-1zM2 30h1v1h-1zM3 30h1v1h-1zM4 30h1v1h-1zM5 30h1v1h-1zM0 24h1v1h-1zM1 24h1v1h-1zM2 24h1v1h-1zM3 24h1v1h-1zM4 24h1v1h-1zM5 24h1v1h-1z"/><path fill="#c6d4e4" d="M6 43h1v1h-1zM6 42h1v1h-1zM32 23h1v1h-1z"/><path fill="#d2dde9" d="M22 43h1v1h-1zM17 32h1v1h-1zM22 25h1v1h-1zM25 25h1v1h-1zM22 22h1v1h-1zM25 22h1v1h-1z"/><path fill="#dae3ed" d="M23 43h1v1h-1zM24 38h1v1h-1zM25 38h1v1h-1zM26 38h1v1h-1zM27 38h1v1h-1zM25 33h1v1h-1zM26 33h1v1h-1zM27 33h1v1h-1zM42 32h1v1h-1zM43 32h1v1h-1zM44 32h1v1h-1zM45 32h1v1h-1zM46 32h1v1h-1zM47 32h1v1h-1zM9 31h1v1h-1zM10 31h1v1h-1zM11 31h1v1h-1zM12 31h1v1h-1zM39 31h1v1h-1zM39 25h1v1h-1zM40 25h1v1h-1zM41 25h1v1h-1zM42 25h1v1h-1zM43 25h1v1h-1zM39 15h1v1h-1zM39 14h1v1h-1zM39 13h1v1h-1zM39 12h1v1h-1zM39 11h1v1h-1zM39 10h1v1h-1zM23 1h1v1h-1zM10 0h1v1h-1zM11 0h1v1h-1zM12 0h1v1h-1zM13 0h1v1h-1zM14 0h1v1h-1z"/><path fill="#dfe6ef" d="M24 43h1v1h-1zM22 7h1v1h-1zM22 3h1v1h-1z"/><path fill="#e1e8f1" d="M25 43h1v1h-1zM24 42h1v1h-1zM15 32h1v1h-1zM15 10h1v1h-1zM17 8h1v1h-1zM17 0h1v1h-1zM18 0h1v1h-1zM19 0h1v1h-1zM20 0h1v1h-1zM21 0h1v1h-1z"/><path fill="#e1e8f0" d="M26 43h1v1h-1zM21 8h1v1h-1zM15 7h1v1h-1zM0 2h1v1h-1zM0 1h1v1h-1zM15 1h1v1h-1z"/><path fill="#d3ddea" d="M22 42h1v1h-1zM27 41h1v1h-1zM26 40h1v1h-1zM22 36h1v1h-1zM22 35h1v1h-1zM22 34h1v1h-1zM22 33h1v1h-1zM16 31h1v1h-1zM17 31h1v1h-1zM18 31h1v1h-1zM19 31h1v1h-1zM20 31h1v1h-1zM32 0h1v1h-1zM33 0h1v1h-1z"/><path fill="#dde5ef" d="M23 42h1v1h-1zM41 29h1v1h-1zM42 28h1v1h-1zM43 27h1v1h-1zM44 26h1v1h-1zM2 23h1v1h-1zM0 21h1v1h-1zM0 20h1v1h-1zM1 20h1v1h-1zM32 15h1v1h-1zM33 15h1v1h-1zM34 15h1v1h-1zM35 15h1v1h-1zM36 15h1v1h-1zM32 14h1v1h-1zM33 14h1v1h-1zM34 14h1v1h-1zM35 14h1v1h-1zM36 14h1v1h-1zM32 13h1v1h-1zM33 13h1v1h-1zM34 13h1v1h-1zM35 13h1v1h-1zM36 13h1v1h-1zM26 12h1v1h-1zM32 12h1v1h-1zM33 12h1v1h-1zM34 12h1v1h-1zM35 12h1v1h-1zM36 12h1v1h-1zM32 11h1v1h-1zM33 11h1v1h-1zM34 11h1v1h-1zM35 11h1v1h-1zM36 11h1v1h-1zM9 1h1v1h-1zM10 1h1v1h-1zM1 0h1v1h-1z"/><path fill="#e2e9f1" d="M25 42h1v1h-1zM41 31h1v1h-1zM15 15h1v1h-1zM15 14h1v1h-1zM15 13h1v1h-1zM15 12h1v1h-1zM15 11h1v1h-1zM18 8h1v1h-1zM19 8h1v1h-1zM20 8h1v1h-1zM15 6h1v1h-1z"/><path fill="#dee6ef" d="M26 42h1v1h-1zM23 24h1v1h-1zM24 24h1v1h-1zM23 23h1v1h-1zM24 23h1v1h-1zM22 2h1v1h-1zM14 1h1v1h-1z"/><path fill="#d6e0eb" d="M27 42h1v1h-1zM24 32h1v1h-1zM25 32h1v1h-1zM23 25h1v1h-1zM24 25h1v1h-1zM22 24h1v1h-1zM25 24h1v1h-1zM45 24h1v1h-1zM22 23h1v1h-1zM25 23h1v1h-1zM23 22h1v1h-1zM24 22h1v1h-1zM40 10h1v1h-1zM24 2h1v1h-1z"/><path fill="#ccd8e6" d="M3 41h1v1h-1zM4 41h1v1h-1zM22 28h1v1h-1zM16 27h1v1h-1zM21 27h1v1h-1zM15 26h1v1h-1zM15 25h1v1h-1zM47 23h1v1h-1zM15 21h1v1h-1zM15 20h1v1h-1zM5 17h1v1h-1zM36 1h1v1h-1z"/><path fill="#cdd9e7" d="M17 41h1v1h-1zM18 41h1v1h-1zM19 41h1v1h-1zM20 41h1v1h-1zM17 40h1v1h-1zM21 40h1v1h-1zM32 40h1v1h-1zM23 31h1v1h-1zM23 26h1v1h-1zM24 26h1v1h-1zM21 24h1v1h-1zM26 24h1v1h-1zM21 23h1v1h-1zM26 23h1v1h-1zM46 23h1v1h-1zM23 21h1v1h-1zM24 21h1v1h-1zM4 6h1v1h-1zM2 4h1v1h-1zM2 3h1v1h-1z"/><path fill="#d9e2ed" d="M23 41h1v1h-1zM26 41h1v1h-1zM5 38h1v1h-1zM4 37h1v1h-1zM3 36h1v1h-1zM2 35h1v1h-1zM1 34h1v1h-1zM16 34h1v1h-1zM41 32h1v1h-1zM16 15h1v1h-1zM16 14h1v1h-1zM16 13h1v1h-1zM16 12h1v1h-1zM16 11h1v1h-1zM16 10h1v1h-1zM21 10h1v1h-1zM23 8h1v1h-1zM23 7h1v1h-1zM0 5h1v1h-1zM0 4h1v1h-1zM0 3h1v1h-1zM23 3h1v1h-1zM23 2h1v1h-1zM2 0h1v1h-1zM8 0h1v1h-1z"/><path fill="#dde5ee" d="M24 41h1v1h-1zM25 41h1v1h-1zM32 10h1v1h-1zM33 10h1v1h-1zM34 10h1v1h-1zM35 10h1v1h-1zM36 10h1v1h-1zM22 8h1v1h-1z"/><path fill="#d8e1ec" d="M9 40h1v1h-1zM10 40h1v1h-1zM23 38h1v1h-1zM23 37h1v1h-1zM23 36h1v1h-1zM16 35h1v1h-1zM23 35h1v1h-1zM23 34h1v1h-1zM23 33h1v1h-1zM17 15h1v1h-1zM17 14h1v1h-1zM17 13h1v1h-1zM17 12h1v1h-1zM17 11h1v1h-1zM17 10h1v1h-1zM18 10h1v1h-1zM19 10h1v1h-1zM20 10h1v1h-1zM24 1h1v1h-1z"/><path fill="#d5dfeb" d="M15 40h1v1h-1zM23 39h1v1h-1zM11 30h1v1h-1zM12 30h1v1h-1zM32 30h1v1h-1zM33 30h1v1h-1zM34 30h1v1h-1zM35 30h1v1h-1zM36 30h1v1h-1zM24 15h1v1h-1zM24 14h1v1h-1zM24 13h1v1h-1zM24 12h1v1h-1zM24 11h1v1h-1zM24 10h1v1h-1z"/><path fill="#cfdbe8" d="M16 40h1v1h-1zM17 39h1v1h-1zM16 28h1v1h-1zM21 28h1v1h-1zM33 24h1v1h-1zM0 8h1v1h-1zM1 8h1v1h-1zM6 7h1v1h-1zM5 0h1v1h-1z"/><path fill="#cdd8e7" d="M18 40h1v1h-1zM19 40h1v1h-1zM20 40h1v1h-1z"/><path fill="#d4deea" d="M24 40h1v1h-1zM25 40h1v1h-1zM35 40h1v1h-1zM36 40h1v1h-1zM39 38h1v1h-1zM40 38h1v1h-1zM41 38h1v1h-1zM42 38h1v1h-1zM43 38h1v1h-1zM44 38h1v1h-1zM45 38h1v1h-1zM46 38h1v1h-1zM47 38h1v1h-1zM39 37h1v1h-1zM40 37h1v1h-1zM41 37h1v1h-1zM42 37h1v1h-1zM43 37h1v1h-1zM44 37h1v1h-1zM45 37h1v1h-1zM46 37h1v1h-1zM47 37h1v1h-1zM39 36h1v1h-1zM40 36h1v1h-1zM41 36h1v1h-1zM42 36h1v1h-1zM43 36h1v1h-1zM44 36h1v1h-1zM45 36h1v1h-1zM46 36h1v1h-1zM47 36h1v1h-1zM39 35h1v1h-1zM40 35h1v1h-1zM41 35h1v1h-1zM42 35h1v1h-1zM43 35h1v1h-1zM44 35h1v1h-1zM45 35h1v1h-1zM46 35h1v1h-1zM47 35h1v1h-1zM39 34h1v1h-1zM40 34h1v1h-1zM41 34h1v1h-1zM42 34h1v1h-1zM43 34h1v1h-1zM44 34h1v1h-1zM45 34h1v1h-1zM46 34h1v1h-1zM47 34h1v1h-1zM39 33h1v1h-1zM40 33h1v1h-1zM23 32h1v1h-1zM15 31h1v1h-1zM8 30h1v1h-1zM17 30h1v1h-1zM18 30h1v1h-1zM19 30h1v1h-1zM20 30h1v1h-1zM8 29h1v1h-1zM9 29h1v1h-1zM10 29h1v1h-1zM11 29h1v1h-1zM13 29h1v1h-1zM18 29h1v1h-1zM19 29h1v1h-1zM20 29h1v1h-1zM32 29h1v1h-1zM33 29h1v1h-1zM34 29h1v1h-1zM35 29h1v1h-1zM36 29h1v1h-1zM9 28h1v1h-1zM10 28h1v1h-1zM12 28h1v1h-1zM13 28h1v1h-1zM32 28h1v1h-1zM33 28h1v1h-1zM34 28h1v1h-1zM35 28h1v1h-1zM36 28h1v1h-1zM9 27h1v1h-1zM11 27h1v1h-1zM12 27h1v1h-1zM13 27h1v1h-1zM32 27h1v1h-1zM33 27h1v1h-1zM34 27h1v1h-1zM35 27h1v1h-1zM36 27h1v1h-1zM10 26h1v1h-1zM11 26h1v1h-1zM12 26h1v1h-1zM13 26h1v1h-1zM32 26h1v1h-1zM33 26h1v1h-1zM34 26h1v1h-1zM35 26h1v1h-1zM36 26h1v1h-1zM8 25h1v1h-1zM9 25h1v1h-1zM10 25h1v1h-1zM11 25h1v1h-1zM12 25h1v1h-1zM13 25h1v1h-1zM32 25h1v1h-1zM33 25h1v1h-1zM34 25h1v1h-1zM35 25h1v1h-1zM36 25h1v1h-1zM8 24h1v1h-1zM9 24h1v1h-1zM10 24h1v1h-1zM11 24h1v1h-1zM12 24h1v1h-1zM13 24h1v1h-1zM8 23h1v1h-1zM10 23h1v1h-1zM11 23h1v1h-1zM12 23h1v1h-1zM13 23h1v1h-1zM8 22h1v1h-1zM9 22h1v1h-1zM10 22h1v1h-1zM11 22h1v1h-1zM12 22h1v1h-1zM13 22h1v1h-1zM8 21h1v1h-1zM9 21h1v1h-1zM10 21h1v1h-1zM11 21h1v1h-1zM12 21h1v1h-1zM13 21h1v1h-1zM8 20h1v1h-1zM9 20h1v1h-1zM10 20h1v1h-1zM11 20h1v1h-1zM12 20h1v1h-1zM13 20h1v1h-1zM8 19h1v1h-1zM9 19h1v1h-1zM10 19h1v1h-1zM11 19h1v1h-1zM12 19h1v1h-1zM13 19h1v1h-1zM14 19h1v1h-1zM15 19h1v1h-1zM2 8h1v1h-1zM3 8h1v1h-1zM4 8h1v1h-1zM5 8h1v1h-1zM6 8h1v1h-1zM25 8h1v1h-1zM26 8h1v1h-1zM27 8h1v1h-1zM0 7h1v1h-1zM25 7h1v1h-1zM26 7h1v1h-1zM27 7h1v1h-1zM0 6h1v1h-1zM25 6h1v1h-1zM26 6h1v1h-1zM27 6h1v1h-1zM4 5h1v1h-1zM25 5h1v1h-1zM26 5h1v1h-1zM27 5h1v1h-1zM3 4h1v1h-1zM25 4h1v1h-1zM26 4h1v1h-1zM27 4h1v1h-1zM25 3h1v1h-1zM26 3h1v1h-1zM27 3h1v1h-1zM26 2h1v1h-1zM27 2h1v1h-1zM45 0h1v1h-1zM46 0h1v1h-1z"/><path fill="#b4c6db" d="M7 39h1v1h-1zM28 39h1v1h-1zM7 38h1v1h-1zM28 38h1v1h-1zM7 37h1v1h-1zM28 37h1v1h-1zM7 36h1v1h-1zM28 36h1v1h-1zM7 35h1v1h-1zM28 35h1v1h-1zM7 34h1v1h-1zM28 34h1v1h-1zM7 33h1v1h-1zM28 33h1v1h-1zM7 32h1v1h-1zM28 32h1v1h-1zM28 8h1v1h-1zM28 7h1v1h-1zM28 6h1v1h-1zM28 5h1v1h-1zM28 4h1v1h-1zM28 3h1v1h-1zM28 2h1v1h-1zM28 1h1v1h-1z"/><path fill="#e4ebf2" d="M8 39h1v1h-1z"/><path fill="#e5ebf3" d="M9 39h1v1h-1zM10 39h1v1h-1zM11 39h1v1h-1zM12 39h1v1h-1zM21 38h1v1h-1zM20 37h1v1h-1zM15 36h1v1h-1zM15 35h1v1h-1zM18 35h1v1h-1zM17 34h1v1h-1zM9 32h1v1h-1zM14 31h1v1h-1zM42 31h1v1h-1zM13 30h1v1h-1zM12 29h1v1h-1zM11 28h1v1h-1zM10 27h1v1h-1zM9 26h1v1h-1zM32 24h1v1h-1z"/><path fill="#e5ebf2" d="M13 39h1v1h-1zM15 37h1v1h-1zM8 32h1v1h-1z"/><path fill="#e4eaf2" d="M14 39h1v1h-1zM15 38h1v1h-1z"/><path fill="#dfe6f0" d="M15 39h1v1h-1z"/><path fill="#d4deeb" d="M16 39h1v1h-1zM41 33h1v1h-1zM25 2h1v1h-1zM39 0h1v1h-1zM40 0h1v1h-1zM41 0h1v1h-1zM42 0h1v1h-1zM43 0h1v1h-1zM44 0h1v1h-1z"/><path fill="#8da8c8" d="M29 39h1v1h-1zM29 38h1v1h-1zM29 37h1v1h-1zM29 36h1v1h-1zM28 18h1v1h-1z"/><path fill="#7f9dc2" d="M30 39h1v1h-1zM30 38h1v1h-1zM30 37h1v1h-1zM38 37h1v1h-1zM30 36h1v1h-1zM38 36h1v1h-1zM38 35h1v1h-1zM38 34h1v1h-1zM30 8h1v1h-1zM30 7h1v1h-1zM30 6h1v1h-1zM30 5h1v1h-1z"/><path fill="#fcfdfe" d="M32 39h1v1h-1zM37 34h1v1h-1zM39 32h1v1h-1zM40 31h1v1h-1zM46 25h1v1h-1zM2 21h1v1h-1zM8 15h1v1h-1zM15 8h1v1h-1zM16 7h1v1h-1zM22 1h1v1h-1z"/><path fill="#e6ecf3" d="M33 39h1v1h-1zM15 34h1v1h-1zM10 32h1v1h-1zM11 32h1v1h-1zM12 32h1v1h-1zM43 31h1v1h-1zM44 31h1v1h-1zM45 31h1v1h-1zM46 31h1v1h-1zM47 31h1v1h-1zM8 14h1v1h-1zM14 9h1v1h-1zM21 7h1v1h-1z"/><path fill="#eaeff5" d="M35 39h1v1h-1zM36 39h1v1h-1zM8 38h1v1h-1zM8 33h1v1h-1zM43 29h1v1h-1zM44 28h1v1h-1zM45 27h1v1h-1zM46 26h1v1h-1zM18 7h1v1h-1zM19 7h1v1h-1zM20 7h1v1h-1zM16 5h1v1h-1zM16 4h1v1h-1zM16 2h1v1h-1zM18 1h1v1h-1zM19 1h1v1h-1z"/><path fill="#90aac9" d="M38 39h1v1h-1zM38 38h1v1h-1zM37 9h1v1h-1z"/><path fill="#ebf0f6" d="M9 38h1v1h-1zM10 38h1v1h-1zM11 38h1v1h-1zM12 38h1v1h-1zM14 36h1v1h-1zM14 35h1v1h-1zM14 34h1v1h-1zM10 33h1v1h-1zM11 33h1v1h-1zM12 33h1v1h-1zM14 33h1v1h-1zM44 30h1v1h-1zM45 30h1v1h-1zM46 30h1v1h-1zM47 30h1v1h-1z"/><path fill="#ebf0f5" d="M13 38h1v1h-1zM8 37h1v1h-1zM14 37h1v1h-1zM8 36h1v1h-1zM8 35h1v1h-1zM8 34h1v1h-1zM33 32h1v1h-1zM43 30h1v1h-1z"/><path fill="#f6f8fb" d="M14 38h1v1h-1zM13 37h1v1h-1zM12 36h1v1h-1zM11 35h1v1h-1zM10 34h1v1h-1zM9 33h1v1h-1zM3 20h1v1h-1zM19 4h1v1h-1z"/><path fill="#edf1f6" d="M32 38h1v1h-1zM34 32h1v1h-1zM35 32h1v1h-1zM36 32h1v1h-1zM20 2h1v1h-1z"/><path fill="#fcfbfa" d="M33 38h1v1h-1zM36 35h1v1h-1z"/><path fill="#f4f6fa" d="M34 38h1v1h-1z"/><path fill="#f4f7fa" d="M35 38h1v1h-1zM36 38h1v1h-1zM34 33h1v1h-1zM35 33h1v1h-1zM36 33h1v1h-1zM13 11h1v1h-1zM10 10h1v1h-1zM11 10h1v1h-1zM12 10h1v1h-1z"/><path fill="#dbe3ee" d="M24 37h1v1h-1zM25 37h1v1h-1zM26 37h1v1h-1zM27 37h1v1h-1zM24 36h1v1h-1zM25 36h1v1h-1zM26 36h1v1h-1zM27 36h1v1h-1zM24 35h1v1h-1zM25 35h1v1h-1zM26 35h1v1h-1zM27 35h1v1h-1zM25 34h1v1h-1zM26 34h1v1h-1zM27 34h1v1h-1zM32 31h1v1h-1zM39 30h1v1h-1zM39 29h1v1h-1zM39 28h1v1h-1zM40 28h1v1h-1zM39 27h1v1h-1zM40 27h1v1h-1zM41 27h1v1h-1zM39 26h1v1h-1zM40 26h1v1h-1zM41 26h1v1h-1zM42 26h1v1h-1zM44 25h1v1h-1zM8 16h1v1h-1zM9 16h1v1h-1zM10 16h1v1h-1zM11 16h1v1h-1zM12 16h1v1h-1zM13 16h1v1h-1zM14 16h1v1h-1zM15 16h1v1h-1zM46 14h1v1h-1zM45 13h1v1h-1zM44 12h1v1h-1zM43 11h1v1h-1zM36 5h1v1h-1zM35 4h1v1h-1zM34 3h1v1h-1zM33 2h1v1h-1z"/><path fill="#eef2f7" d="M32 37h1v1h-1zM24 33h1v1h-1zM32 33h1v1h-1zM1 23h1v1h-1zM0 22h1v1h-1zM1 21h1v1h-1zM2 20h1v1h-1zM18 6h1v1h-1zM19 6h1v1h-1zM17 5h1v1h-1zM19 5h1v1h-1zM20 5h1v1h-1zM17 4h1v1h-1zM18 4h1v1h-1zM20 4h1v1h-1zM17 3h1v1h-1zM18 3h1v1h-1zM19 3h1v1h-1zM18 2h1v1h-1zM19 2h1v1h-1z"/><path fill="#eff3f7" d="M32 36h1v1h-1zM32 35h1v1h-1zM32 34h1v1h-1zM14 15h1v1h-1zM14 14h1v1h-1zM14 13h1v1h-1zM14 12h1v1h-1zM0 0h1v1h-1z"/><path fill="#f3f6f9" d="M33 36h1v1h-1zM33 35h1v1h-1zM33 34h1v1h-1zM9 15h1v1h-1z"/><path fill="#84a1c4" d="M30 35h1v1h-1zM30 34h1v1h-1zM30 33h1v1h-1zM30 32h1v1h-1zM38 24h1v1h-1z"/><path fill="#dbe3ed" d="M24 34h1v1h-1z"/><path fill="#e7edf4" d="M15 33h1v1h-1zM13 32h1v1h-1zM14 32h1v1h-1zM8 13h1v1h-1z"/><path fill="#d4dfeb" d="M42 33h1v1h-1zM43 33h1v1h-1zM44 33h1v1h-1zM45 33h1v1h-1zM46 33h1v1h-1zM47 33h1v1h-1zM9 30h1v1h-1zM10 30h1v1h-1z"/><path fill="#d6e0ec" d="M26 32h1v1h-1zM40 32h1v1h-1zM44 24h1v1h-1zM40 15h1v1h-1zM40 14h1v1h-1zM40 13h1v1h-1zM40 12h1v1h-1zM40 11h1v1h-1z"/><path fill="#e8eef4" d="M32 32h1v1h-1zM8 11h1v1h-1z"/><path fill="#7092bb" d="M38 32h1v1h-1zM38 0h1v1h-1z"/><path fill="#b5c7dc" d="M7 31h1v1h-1zM7 30h1v1h-1zM7 29h1v1h-1zM7 25h1v1h-1zM7 24h1v1h-1zM7 23h1v1h-1zM7 22h1v1h-1zM7 21h1v1h-1zM7 20h1v1h-1zM7 19h1v1h-1z"/><path fill="#dae2ed" d="M8 31h1v1h-1zM23 6h1v1h-1zM23 5h1v1h-1zM23 4h1v1h-1zM9 0h1v1h-1z"/><path fill="#dce4ee" d="M13 31h1v1h-1zM33 31h1v1h-1zM34 31h1v1h-1zM35 31h1v1h-1zM36 31h1v1h-1zM40 30h1v1h-1zM45 25h1v1h-1zM22 15h1v1h-1zM23 15h1v1h-1zM22 14h1v1h-1zM23 14h1v1h-1zM22 13h1v1h-1zM23 13h1v1h-1zM22 12h1v1h-1zM23 12h1v1h-1zM22 11h1v1h-1zM23 11h1v1h-1zM22 10h1v1h-1zM23 10h1v1h-1zM15 0h1v1h-1zM24 0h1v1h-1z"/><path fill="#83a0c3" d="M29 31h1v1h-1zM29 30h1v1h-1zM29 29h1v1h-1zM29 23h1v1h-1zM29 22h1v1h-1zM29 21h1v1h-1zM29 20h1v1h-1zM29 15h1v1h-1zM29 14h1v1h-1zM29 13h1v1h-1zM29 12h1v1h-1zM29 11h1v1h-1zM29 10h1v1h-1z"/><path fill="#6c8eb9" d="M30 31h1v1h-1zM38 31h1v1h-1zM30 30h1v1h-1zM38 30h1v1h-1zM30 29h1v1h-1zM38 29h1v1h-1zM38 25h1v1h-1zM29 19h1v1h-1z"/><path fill="#afc2d9" d="M31 31h1v1h-1zM31 30h1v1h-1zM31 29h1v1h-1zM31 28h1v1h-1zM31 27h1v1h-1zM31 26h1v1h-1zM31 25h1v1h-1zM31 24h1v1h-1zM31 23h1v1h-1zM31 22h1v1h-1zM31 21h1v1h-1zM31 20h1v1h-1z"/><path fill="#c2d0e2" d="M37 31h1v1h-1zM37 30h1v1h-1zM37 29h1v1h-1zM37 28h1v1h-1zM37 27h1v1h-1zM37 26h1v1h-1zM37 25h1v1h-1zM37 24h1v1h-1zM7 8h1v1h-1zM37 8h1v1h-1zM37 7h1v1h-1zM7 6h1v1h-1zM37 6h1v1h-1zM37 5h1v1h-1z"/><path fill="#e9eef5" d="M42 30h1v1h-1zM21 5h1v1h-1zM20 1h1v1h-1z"/><path fill="#dbe4ee" d="M40 29h1v1h-1zM41 28h1v1h-1zM42 27h1v1h-1zM43 26h1v1h-1z"/><path fill="#f0f3f8" d="M42 29h1v1h-1zM44 27h1v1h-1zM45 26h1v1h-1zM4 19h1v1h-1zM9 13h1v1h-1zM17 6h1v1h-1zM21 2h1v1h-1z"/><path fill="#b0c3d9" d="M7 28h1v1h-1zM7 27h1v1h-1zM7 26h1v1h-1z"/><path fill="#7394bc" d="M29 28h1v1h-1zM29 27h1v1h-1zM29 26h1v1h-1zM29 25h1v1h-1zM29 24h1v1h-1zM28 9h1v1h-1z"/><path fill="#587eb0" d="M30 28h1v1h-1zM38 28h1v1h-1zM30 27h1v1h-1zM38 27h1v1h-1zM30 26h1v1h-1zM38 26h1v1h-1zM30 25h1v1h-1zM30 24h1v1h-1zM30 19h1v1h-1zM38 18h1v1h-1zM38 10h1v1h-1zM38 6h1v1h-1zM38 5h1v1h-1z"/><path fill="#cad6e6" d="M24 27h1v1h-1zM20 26h1v1h-1zM27 25h1v1h-1zM20 24h1v1h-1zM20 23h1v1h-1zM27 22h1v1h-1zM46 22h1v1h-1zM22 20h1v1h-1zM25 20h1v1h-1z"/><path fill="#c7d5e4" d="M6 25h1v1h-1z"/><path fill="#f8f5f2" d="M47 24h1v1h-1z"/><path fill="#7596bd" d="M30 23h1v1h-1zM30 22h1v1h-1zM30 21h1v1h-1zM30 20h1v1h-1zM38 16h1v1h-1zM38 7h1v1h-1z"/><path fill="#4e76ac" d="M38 23h1v1h-1zM30 18h1v1h-1z"/><path fill="#fcfaf8" d="M1 22h1v1h-1z"/><path fill="#678ab7" d="M38 22h1v1h-1zM38 21h1v1h-1zM38 20h1v1h-1zM38 19h1v1h-1zM30 16h1v1h-1zM38 15h1v1h-1zM38 14h1v1h-1zM38 13h1v1h-1zM38 12h1v1h-1zM38 11h1v1h-1zM38 8h1v1h-1z"/><path fill="#bcccdf" d="M20 19h1v1h-1zM21 19h1v1h-1zM12 17h1v1h-1zM13 17h1v1h-1zM14 17h1v1h-1zM15 17h1v1h-1zM16 17h1v1h-1zM23 9h1v1h-1zM31 8h1v1h-1zM31 7h1v1h-1zM31 6h1v1h-1zM31 5h1v1h-1zM31 4h1v1h-1zM5 3h1v1h-1zM31 3h1v1h-1zM31 2h1v1h-1zM31 1h1v1h-1zM31 0h1v1h-1z"/><path fill="#aabed6" d="M31 19h1v1h-1zM32 17h1v1h-1zM33 17h1v1h-1zM34 17h1v1h-1zM35 17h1v1h-1zM36 17h1v1h-1zM37 17h1v1h-1zM15 9h1v1h-1zM22 9h1v1h-1z"/><path fill="#b3c5da" d="M18 18h1v1h-1zM19 18h1v1h-1zM20 18h1v1h-1zM21 18h1v1h-1zM22 18h1v1h-1zM32 18h1v1h-1zM33 18h1v1h-1zM34 18h1v1h-1zM35 18h1v1h-1zM36 18h1v1h-1zM37 18h1v1h-1zM8 17h1v1h-1zM9 17h1v1h-1zM10 17h1v1h-1zM11 17h1v1h-1zM23 17h1v1h-1zM24 17h1v1h-1zM25 17h1v1h-1zM41 17h1v1h-1zM42 17h1v1h-1zM43 17h1v1h-1zM44 17h1v1h-1zM45 17h1v1h-1zM46 17h1v1h-1zM31 16h1v1h-1zM31 15h1v1h-1zM31 14h1v1h-1zM31 13h1v1h-1zM31 12h1v1h-1zM31 11h1v1h-1zM31 10h1v1h-1zM40 9h1v1h-1zM7 4h1v1h-1z"/><path fill="#b7c8dc" d="M26 18h1v1h-1zM27 18h1v1h-1z"/><path fill="#5f84b4" d="M29 18h1v1h-1z"/><path fill="#9fb6d1" d="M31 18h1v1h-1zM16 9h1v1h-1zM17 9h1v1h-1zM18 9h1v1h-1zM19 9h1v1h-1zM20 9h1v1h-1zM21 9h1v1h-1zM47 9h1v1h-1z"/><path fill="#b9cade" d="M0 17h1v1h-1zM1 17h1v1h-1zM2 17h1v1h-1zM3 17h1v1h-1zM4 17h1v1h-1z"/><path fill="#a1b7d2" d="M17 17h1v1h-1zM18 17h1v1h-1zM19 17h1v1h-1zM20 17h1v1h-1zM21 17h1v1h-1zM22 17h1v1h-1zM32 9h1v1h-1zM33 9h1v1h-1zM34 9h1v1h-1zM35 9h1v1h-1zM36 9h1v1h-1zM39 9h1v1h-1z"/><path fill="#a7bcd5" d="M26 17h1v1h-1zM27 17h1v1h-1z"/><path fill="#7c9bc0" d="M28 17h1v1h-1zM30 4h1v1h-1zM30 3h1v1h-1zM30 2h1v1h-1zM30 1h1v1h-1z"/><path fill="#456fa8" d="M29 17h1v1h-1z"/><path fill="#35629e" d="M30 17h1v1h-1z"/><path fill="#8ea8c9" d="M31 17h1v1h-1z"/><path fill="#3f6ba5" d="M38 17h1v1h-1zM30 9h1v1h-1z"/><path fill="#7999bf" d="M29 16h1v1h-1z"/><path fill="#bdcddf" d="M7 15h1v1h-1zM7 14h1v1h-1zM7 13h1v1h-1zM7 12h1v1h-1zM7 11h1v1h-1zM7 10h1v1h-1z"/><path fill="#d8e2ec" d="M21 15h1v1h-1zM21 14h1v1h-1zM21 13h1v1h-1zM21 12h1v1h-1zM21 11h1v1h-1z"/><path fill="#fbf9f7" d="M9 14h1v1h-1zM13 10h1v1h-1z"/><path fill="#e8edf4" d="M8 12h1v1h-1zM8 10h1v1h-1zM21 3h1v1h-1z"/><path fill="#f0f4f8" d="M9 12h1v1h-1zM9 10h1v1h-1z"/><path fill="#f7f3ef" d="M11 12h1v1h-1z"/><path fill="#f1f4f8" d="M9 11h1v1h-1z"/><path fill="#eff2f7" d="M14 11h1v1h-1z"/><path fill="#edf2f7" d="M14 10h1v1h-1zM20 6h1v1h-1zM17 2h1v1h-1z"/><path fill="#acc0d7" d="M1 9h1v1h-1zM2 9h1v1h-1zM3 9h1v1h-1zM4 9h1v1h-1zM5 9h1v1h-1zM6 9h1v1h-1z"/><path fill="#b9c9dd" d="M8 9h1v1h-1zM9 9h1v1h-1zM10 9h1v1h-1zM11 9h1v1h-1zM12 9h1v1h-1zM13 9h1v1h-1zM37 4h1v1h-1zM6 3h1v1h-1zM37 3h1v1h-1zM37 2h1v1h-1zM6 1h1v1h-1zM37 1h1v1h-1zM37 0h1v1h-1z"/><path fill="#97b0cd" d="M24 9h1v1h-1zM25 9h1v1h-1zM26 9h1v1h-1zM27 9h1v1h-1z"/><path fill="#587fb1" d="M29 9h1v1h-1z"/><path fill="#0c4181" d="M38 9h1v1h-1z"/><path fill="#92accb" d="M41 9h1v1h-1zM42 9h1v1h-1zM43 9h1v1h-1zM44 9h1v1h-1zM45 9h1v1h-1zM46 9h1v1h-1z"/><path fill="#e0e7f0" d="M8 8h1v1h-1zM9 8h1v1h-1zM10 8h1v1h-1zM11 8h1v1h-1zM12 8h1v1h-1zM13 8h1v1h-1zM14 8h1v1h-1zM14 6h1v1h-1zM14 5h1v1h-1zM22 5h1v1h-1zM14 4h1v1h-1zM14 3h1v1h-1zM14 2h1v1h-1zM22 0h1v1h-1z"/><path fill="#dfe7f0" d="M16 8h1v1h-1zM8 7h1v1h-1zM9 7h1v1h-1zM10 7h1v1h-1zM11 7h1v1h-1zM12 7h1v1h-1zM13 7h1v1h-1zM14 7h1v1h-1zM8 6h1v1h-1zM9 6h1v1h-1zM10 6h1v1h-1zM11 6h1v1h-1zM12 6h1v1h-1zM13 6h1v1h-1zM22 6h1v1h-1zM8 5h1v1h-1zM9 5h1v1h-1zM10 5h1v1h-1zM11 5h1v1h-1zM12 5h1v1h-1zM13 5h1v1h-1zM8 4h1v1h-1zM9 4h1v1h-1zM10 4h1v1h-1zM11 4h1v1h-1zM12 4h1v1h-1zM13 4h1v1h-1zM22 4h1v1h-1zM8 3h1v1h-1zM9 3h1v1h-1zM10 3h1v1h-1zM11 3h1v1h-1zM12 3h1v1h-1zM13 3h1v1h-1zM8 2h1v1h-1zM9 2h1v1h-1zM10 2h1v1h-1zM11 2h1v1h-1zM12 2h1v1h-1zM13 2h1v1h-1zM16 0h1v1h-1z"/><path fill="#d2dce9" d="M5 6h1v1h-1zM1 2h1v1h-1zM1 1h1v1h-1zM4 0h1v1h-1z"/><path fill="#c1d0e1" d="M6 5h1v1h-1zM5 4h1v1h-1zM4 3h1v1h-1zM4 2h1v1h-1zM5 1h1v1h-1z"/><path fill="#bacbde" d="M7 5h1v1h-1zM5 2h1v1h-1z"/><path fill="#e3eaf2" d="M15 5h1v1h-1zM15 4h1v1h-1zM15 3h1v1h-1z"/><path fill="#becee0" d="M6 4h1v1h-1z"/><path fill="#446fa8" d="M38 4h1v1h-1zM38 3h1v1h-1zM38 2h1v1h-1zM38 1h1v1h-1z"/><path fill="#ebeff5" d="M16 3h1v1h-1z"/><path fill="#b6c7dc" d="M6 2h1v1h-1z"/><path fill="#a5bad4" d="M7 2h1v1h-1z"/><path fill="#e3eaf1" d="M15 2h1v1h-1z"/><path fill="#dee5ef" d="M11 1h1v1h-1zM12 1h1v1h-1zM13 1h1v1h-1z"/><path fill="#e7ecf3" d="M16 1h1v1h-1z"/><path fill="#e9eff5" d="M17 1h1v1h-1z"/><path fill="#e7edf3" d="M21 1h1v1h-1z"/><path fill="#f5f0eb" d="M23 0h1v1h-1z"/><path fill="#dce5ee" d="M25 0h1v1h-1zM26 0h1v1h-1zM27 0h1v1h-1z"/></g>
<rect x="50.5" y="608.0" width="253.7" height="254.29999999999995" fill="none" stroke="#c8c8c8" stroke-width="1"/><line x1="50.5" y1="859.38" x2="53.5" y2="859.38" stroke="#999" stroke-width="0.8"/><line x1="52.75" y1="862.3" x2="52.75" y2="859.3" stroke="#999" stroke-width="0.8"/><text x="47.5" y="865.38" font-family="Liberation Serif, serif" font-size="23" text-anchor="end">1</text><text x="52.75" y="880.8" font-family="Liberation Serif, serif" font-size="23" text-anchor="middle">1</text><line x1="50.5" y1="781.605" x2="53.5" y2="781.605" stroke="#999" stroke-width="0.8"/><line x1="130.52499999999998" y1="862.3" x2="130.52499999999998" y2="859.3" stroke="#999" stroke-width="0.8"/><text x="47.5" y="787.605" font-family="Liberation Serif, serif" font-size="23" text-anchor="end">16</text><text x="130.52499999999998" y="880.8" font-family="Liberation Serif, serif" font-size="23" text-anchor="middle">16</text><line x1="50.5" y1="698.645" x2="53.5" y2="698.645" stroke="#999" stroke-width="0.8"/><line x1="213.48499999999999" y1="862.3" x2="213.48499999999999" y2="859.3" stroke="#999" stroke-width="0.8"/><text x="47.5" y="704.645" font-family="Liberation Serif, serif" font-size="23" text-anchor="end">32</text><text x="213.48499999999999" y="880.8" font-family="Liberation Serif, serif" font-size="23" text-anchor="middle">32</text><line x1="50.5" y1="615.685" x2="53.5" y2="615.685" stroke="#999" stroke-width="0.8"/><line x1="296.445" y1="862.3" x2="296.445" y2="859.3" stroke="#999" stroke-width="0.8"/><text x="47.5" y="621.685" font-family="Liberation Serif, serif" font-size="23" text-anchor="end">48</text><text x="296.445" y="880.8" font-family="Liberation Serif, serif" font-size="23" text-anchor="middle">48</text>
<g transform="translate(431.5,610.5) scale(5.185)" shape-rendering="crispEdges"><path fill="#cfdae8" d="M0 47h1v1h-1zM1 47h1v1h-1zM2 47h1v1h-1zM3 47h1v1h-1zM17 47h1v1h-1zM18 47h1v1h-1zM19 47h1v1h-1zM20 47h1v1h-1zM21 47h1v1h-1zM22 47h1v1h-1zM26 47h1v1h-1zM27 47h1v1h-1zM0 46h1v1h-1zM1 46h1v1h-1zM2 46h1v1h-1zM3 46h1v1h-1zM17 46h1v1h-1zM18 46h1v1h-1zM19 46h1v1h-1zM20 46h1v1h-1zM21 46h1v1h-1zM22 46h1v1h-1zM26 46h1v1h-1zM27 46h1v1h-1zM0 45h1v1h-1zM1 45h1v1h-1zM2 45h1v1h-1zM3 45h1v1h-1zM17 45h1v1h-1zM18 45h1v1h-1zM19 45h1v1h-1zM20 45h1v1h-1zM21 45h1v1h-1zM22 45h1v1h-1zM27 45h1v1h-1zM0 44h1v1h-1zM1 44h1v1h-1zM2 44h1v1h-1zM17 44h1v1h-1zM18 44h1v1h-1zM19 44h1v1h-1zM20 44h1v1h-1zM21 44h1v1h-1zM0 43h1v1h-1zM1 43h1v1h-1zM17 43h1v1h-1zM18 43h1v1h-1zM19 43h1v1h-1zM20 43h1v1h-1zM21 43h1v1h-1zM17 42h1v1h-1zM18 42h1v1h-1zM19 42h1v1h-1zM20 42h1v1h-1zM21 42h1v1h-1zM22 40h1v1h-1zM15 30h1v1h-1zM15 29h1v1h-1zM23 19h1v1h-1zM24 19h1v1h-1zM25 19h1v1h-1zM0 16h1v1h-1zM1 16h1v1h-1zM2 16h1v1h-1zM3 16h1v1h-1zM4 16h1v1h-1zM5 16h1v1h-1zM6 16h1v1h-1zM16 16h1v1h-1zM17 16h1v1h-1zM18 16h1v1h-1zM19 16h1v1h-1zM20 16h1v1h-1zM21 16h1v1h-1zM22 16h1v1h-1zM23 16h1v1h-1zM24 16h1v1h-1zM25 16h1v1h-1zM26 16h1v1h-1zM27 16h1v1h-1zM0 9h1v1h-1zM40 8h1v1h-1zM41 8h1v1h-1zM42 8h1v1h-1zM43 8h1v1h-1zM44 8h1v1h-1zM45 8h1v1h-1zM46 8h1v1h-1zM47 8h1v1h-1zM16 7h1v1h-1zM39 7h1v1h-1zM40 7h1v1h-1zM41 7h1v1h-1zM42 7h1v1h-1zM43 7h1v1h-1zM44 7h1v1h-1zM46 7h1v1h-1zM47 7h1v1h-1zM39 6h1v1h-1zM40 6h1v1h-1zM41 6h1v1h-1zM42 6h1v1h-1zM43 6h1v1h-1zM45 6h1v1h-1zM46 6h1v1h-1zM47 6h1v1h-1zM39 5h1v1h-1zM40 5h1v1h-1zM41 5h1v1h-1zM42 5h1v1h-1zM44 5h1v1h-1zM45 5h1v1h-1zM46 5h1v1h-1zM47 5h1v1h-1zM39 4h1v1h-1zM40 4h1v1h-1zM41 4h1v1h-1zM43 4h1v1h-1zM44 4h1v1h-1zM45 4h1v1h-1zM46 4h1v1h-1zM47 4h1v1h-1zM20 3h1v1h-1zM39 3h1v1h-1zM40 3h1v1h-1zM41 3h1v1h-1zM42 3h1v1h-1zM43 3h1v1h-1zM44 3h1v1h-1zM45 3h1v1h-1zM46 3h1v1h-1zM47 3h1v1h-1zM39 2h1v1h-1zM40 2h1v1h-1zM41 2h1v1h-1zM42 2h1v1h-1zM43 2h1v1h-1zM44 2h1v1h-1zM45 2h1v1h-1zM46 2h1v1h-1zM47 2h1v1h-1z"/><path fill="#cedae8" d="M4 47h1v1h-1zM4 46h1v1h-1zM4 43h1v1h-1zM0 42h1v1h-1zM3 42h1v1h-1zM4 42h1v1h-1zM22 31h1v1h-1zM24 31h1v1h-1zM25 31h1v1h-1zM26 31h1v1h-1zM27 31h1v1h-1zM39 23h1v1h-1zM40 23h1v1h-1zM41 23h1v1h-1zM42 23h1v1h-1zM43 23h1v1h-1zM44 23h1v1h-1zM45 23h1v1h-1zM41 15h1v1h-1zM41 14h1v1h-1zM41 13h1v1h-1zM41 12h1v1h-1zM41 11h1v1h-1zM41 10h1v1h-1z"/><path fill="#cad7e6" d="M5 47h1v1h-1zM5 44h1v1h-1zM46 40h1v1h-1zM23 30h1v1h-1zM24 30h1v1h-1zM25 30h1v1h-1zM26 30h1v1h-1zM27 30h1v1h-1zM23 27h1v1h-1zM24 27h1v1h-1zM20 26h1v1h-1zM27 25h1v1h-1zM20 24h1v1h-1zM27 24h1v1h-1zM20 23h1v1h-1zM27 23h1v1h-1zM27 22h1v1h-1zM39 22h1v1h-1zM40 22h1v1h-1zM41 22h1v1h-1zM42 22h1v1h-1zM43 22h1v1h-1zM44 22h1v1h-1zM45 22h1v1h-1zM46 22h1v1h-1zM22 20h1v1h-1zM23 20h1v1h-1zM24 20h1v1h-1zM25 20h1v1h-1zM42 15h1v1h-1zM42 14h1v1h-1zM42 13h1v1h-1zM42 12h1v1h-1zM42 11h1v1h-1zM42 10h1v1h-1z"/><path fill="#c4d2e3" d="M6 47h1v1h-1zM6 45h1v1h-1zM34 22h1v1h-1zM35 22h1v1h-1z"/><path fill="#a6bbd4" d="M7 47h1v1h-1zM7 43h1v1h-1zM7 42h1v1h-1zM7 41h1v1h-1zM7 40h1v1h-1zM31 31h1v1h-1zM31 30h1v1h-1zM31 29h1v1h-1zM31 28h1v1h-1zM31 27h1v1h-1zM31 26h1v1h-1zM31 25h1v1h-1zM31 24h1v1h-1zM31 23h1v1h-1zM31 22h1v1h-1zM31 21h1v1h-1zM31 20h1v1h-1zM28 16h1v1h-1zM17 6h1v1h-1zM29 0h1v1h-1z"/><path fill="#d1dce9" d="M8 47h1v1h-1zM9 47h1v1h-1zM10 47h1v1h-1zM11 47h1v1h-1zM12 47h1v1h-1zM13 47h1v1h-1zM14 47h1v1h-1zM15 47h1v1h-1zM8 46h1v1h-1zM9 46h1v1h-1zM10 46h1v1h-1zM11 46h1v1h-1zM12 46h1v1h-1zM13 46h1v1h-1zM14 46h1v1h-1zM15 46h1v1h-1zM8 45h1v1h-1zM9 45h1v1h-1zM10 45h1v1h-1zM11 45h1v1h-1zM12 45h1v1h-1zM14 45h1v1h-1zM15 45h1v1h-1zM8 44h1v1h-1zM9 44h1v1h-1zM10 44h1v1h-1zM11 44h1v1h-1zM13 44h1v1h-1zM14 44h1v1h-1zM15 44h1v1h-1zM8 43h1v1h-1zM9 43h1v1h-1zM10 43h1v1h-1zM12 43h1v1h-1zM13 43h1v1h-1zM14 43h1v1h-1zM15 43h1v1h-1zM8 42h1v1h-1zM9 42h1v1h-1zM11 42h1v1h-1zM12 42h1v1h-1zM13 42h1v1h-1zM14 42h1v1h-1zM15 42h1v1h-1zM8 41h1v1h-1zM15 41h1v1h-1zM45 39h1v1h-1zM47 39h1v1h-1zM18 38h1v1h-1zM19 38h1v1h-1zM20 38h1v1h-1zM18 37h1v1h-1zM19 37h1v1h-1zM18 36h1v1h-1zM20 36h1v1h-1zM19 35h1v1h-1zM20 35h1v1h-1zM18 34h1v1h-1zM19 34h1v1h-1zM20 34h1v1h-1zM18 33h1v1h-1zM19 33h1v1h-1zM20 33h1v1h-1zM34 24h1v1h-1zM35 24h1v1h-1zM36 24h1v1h-1zM39 16h1v1h-1zM40 16h1v1h-1zM41 16h1v1h-1zM42 16h1v1h-1zM43 16h1v1h-1zM44 16h1v1h-1zM45 16h1v1h-1zM46 16h1v1h-1zM47 16h1v1h-1zM0 15h1v1h-1zM1 15h1v1h-1zM2 15h1v1h-1zM3 15h1v1h-1zM4 15h1v1h-1zM5 15h1v1h-1zM6 15h1v1h-1zM26 15h1v1h-1zM27 15h1v1h-1zM0 14h1v1h-1zM1 14h1v1h-1zM2 14h1v1h-1zM3 14h1v1h-1zM4 14h1v1h-1zM5 14h1v1h-1zM26 14h1v1h-1zM27 14h1v1h-1zM0 13h1v1h-1zM1 13h1v1h-1zM2 13h1v1h-1zM3 13h1v1h-1zM4 13h1v1h-1zM5 13h1v1h-1zM26 13h1v1h-1zM27 13h1v1h-1zM0 12h1v1h-1zM1 12h1v1h-1zM2 12h1v1h-1zM3 12h1v1h-1zM4 12h1v1h-1zM5 12h1v1h-1zM27 12h1v1h-1zM0 11h1v1h-1zM1 11h1v1h-1zM2 11h1v1h-1zM3 11h1v1h-1zM4 11h1v1h-1zM5 11h1v1h-1zM26 11h1v1h-1zM27 11h1v1h-1zM0 10h1v1h-1zM1 10h1v1h-1zM2 10h1v1h-1zM3 10h1v1h-1zM4 10h1v1h-1zM5 10h1v1h-1zM26 10h1v1h-1zM27 10h1v1h-1zM39 1h1v1h-1zM40 1h1v1h-1zM41 1h1v1h-1zM42 1h1v1h-1zM43 1h1v1h-1zM44 1h1v1h-1zM45 1h1v1h-1zM46 1h1v1h-1z"/><path fill="#cfdbe8" d="M16 47h1v1h-1zM16 46h1v1h-1zM16 45h1v1h-1zM23 45h1v1h-1zM16 44h1v1h-1zM16 43h1v1h-1zM16 42h1v1h-1zM18 39h1v1h-1zM19 39h1v1h-1zM20 39h1v1h-1zM21 39h1v1h-1z"/><path fill="#e6ecf3" d="M23 47h1v1h-1zM23 46h1v1h-1zM13 45h1v1h-1zM12 44h1v1h-1zM11 43h1v1h-1zM10 42h1v1h-1zM9 41h1v1h-1zM14 39h1v1h-1zM15 38h1v1h-1zM19 36h1v1h-1zM9 23h1v1h-1zM14 23h1v1h-1zM3 22h1v1h-1zM4 20h1v1h-1zM40 17h1v1h-1zM45 7h1v1h-1zM44 6h1v1h-1zM15 5h1v1h-1zM43 5h1v1h-1zM15 4h1v1h-1zM42 4h1v1h-1zM15 3h1v1h-1zM15 2h1v1h-1z"/><path fill="#7b420f" d="M24 47h1v1h-1zM0 23h1v1h-1z"/><path fill="#f0f3f8" d="M25 47h1v1h-1zM16 41h1v1h-1zM46 39h1v1h-1zM9 37h1v1h-1zM10 37h1v1h-1zM11 37h1v1h-1zM12 37h1v1h-1zM9 36h1v1h-1zM10 36h1v1h-1zM11 36h1v1h-1zM13 36h1v1h-1zM9 35h1v1h-1zM10 35h1v1h-1zM12 35h1v1h-1zM13 35h1v1h-1zM9 34h1v1h-1zM11 34h1v1h-1zM12 34h1v1h-1zM13 34h1v1h-1zM16 33h1v1h-1zM6 31h1v1h-1zM44 29h1v1h-1zM45 29h1v1h-1zM46 29h1v1h-1zM47 29h1v1h-1zM45 28h1v1h-1zM46 28h1v1h-1zM47 28h1v1h-1zM46 27h1v1h-1zM47 27h1v1h-1zM39 8h1v1h-1zM8 1h1v1h-1zM47 0h1v1h-1z"/><path fill="#abbfd7" d="M28 47h1v1h-1zM28 46h1v1h-1zM28 45h1v1h-1zM28 44h1v1h-1zM28 42h1v1h-1zM28 41h1v1h-1zM28 40h1v1h-1zM28 31h1v1h-1zM28 30h1v1h-1zM28 29h1v1h-1zM28 28h1v1h-1zM43 28h1v1h-1zM28 23h1v1h-1zM28 22h1v1h-1zM28 21h1v1h-1zM28 20h1v1h-1zM7 18h1v1h-1zM18 18h1v1h-1zM19 18h1v1h-1zM20 18h1v1h-1zM21 18h1v1h-1zM22 18h1v1h-1zM32 18h1v1h-1zM33 18h1v1h-1zM34 18h1v1h-1zM35 18h1v1h-1zM36 18h1v1h-1zM37 18h1v1h-1zM8 17h1v1h-1zM9 17h1v1h-1zM10 17h1v1h-1zM11 17h1v1h-1zM23 17h1v1h-1zM24 17h1v1h-1zM25 17h1v1h-1zM41 17h1v1h-1zM42 17h1v1h-1zM43 17h1v1h-1zM44 17h1v1h-1zM45 17h1v1h-1zM46 17h1v1h-1zM31 16h1v1h-1zM8 15h1v1h-1zM28 15h1v1h-1zM31 15h1v1h-1zM28 14h1v1h-1zM31 14h1v1h-1zM28 13h1v1h-1zM31 13h1v1h-1zM28 12h1v1h-1zM31 12h1v1h-1zM28 11h1v1h-1zM31 11h1v1h-1zM28 10h1v1h-1zM31 10h1v1h-1zM40 9h1v1h-1zM18 5h1v1h-1zM7 3h1v1h-1zM7 1h1v1h-1zM7 0h1v1h-1z"/><path fill="#93adcb" d="M29 47h1v1h-1zM29 46h1v1h-1zM29 45h1v1h-1zM29 44h1v1h-1zM29 43h1v1h-1zM29 41h1v1h-1zM29 40h1v1h-1zM29 35h1v1h-1zM29 34h1v1h-1zM29 33h1v1h-1zM29 32h1v1h-1zM4 19h1v1h-1zM17 17h1v1h-1zM18 17h1v1h-1zM19 17h1v1h-1zM20 17h1v1h-1zM21 17h1v1h-1zM22 17h1v1h-1zM32 9h1v1h-1zM33 9h1v1h-1zM34 9h1v1h-1zM35 9h1v1h-1zM36 9h1v1h-1zM39 9h1v1h-1zM29 8h1v1h-1zM29 7h1v1h-1zM29 6h1v1h-1zM29 5h1v1h-1zM29 4h1v1h-1zM29 3h1v1h-1zM29 2h1v1h-1zM29 1h1v1h-1z"/><path fill="#7394bc" d="M30 47h1v1h-1zM30 46h1v1h-1zM30 45h1v1h-1zM30 44h1v1h-1zM30 43h1v1h-1zM38 43h1v1h-1zM30 42h1v1h-1zM38 42h1v1h-1zM38 41h1v1h-1zM30 40h1v1h-1zM38 40h1v1h-1zM29 28h1v1h-1zM29 27h1v1h-1zM29 26h1v1h-1zM29 25h1v1h-1zM29 24h1v1h-1zM28 9h1v1h-1zM31 9h1v1h-1z"/><path fill="#bdcddf" d="M31 47h1v1h-1zM31 46h1v1h-1zM31 45h1v1h-1zM31 44h1v1h-1zM31 43h1v1h-1zM31 42h1v1h-1zM31 41h1v1h-1zM31 39h1v1h-1zM31 38h1v1h-1zM31 37h1v1h-1zM31 36h1v1h-1zM31 35h1v1h-1zM31 34h1v1h-1zM31 33h1v1h-1zM31 32h1v1h-1zM16 18h1v1h-1zM17 18h1v1h-1zM23 18h1v1h-1zM24 18h1v1h-1zM25 18h1v1h-1zM39 18h1v1h-1zM40 18h1v1h-1zM41 18h1v1h-1zM42 18h1v1h-1zM43 18h1v1h-1zM44 18h1v1h-1zM45 18h1v1h-1zM46 18h1v1h-1zM47 18h1v1h-1zM39 17h1v1h-1zM47 17h1v1h-1zM7 15h1v1h-1zM7 14h1v1h-1zM7 13h1v1h-1zM7 12h1v1h-1zM7 11h1v1h-1zM7 10h1v1h-1z"/><path fill="#c8d5e5" d="M32 47h1v1h-1zM33 47h1v1h-1zM34 47h1v1h-1zM35 47h1v1h-1zM36 47h1v1h-1zM37 47h1v1h-1zM32 46h1v1h-1zM33 46h1v1h-1zM34 46h1v1h-1zM35 46h1v1h-1zM36 46h1v1h-1zM37 46h1v1h-1zM32 45h1v1h-1zM33 45h1v1h-1zM34 45h1v1h-1zM35 45h1v1h-1zM36 45h1v1h-1zM37 45h1v1h-1zM32 44h1v1h-1zM33 44h1v1h-1zM34 44h1v1h-1zM35 44h1v1h-1zM36 44h1v1h-1zM37 44h1v1h-1zM45 44h1v1h-1zM32 43h1v1h-1zM33 43h1v1h-1zM34 43h1v1h-1zM35 43h1v1h-1zM36 43h1v1h-1zM37 43h1v1h-1zM45 43h1v1h-1zM46 43h1v1h-1zM47 43h1v1h-1zM32 42h1v1h-1zM33 42h1v1h-1zM34 42h1v1h-1zM35 42h1v1h-1zM36 42h1v1h-1zM37 42h1v1h-1zM39 42h1v1h-1zM40 42h1v1h-1zM41 42h1v1h-1zM42 42h1v1h-1zM43 42h1v1h-1zM44 42h1v1h-1zM45 42h1v1h-1zM46 42h1v1h-1zM47 42h1v1h-1zM37 41h1v1h-1zM37 40h1v1h-1zM6 39h1v1h-1zM0 38h1v1h-1zM1 38h1v1h-1zM2 38h1v1h-1zM3 38h1v1h-1zM4 38h1v1h-1zM0 37h1v1h-1zM1 37h1v1h-1zM2 37h1v1h-1zM3 37h1v1h-1zM5 37h1v1h-1zM0 36h1v1h-1zM1 36h1v1h-1zM2 36h1v1h-1zM4 36h1v1h-1zM5 36h1v1h-1zM0 35h1v1h-1zM1 35h1v1h-1zM3 35h1v1h-1zM4 35h1v1h-1zM5 35h1v1h-1zM0 34h1v1h-1zM2 34h1v1h-1zM3 34h1v1h-1zM4 34h1v1h-1zM5 34h1v1h-1zM0 33h1v1h-1zM1 33h1v1h-1zM2 33h1v1h-1zM3 33h1v1h-1zM4 33h1v1h-1zM5 33h1v1h-1zM0 32h1v1h-1zM1 32h1v1h-1zM2 32h1v1h-1zM3 32h1v1h-1zM4 32h1v1h-1zM5 32h1v1h-1zM0 31h1v1h-1zM1 31h1v1h-1zM2 31h1v1h-1zM3 31h1v1h-1zM4 31h1v1h-1zM5 31h1v1h-1zM0 30h1v1h-1zM1 30h1v1h-1zM2 30h1v1h-1zM3 30h1v1h-1zM4 30h1v1h-1zM5 30h1v1h-1zM0 24h1v1h-1zM1 24h1v1h-1zM2 24h1v1h-1zM3 24h1v1h-1zM4 24h1v1h-1zM5 24h1v1h-1zM3 23h1v1h-1zM4 23h1v1h-1zM5 23h1v1h-1zM35 23h1v1h-1zM4 22h1v1h-1zM5 22h1v1h-1zM4 21h1v1h-1zM5 21h1v1h-1zM5 20h1v1h-1zM0 19h1v1h-1zM1 19h1v1h-1zM2 19h1v1h-1zM32 7h1v1h-1zM33 7h1v1h-1zM34 7h1v1h-1zM35 7h1v1h-1zM36 7h1v1h-1zM2 6h1v1h-1zM32 6h1v1h-1zM33 6h1v1h-1zM34 6h1v1h-1zM35 6h1v1h-1zM36 6h1v1h-1zM32 5h1v1h-1zM33 5h1v1h-1zM34 5h1v1h-1zM35 5h1v1h-1zM32 4h1v1h-1zM33 4h1v1h-1zM34 4h1v1h-1zM36 4h1v1h-1zM32 3h1v1h-1zM33 3h1v1h-1zM35 3h1v1h-1zM36 3h1v1h-1zM3 2h1v1h-1zM3 1h1v1h-1z"/><path fill="#8da8c8" d="M38 47h1v1h-1zM29 39h1v1h-1zM29 38h1v1h-1zM29 37h1v1h-1zM29 36h1v1h-1zM28 18h1v1h-1zM30 0h1v1h-1z"/><path fill="#c7d4e4" d="M39 47h1v1h-1zM0 40h1v1h-1zM2 40h1v1h-1zM4 40h1v1h-1zM5 40h1v1h-1zM0 39h1v1h-1zM1 39h1v1h-1zM2 39h1v1h-1zM3 39h1v1h-1zM4 39h1v1h-1zM5 39h1v1h-1zM6 29h1v1h-1zM6 25h1v1h-1zM33 23h1v1h-1z"/><path fill="#c5d3e3" d="M40 47h1v1h-1zM39 46h1v1h-1zM39 45h1v1h-1zM6 43h1v1h-1zM6 42h1v1h-1zM6 41h1v1h-1zM6 40h1v1h-1zM32 23h1v1h-1z"/><path fill="#c5d2e3" d="M41 47h1v1h-1zM42 47h1v1h-1zM6 44h1v1h-1zM1 7h1v1h-1zM1 6h1v1h-1zM6 6h1v1h-1z"/><path fill="#c6d3e3" d="M43 47h1v1h-1zM44 45h1v1h-1zM39 44h1v1h-1zM41 43h1v1h-1zM42 43h1v1h-1z"/><path fill="#c8d5e4" d="M44 47h1v1h-1zM44 43h1v1h-1zM34 23h1v1h-1z"/><path fill="#ccd8e7" d="M45 47h1v1h-1zM47 45h1v1h-1zM22 29h1v1h-1zM17 27h1v1h-1zM20 27h1v1h-1zM47 23h1v1h-1zM5 17h1v1h-1zM35 1h1v1h-1zM36 1h1v1h-1z"/><path fill="#d4deea" d="M46 47h1v1h-1zM47 46h1v1h-1zM22 42h1v1h-1zM27 41h1v1h-1zM26 40h1v1h-1zM22 38h1v1h-1zM22 36h1v1h-1zM22 35h1v1h-1zM22 34h1v1h-1zM22 33h1v1h-1zM16 31h1v1h-1zM17 31h1v1h-1zM18 31h1v1h-1zM19 31h1v1h-1zM20 31h1v1h-1zM33 0h1v1h-1z"/><path fill="#d8e1ec" d="M47 47h1v1h-1zM24 39h1v1h-1zM27 39h1v1h-1zM16 38h1v1h-1zM16 32h1v1h-1zM25 32h1v1h-1zM26 32h1v1h-1zM27 32h1v1h-1zM40 32h1v1h-1zM23 25h1v1h-1zM24 25h1v1h-1zM22 24h1v1h-1zM25 24h1v1h-1zM39 24h1v1h-1zM40 24h1v1h-1zM41 24h1v1h-1zM42 24h1v1h-1zM43 24h1v1h-1zM44 24h1v1h-1zM45 24h1v1h-1zM46 24h1v1h-1zM22 23h1v1h-1zM25 23h1v1h-1zM23 22h1v1h-1zM24 22h1v1h-1zM40 15h1v1h-1zM40 14h1v1h-1zM40 13h1v1h-1zM40 12h1v1h-1zM40 11h1v1h-1zM40 10h1v1h-1zM26 1h1v1h-1zM27 1h1v1h-1z"/><path fill="#c2d0e2" d="M5 46h1v1h-1zM40 46h1v1h-1zM43 46h1v1h-1zM4 45h1v1h-1zM3 44h1v1h-1zM40 44h1v1h-1zM43 44h1v1h-1zM2 43h1v1h-1zM1 42h1v1h-1zM0 28h1v1h-1zM1 28h1v1h-1zM2 28h1v1h-1zM3 28h1v1h-1zM4 28h1v1h-1zM5 28h1v1h-1zM0 26h1v1h-1zM1 26h1v1h-1zM2 26h1v1h-1zM3 26h1v1h-1zM4 26h1v1h-1zM5 26h1v1h-1zM7 8h1v1h-1zM7 6h1v1h-1zM4 1h1v1h-1z"/><path fill="#c3d1e2" d="M6 46h1v1h-1zM37 23h1v1h-1zM37 22h1v1h-1zM32 21h1v1h-1zM33 21h1v1h-1zM34 21h1v1h-1zM36 21h1v1h-1zM37 21h1v1h-1zM32 20h1v1h-1zM33 20h1v1h-1zM34 20h1v1h-1zM35 20h1v1h-1zM36 20h1v1h-1zM37 20h1v1h-1zM16 19h1v1h-1zM17 19h1v1h-1zM18 19h1v1h-1zM19 19h1v1h-1zM22 19h1v1h-1zM26 19h1v1h-1zM27 19h1v1h-1zM32 19h1v1h-1zM33 19h1v1h-1zM34 19h1v1h-1zM35 19h1v1h-1zM36 19h1v1h-1zM37 19h1v1h-1zM0 18h1v1h-1zM1 18h1v1h-1zM2 18h1v1h-1zM3 18h1v1h-1zM8 18h1v1h-1zM9 18h1v1h-1zM10 18h1v1h-1zM11 18h1v1h-1zM12 18h1v1h-1zM13 18h1v1h-1zM14 18h1v1h-1zM15 18h1v1h-1zM28 0h1v1h-1z"/><path fill="#a0b6d1" d="M7 46h1v1h-1zM7 45h1v1h-1zM7 44h1v1h-1zM41 30h1v1h-1zM42 29h1v1h-1zM28 27h1v1h-1zM28 26h1v1h-1zM28 25h1v1h-1zM28 24h1v1h-1zM28 19h1v1h-1zM31 19h1v1h-1zM7 17h1v1h-1zM32 17h1v1h-1zM33 17h1v1h-1zM34 17h1v1h-1zM35 17h1v1h-1zM36 17h1v1h-1zM37 17h1v1h-1zM7 9h1v1h-1zM15 9h1v1h-1zM22 9h1v1h-1z"/><path fill="#f6f8fb" d="M24 46h1v1h-1z"/><path fill="#a98059" d="M25 46h1v1h-1zM1 22h1v1h-1z"/><path fill="#5f84b4" d="M38 46h1v1h-1zM38 45h1v1h-1zM38 44h1v1h-1zM29 18h1v1h-1zM30 15h1v1h-1zM30 14h1v1h-1zM30 13h1v1h-1zM30 12h1v1h-1zM30 11h1v1h-1zM30 10h1v1h-1z"/><path fill="#c0cfe1" d="M41 46h1v1h-1zM42 46h1v1h-1zM40 45h1v1h-1zM43 45h1v1h-1zM41 44h1v1h-1zM42 44h1v1h-1zM0 27h1v1h-1zM1 27h1v1h-1zM2 27h1v1h-1zM3 27h1v1h-1zM4 27h1v1h-1zM5 27h1v1h-1zM6 27h1v1h-1z"/><path fill="#c6d4e4" d="M44 46h1v1h-1zM44 44h1v1h-1zM40 43h1v1h-1zM43 43h1v1h-1zM1 40h1v1h-1zM0 29h1v1h-1zM1 29h1v1h-1zM2 29h1v1h-1zM3 29h1v1h-1zM4 29h1v1h-1zM5 29h1v1h-1zM0 25h1v1h-1zM1 25h1v1h-1zM2 25h1v1h-1zM3 25h1v1h-1zM4 25h1v1h-1zM5 25h1v1h-1z"/><path fill="#cbd7e6" d="M45 46h1v1h-1zM5 43h1v1h-1zM5 42h1v1h-1zM0 41h1v1h-1zM2 41h1v1h-1zM45 40h1v1h-1zM47 40h1v1h-1zM22 27h1v1h-1zM21 26h1v1h-1zM26 26h1v1h-1zM15 23h1v1h-1zM21 21h1v1h-1zM26 21h1v1h-1zM3 7h1v1h-1zM4 7h1v1h-1zM5 7h1v1h-1zM3 6h1v1h-1zM2 5h1v1h-1zM3 5h1v1h-1zM2 2h1v1h-1zM2 1h1v1h-1zM6 0h1v1h-1z"/><path fill="#d2dce9" d="M46 46h1v1h-1zM27 40h1v1h-1zM22 39h1v1h-1zM17 38h1v1h-1zM21 37h1v1h-1zM21 36h1v1h-1zM21 35h1v1h-1zM21 34h1v1h-1zM21 33h1v1h-1zM21 32h1v1h-1zM14 24h1v1h-1zM14 22h1v1h-1zM25 15h1v1h-1zM6 14h1v1h-1zM25 14h1v1h-1zM25 13h1v1h-1zM25 12h1v1h-1zM25 11h1v1h-1zM25 10h1v1h-1z"/><path fill="#cad6e5" d="M5 45h1v1h-1zM6 38h1v1h-1zM6 37h1v1h-1zM6 36h1v1h-1zM6 35h1v1h-1zM6 34h1v1h-1zM6 33h1v1h-1zM23 29h1v1h-1zM24 29h1v1h-1zM25 29h1v1h-1zM26 29h1v1h-1zM27 29h1v1h-1zM23 28h1v1h-1zM24 28h1v1h-1zM25 28h1v1h-1zM26 28h1v1h-1zM27 28h1v1h-1zM26 27h1v1h-1zM27 27h1v1h-1zM16 26h1v1h-1zM17 26h1v1h-1zM27 26h1v1h-1zM16 25h1v1h-1zM17 25h1v1h-1zM18 25h1v1h-1zM19 25h1v1h-1zM16 24h1v1h-1zM17 24h1v1h-1zM18 24h1v1h-1zM19 24h1v1h-1zM17 23h1v1h-1zM18 23h1v1h-1zM19 23h1v1h-1zM16 22h1v1h-1zM17 22h1v1h-1zM18 22h1v1h-1zM19 22h1v1h-1zM47 22h1v1h-1zM16 21h1v1h-1zM17 21h1v1h-1zM18 21h1v1h-1zM19 21h1v1h-1zM20 21h1v1h-1zM27 21h1v1h-1zM39 21h1v1h-1zM40 21h1v1h-1zM41 21h1v1h-1zM42 21h1v1h-1zM43 21h1v1h-1zM44 21h1v1h-1zM45 21h1v1h-1zM46 21h1v1h-1zM47 21h1v1h-1zM16 20h1v1h-1zM17 20h1v1h-1zM18 20h1v1h-1zM19 20h1v1h-1zM20 20h1v1h-1zM21 20h1v1h-1zM26 20h1v1h-1zM27 20h1v1h-1zM39 20h1v1h-1zM40 20h1v1h-1zM41 20h1v1h-1zM42 20h1v1h-1zM43 20h1v1h-1zM44 20h1v1h-1zM45 20h1v1h-1zM46 20h1v1h-1zM47 20h1v1h-1zM5 19h1v1h-1zM6 19h1v1h-1zM39 19h1v1h-1zM40 19h1v1h-1zM41 19h1v1h-1zM42 19h1v1h-1zM43 19h1v1h-1zM44 19h1v1h-1zM45 19h1v1h-1zM46 19h1v1h-1zM47 19h1v1h-1zM6 18h1v1h-1zM32 16h1v1h-1zM33 16h1v1h-1zM34 16h1v1h-1zM35 16h1v1h-1zM36 16h1v1h-1zM37 16h1v1h-1zM37 15h1v1h-1zM43 15h1v1h-1zM44 15h1v1h-1zM45 15h1v1h-1zM46 15h1v1h-1zM47 15h1v1h-1zM37 14h1v1h-1zM43 14h1v1h-1zM44 14h1v1h-1zM45 14h1v1h-1zM47 14h1v1h-1zM37 13h1v1h-1zM43 13h1v1h-1zM44 13h1v1h-1zM46 13h1v1h-1zM47 13h1v1h-1zM37 12h1v1h-1zM43 12h1v1h-1zM45 12h1v1h-1zM46 12h1v1h-1zM47 12h1v1h-1zM37 11h1v1h-1zM44 11h1v1h-1zM45 11h1v1h-1zM46 11h1v1h-1zM47 11h1v1h-1zM37 10h1v1h-1zM43 10h1v1h-1zM44 10h1v1h-1zM45 10h1v1h-1zM46 10h1v1h-1zM47 10h1v1h-1zM2 7h1v1h-1zM7 7h1v1h-1zM1 5h1v1h-1zM5 5h1v1h-1zM1 4h1v1h-1zM4 4h1v1h-1zM1 3h1v1h-1zM3 3h1v1h-1z"/><path fill="#ecf0f6" d="M24 45h1v1h-1zM25 44h1v1h-1zM27 43h1v1h-1zM32 32h1v1h-1zM3 19h1v1h-1zM8 11h1v1h-1z"/><path fill="#fafbfd" d="M25 45h1v1h-1zM26 44h1v1h-1zM37 39h1v1h-1zM37 38h1v1h-1zM35 37h1v1h-1zM36 37h1v1h-1zM37 37h1v1h-1zM36 36h1v1h-1zM37 36h1v1h-1zM35 35h1v1h-1zM37 35h1v1h-1zM35 34h1v1h-1zM36 34h1v1h-1zM37 33h1v1h-1zM37 32h1v1h-1zM2 22h1v1h-1zM3 21h1v1h-1zM11 15h1v1h-1zM12 15h1v1h-1zM11 14h1v1h-1zM12 14h1v1h-1zM11 13h1v1h-1zM12 13h1v1h-1zM12 12h1v1h-1zM11 11h1v1h-1z"/><path fill="#cfb8a0" d="M26 45h1v1h-1zM37 34h1v1h-1zM2 21h1v1h-1z"/><path fill="#becde0" d="M41 45h1v1h-1zM42 45h1v1h-1z"/><path fill="#c9d6e5" d="M45 45h1v1h-1zM47 44h1v1h-1zM5 41h1v1h-1zM32 41h1v1h-1zM33 41h1v1h-1zM34 41h1v1h-1zM35 41h1v1h-1zM36 41h1v1h-1zM39 41h1v1h-1zM40 41h1v1h-1zM41 41h1v1h-1zM42 41h1v1h-1zM43 41h1v1h-1zM6 32h1v1h-1zM6 23h1v1h-1zM16 23h1v1h-1zM6 22h1v1h-1zM6 21h1v1h-1zM6 20h1v1h-1zM32 8h1v1h-1zM33 8h1v1h-1zM34 8h1v1h-1zM35 8h1v1h-1zM36 8h1v1h-1zM32 2h1v1h-1zM34 2h1v1h-1zM35 2h1v1h-1zM36 2h1v1h-1z"/><path fill="#cbd8e6" d="M46 45h1v1h-1zM15 24h1v1h-1zM15 22h1v1h-1z"/><path fill="#d9e2ed" d="M4 44h1v1h-1zM3 43h1v1h-1zM2 42h1v1h-1zM1 41h1v1h-1zM8 40h1v1h-1zM10 40h1v1h-1zM11 40h1v1h-1zM12 40h1v1h-1zM13 40h1v1h-1zM25 39h1v1h-1zM16 37h1v1h-1zM16 36h1v1h-1zM23 33h1v1h-1zM36 22h1v1h-1zM35 21h1v1h-1zM4 18h1v1h-1zM17 15h1v1h-1zM18 15h1v1h-1zM19 15h1v1h-1zM20 15h1v1h-1zM17 14h1v1h-1zM18 14h1v1h-1zM19 14h1v1h-1zM20 14h1v1h-1zM17 13h1v1h-1zM18 13h1v1h-1zM19 13h1v1h-1zM20 13h1v1h-1zM17 12h1v1h-1zM18 12h1v1h-1zM19 12h1v1h-1zM20 12h1v1h-1zM17 11h1v1h-1zM18 11h1v1h-1zM19 11h1v1h-1zM20 11h1v1h-1zM17 10h1v1h-1zM18 10h1v1h-1zM19 10h1v1h-1zM20 10h1v1h-1zM24 1h1v1h-1zM3 0h1v1h-1z"/><path fill="#d0dbe9" d="M22 44h1v1h-1z"/><path fill="#d3deea" d="M23 44h1v1h-1zM23 40h1v1h-1zM22 25h1v1h-1zM25 25h1v1h-1zM22 22h1v1h-1zM25 22h1v1h-1zM32 0h1v1h-1zM34 0h1v1h-1zM35 0h1v1h-1zM36 0h1v1h-1z"/><path fill="#d7e0ec" d="M24 44h1v1h-1zM24 8h1v1h-1zM24 7h1v1h-1zM24 6h1v1h-1zM24 5h1v1h-1zM24 4h1v1h-1zM24 3h1v1h-1z"/><path fill="#fbfcfd" d="M27 44h1v1h-1zM14 38h1v1h-1zM13 37h1v1h-1zM12 36h1v1h-1zM11 35h1v1h-1zM10 34h1v1h-1zM9 33h1v1h-1zM3 20h1v1h-1z"/><path fill="#c9d5e5" d="M46 44h1v1h-1zM44 41h1v1h-1zM45 41h1v1h-1zM46 41h1v1h-1zM47 41h1v1h-1zM6 30h1v1h-1zM6 24h1v1h-1zM36 23h1v1h-1z"/><path fill="#d3ddea" d="M22 43h1v1h-1zM17 32h1v1h-1zM5 6h1v1h-1zM1 2h1v1h-1zM1 1h1v1h-1zM4 0h1v1h-1z"/><path fill="#dce4ee" d="M23 43h1v1h-1zM24 38h1v1h-1zM25 38h1v1h-1zM26 38h1v1h-1zM27 38h1v1h-1zM25 33h1v1h-1zM26 33h1v1h-1zM27 33h1v1h-1zM42 32h1v1h-1zM43 32h1v1h-1zM44 32h1v1h-1zM45 32h1v1h-1zM46 32h1v1h-1zM47 32h1v1h-1zM9 31h1v1h-1zM10 31h1v1h-1zM11 31h1v1h-1zM12 31h1v1h-1zM39 31h1v1h-1zM39 25h1v1h-1zM40 25h1v1h-1zM41 25h1v1h-1zM42 25h1v1h-1zM43 25h1v1h-1zM39 15h1v1h-1zM39 14h1v1h-1zM39 13h1v1h-1zM39 12h1v1h-1zM39 11h1v1h-1zM39 10h1v1h-1zM23 1h1v1h-1zM10 0h1v1h-1zM11 0h1v1h-1zM12 0h1v1h-1zM13 0h1v1h-1zM14 0h1v1h-1z"/><path fill="#e1e8f1" d="M24 43h1v1h-1zM15 39h1v1h-1zM22 7h1v1h-1zM22 3h1v1h-1z"/><path fill="#e4eaf2" d="M25 43h1v1h-1zM24 42h1v1h-1zM15 10h1v1h-1zM17 8h1v1h-1zM17 0h1v1h-1zM18 0h1v1h-1zM19 0h1v1h-1zM20 0h1v1h-1z"/><path fill="#e3eaf2" d="M26 43h1v1h-1zM15 32h1v1h-1zM21 8h1v1h-1zM15 7h1v1h-1zM0 2h1v1h-1zM0 1h1v1h-1zM15 1h1v1h-1zM21 0h1v1h-1z"/><path fill="#86a3c5" d="M28 43h1v1h-1zM24 9h1v1h-1zM25 9h1v1h-1zM26 9h1v1h-1zM27 9h1v1h-1z"/><path fill="#c7d5e4" d="M39 43h1v1h-1zM3 40h1v1h-1z"/><path fill="#dfe7f0" d="M23 42h1v1h-1zM2 23h1v1h-1zM0 21h1v1h-1zM0 20h1v1h-1zM1 20h1v1h-1zM32 15h1v1h-1zM33 15h1v1h-1zM34 15h1v1h-1zM35 15h1v1h-1zM36 15h1v1h-1zM32 14h1v1h-1zM33 14h1v1h-1zM34 14h1v1h-1zM35 14h1v1h-1zM36 14h1v1h-1zM32 13h1v1h-1zM33 13h1v1h-1zM34 13h1v1h-1zM35 13h1v1h-1zM36 13h1v1h-1zM26 12h1v1h-1zM32 12h1v1h-1zM33 12h1v1h-1zM34 12h1v1h-1zM35 12h1v1h-1zM36 12h1v1h-1zM32 11h1v1h-1zM33 11h1v1h-1zM34 11h1v1h-1zM35 11h1v1h-1zM36 11h1v1h-1zM9 1h1v1h-1zM1 0h1v1h-1z"/><path fill="#e4ebf2" d="M25 42h1v1h-1zM15 15h1v1h-1zM15 14h1v1h-1zM15 13h1v1h-1zM15 12h1v1h-1zM15 11h1v1h-1z"/><path fill="#e1e8f0" d="M26 42h1v1h-1z"/><path fill="#d7e1ec" d="M27 42h1v1h-1zM24 32h1v1h-1zM24 2h1v1h-1z"/><path fill="#0f4383" d="M29 42h1v1h-1z"/><path fill="#ccd8e6" d="M3 41h1v1h-1zM4 41h1v1h-1zM39 40h1v1h-1zM40 40h1v1h-1zM41 40h1v1h-1zM42 40h1v1h-1zM43 40h1v1h-1zM44 40h1v1h-1zM22 28h1v1h-1zM16 27h1v1h-1zM21 27h1v1h-1zM15 26h1v1h-1zM15 25h1v1h-1zM15 21h1v1h-1zM15 20h1v1h-1z"/><path fill="#d2dde9" d="M10 41h1v1h-1zM11 41h1v1h-1zM12 41h1v1h-1zM13 41h1v1h-1zM14 41h1v1h-1zM22 41h1v1h-1zM33 40h1v1h-1zM39 39h1v1h-1zM40 39h1v1h-1zM41 39h1v1h-1zM42 39h1v1h-1zM43 39h1v1h-1zM44 39h1v1h-1zM17 37h1v1h-1zM17 36h1v1h-1zM17 35h1v1h-1zM17 33h1v1h-1zM19 32h1v1h-1zM20 32h1v1h-1zM22 32h1v1h-1zM21 31h1v1h-1zM14 30h1v1h-1zM21 30h1v1h-1zM14 29h1v1h-1zM16 29h1v1h-1zM21 29h1v1h-1zM14 28h1v1h-1zM17 28h1v1h-1zM18 28h1v1h-1zM19 28h1v1h-1zM20 28h1v1h-1zM14 27h1v1h-1zM14 26h1v1h-1zM14 25h1v1h-1zM14 21h1v1h-1zM14 20h1v1h-1zM6 13h1v1h-1zM6 12h1v1h-1zM6 11h1v1h-1zM6 10h1v1h-1z"/><path fill="#ced9e7" d="M17 41h1v1h-1zM18 41h1v1h-1zM19 41h1v1h-1zM20 41h1v1h-1zM32 40h1v1h-1zM23 31h1v1h-1zM23 26h1v1h-1zM24 26h1v1h-1zM21 24h1v1h-1zM26 24h1v1h-1zM21 23h1v1h-1zM26 23h1v1h-1zM46 23h1v1h-1zM23 21h1v1h-1zM24 21h1v1h-1z"/><path fill="#cedae7" d="M21 41h1v1h-1zM15 28h1v1h-1z"/><path fill="#dbe3ee" d="M23 41h1v1h-1z"/><path fill="#dfe6ef" d="M24 41h1v1h-1zM25 41h1v1h-1zM32 10h1v1h-1zM33 10h1v1h-1zM34 10h1v1h-1zM35 10h1v1h-1zM36 10h1v1h-1z"/><path fill="#dbe4ee" d="M26 41h1v1h-1zM16 34h1v1h-1zM8 31h1v1h-1zM16 15h1v1h-1zM16 14h1v1h-1zM16 13h1v1h-1zM16 12h1v1h-1zM16 11h1v1h-1zM16 10h1v1h-1zM23 8h1v1h-1zM23 7h1v1h-1zM23 6h1v1h-1zM23 5h1v1h-1zM23 4h1v1h-1zM23 3h1v1h-1zM23 2h1v1h-1zM9 0h1v1h-1z"/><path fill="#071d56" d="M30 41h1v1h-1zM7 16h1v1h-1zM38 9h1v1h-1z"/><path fill="#dae3ed" d="M9 40h1v1h-1zM5 38h1v1h-1zM4 37h1v1h-1zM23 37h1v1h-1zM3 36h1v1h-1zM23 36h1v1h-1zM2 35h1v1h-1zM23 35h1v1h-1zM1 34h1v1h-1zM23 34h1v1h-1zM41 32h1v1h-1zM21 15h1v1h-1zM21 14h1v1h-1zM21 13h1v1h-1zM21 12h1v1h-1zM21 11h1v1h-1zM21 10h1v1h-1zM0 5h1v1h-1zM0 4h1v1h-1zM0 3h1v1h-1zM2 0h1v1h-1zM8 0h1v1h-1z"/><path fill="#d8e2ec" d="M14 40h1v1h-1zM26 39h1v1h-1zM25 1h1v1h-1z"/><path fill="#d6e0eb" d="M15 40h1v1h-1zM23 39h1v1h-1zM12 30h1v1h-1zM33 30h1v1h-1zM34 30h1v1h-1zM35 30h1v1h-1zM36 30h1v1h-1zM24 15h1v1h-1zM24 14h1v1h-1zM24 13h1v1h-1zM24 12h1v1h-1zM24 11h1v1h-1zM24 10h1v1h-1z"/><path fill="#d0dbe8" d="M16 40h1v1h-1zM17 39h1v1h-1zM16 28h1v1h-1zM21 28h1v1h-1zM33 24h1v1h-1zM0 8h1v1h-1zM1 8h1v1h-1zM6 7h1v1h-1zM47 1h1v1h-1zM5 0h1v1h-1z"/><path fill="#cdd9e7" d="M17 40h1v1h-1zM18 40h1v1h-1zM19 40h1v1h-1zM20 40h1v1h-1zM21 40h1v1h-1zM22 30h1v1h-1zM15 27h1v1h-1zM22 26h1v1h-1zM25 26h1v1h-1zM21 25h1v1h-1zM26 25h1v1h-1zM21 22h1v1h-1zM26 22h1v1h-1zM22 21h1v1h-1zM25 21h1v1h-1zM4 6h1v1h-1zM2 4h1v1h-1zM2 3h1v1h-1zM33 1h1v1h-1z"/><path fill="#d5dfeb" d="M24 40h1v1h-1zM25 40h1v1h-1zM35 40h1v1h-1zM36 40h1v1h-1zM39 38h1v1h-1zM40 38h1v1h-1zM41 38h1v1h-1zM42 38h1v1h-1zM43 38h1v1h-1zM44 38h1v1h-1zM45 38h1v1h-1zM46 38h1v1h-1zM47 38h1v1h-1zM39 37h1v1h-1zM40 37h1v1h-1zM41 37h1v1h-1zM42 37h1v1h-1zM43 37h1v1h-1zM44 37h1v1h-1zM45 37h1v1h-1zM46 37h1v1h-1zM47 37h1v1h-1zM39 36h1v1h-1zM40 36h1v1h-1zM41 36h1v1h-1zM42 36h1v1h-1zM43 36h1v1h-1zM44 36h1v1h-1zM45 36h1v1h-1zM46 36h1v1h-1zM47 36h1v1h-1zM39 35h1v1h-1zM40 35h1v1h-1zM41 35h1v1h-1zM42 35h1v1h-1zM43 35h1v1h-1zM44 35h1v1h-1zM45 35h1v1h-1zM46 35h1v1h-1zM47 35h1v1h-1zM39 34h1v1h-1zM40 34h1v1h-1zM41 34h1v1h-1zM42 34h1v1h-1zM43 34h1v1h-1zM44 34h1v1h-1zM45 34h1v1h-1zM46 34h1v1h-1zM47 34h1v1h-1zM39 33h1v1h-1zM40 33h1v1h-1zM23 32h1v1h-1zM15 31h1v1h-1zM8 30h1v1h-1zM17 30h1v1h-1zM18 30h1v1h-1zM19 30h1v1h-1zM20 30h1v1h-1zM8 29h1v1h-1zM9 29h1v1h-1zM10 29h1v1h-1zM11 29h1v1h-1zM13 29h1v1h-1zM17 29h1v1h-1zM18 29h1v1h-1zM19 29h1v1h-1zM20 29h1v1h-1zM32 29h1v1h-1zM33 29h1v1h-1zM34 29h1v1h-1zM35 29h1v1h-1zM36 29h1v1h-1zM8 28h1v1h-1zM9 28h1v1h-1zM10 28h1v1h-1zM12 28h1v1h-1zM13 28h1v1h-1zM32 28h1v1h-1zM33 28h1v1h-1zM34 28h1v1h-1zM35 28h1v1h-1zM36 28h1v1h-1zM9 27h1v1h-1zM11 27h1v1h-1zM12 27h1v1h-1zM13 27h1v1h-1zM32 27h1v1h-1zM33 27h1v1h-1zM34 27h1v1h-1zM35 27h1v1h-1zM36 27h1v1h-1zM10 26h1v1h-1zM11 26h1v1h-1zM12 26h1v1h-1zM13 26h1v1h-1zM32 26h1v1h-1zM33 26h1v1h-1zM34 26h1v1h-1zM35 26h1v1h-1zM36 26h1v1h-1zM8 25h1v1h-1zM9 25h1v1h-1zM10 25h1v1h-1zM11 25h1v1h-1zM12 25h1v1h-1zM13 25h1v1h-1zM32 25h1v1h-1zM33 25h1v1h-1zM34 25h1v1h-1zM35 25h1v1h-1zM36 25h1v1h-1zM8 24h1v1h-1zM9 24h1v1h-1zM10 24h1v1h-1zM11 24h1v1h-1zM12 24h1v1h-1zM13 24h1v1h-1zM8 23h1v1h-1zM10 23h1v1h-1zM11 23h1v1h-1zM12 23h1v1h-1zM13 23h1v1h-1zM8 22h1v1h-1zM9 22h1v1h-1zM10 22h1v1h-1zM11 22h1v1h-1zM12 22h1v1h-1zM13 22h1v1h-1zM8 21h1v1h-1zM9 21h1v1h-1zM10 21h1v1h-1zM11 21h1v1h-1zM12 21h1v1h-1zM13 21h1v1h-1zM8 20h1v1h-1zM9 20h1v1h-1zM10 20h1v1h-1zM11 20h1v1h-1zM12 20h1v1h-1zM13 20h1v1h-1zM8 19h1v1h-1zM9 19h1v1h-1zM10 19h1v1h-1zM11 19h1v1h-1zM12 19h1v1h-1zM13 19h1v1h-1zM14 19h1v1h-1zM15 19h1v1h-1zM2 8h1v1h-1zM3 8h1v1h-1zM4 8h1v1h-1zM5 8h1v1h-1zM6 8h1v1h-1zM25 8h1v1h-1zM26 8h1v1h-1zM27 8h1v1h-1zM0 7h1v1h-1zM25 7h1v1h-1zM26 7h1v1h-1zM27 7h1v1h-1zM0 6h1v1h-1zM25 6h1v1h-1zM26 6h1v1h-1zM27 6h1v1h-1zM4 5h1v1h-1zM25 5h1v1h-1zM26 5h1v1h-1zM27 5h1v1h-1zM3 4h1v1h-1zM25 4h1v1h-1zM26 4h1v1h-1zM27 4h1v1h-1zM25 3h1v1h-1zM26 3h1v1h-1zM27 3h1v1h-1zM26 2h1v1h-1zM27 2h1v1h-1zM45 0h1v1h-1zM46 0h1v1h-1z"/><path fill="#07245e" d="M31 40h1v1h-1z"/><path fill="#d4deeb" d="M34 40h1v1h-1zM22 37h1v1h-1zM8 27h1v1h-1zM8 26h1v1h-1z"/><path fill="#b4c6db" d="M7 39h1v1h-1zM28 39h1v1h-1zM7 38h1v1h-1zM28 38h1v1h-1zM7 37h1v1h-1zM28 37h1v1h-1zM7 36h1v1h-1zM28 36h1v1h-1zM7 35h1v1h-1zM28 35h1v1h-1zM7 34h1v1h-1zM28 34h1v1h-1zM7 33h1v1h-1zM28 33h1v1h-1zM7 32h1v1h-1zM28 32h1v1h-1zM0 17h1v1h-1zM1 17h1v1h-1zM2 17h1v1h-1zM3 17h1v1h-1zM4 17h1v1h-1zM28 8h1v1h-1zM28 7h1v1h-1zM28 6h1v1h-1zM28 5h1v1h-1zM28 4h1v1h-1zM28 3h1v1h-1zM28 2h1v1h-1zM28 1h1v1h-1z"/><path fill="#e7edf4" d="M8 39h1v1h-1z"/><path fill="#e8eef4" d="M9 39h1v1h-1zM10 39h1v1h-1zM11 39h1v1h-1zM21 38h1v1h-1zM20 37h1v1h-1zM15 35h1v1h-1zM18 35h1v1h-1zM17 34h1v1h-1zM9 32h1v1h-1zM14 31h1v1h-1zM42 31h1v1h-1zM13 30h1v1h-1zM12 29h1v1h-1zM11 28h1v1h-1zM10 27h1v1h-1zM9 26h1v1h-1zM32 24h1v1h-1z"/><path fill="#e8edf4" d="M12 39h1v1h-1zM13 39h1v1h-1zM15 37h1v1h-1zM15 36h1v1h-1zM8 32h1v1h-1z"/><path fill="#d6dfeb" d="M16 39h1v1h-1zM41 33h1v1h-1zM42 33h1v1h-1zM43 33h1v1h-1zM44 33h1v1h-1zM45 33h1v1h-1zM46 33h1v1h-1zM47 33h1v1h-1zM9 30h1v1h-1zM10 30h1v1h-1zM11 30h1v1h-1zM32 30h1v1h-1zM25 2h1v1h-1zM39 0h1v1h-1zM40 0h1v1h-1zM41 0h1v1h-1zM42 0h1v1h-1zM43 0h1v1h-1zM44 0h1v1h-1z"/><path fill="#6689b6" d="M30 39h1v1h-1zM30 38h1v1h-1zM30 37h1v1h-1zM38 37h1v1h-1zM30 36h1v1h-1zM38 36h1v1h-1zM38 35h1v1h-1zM38 34h1v1h-1zM30 8h1v1h-1zM30 7h1v1h-1zM30 6h1v1h-1zM30 5h1v1h-1z"/><path fill="#b8c9dd" d="M32 39h1v1h-1zM38 33h1v1h-1zM20 19h1v1h-1zM21 19h1v1h-1zM12 17h1v1h-1zM13 17h1v1h-1zM14 17h1v1h-1zM15 17h1v1h-1zM16 17h1v1h-1zM23 9h1v1h-1zM31 8h1v1h-1zM31 7h1v1h-1zM31 6h1v1h-1zM31 5h1v1h-1zM31 4h1v1h-1zM5 3h1v1h-1zM31 3h1v1h-1zM31 2h1v1h-1zM31 1h1v1h-1zM31 0h1v1h-1z"/><path fill="#e9eef4" d="M33 39h1v1h-1zM10 32h1v1h-1zM11 32h1v1h-1zM43 31h1v1h-1zM44 31h1v1h-1zM45 31h1v1h-1zM46 31h1v1h-1zM47 31h1v1h-1z"/><path fill="#ecf1f6" d="M34 39h1v1h-1zM47 25h1v1h-1zM17 7h1v1h-1zM21 4h1v1h-1z"/><path fill="#edf2f7" d="M35 39h1v1h-1zM18 7h1v1h-1zM20 7h1v1h-1z"/><path fill="#eef2f7" d="M36 39h1v1h-1zM8 38h1v1h-1zM8 33h1v1h-1zM43 29h1v1h-1zM44 28h1v1h-1zM45 27h1v1h-1zM46 26h1v1h-1zM19 7h1v1h-1zM16 5h1v1h-1zM16 4h1v1h-1zM16 3h1v1h-1zM16 2h1v1h-1z"/><path fill="#7c9bc0" d="M38 39h1v1h-1zM38 38h1v1h-1zM28 17h1v1h-1zM37 9h1v1h-1z"/><path fill="#eff3f7" d="M9 38h1v1h-1zM10 38h1v1h-1zM11 38h1v1h-1zM12 38h1v1h-1zM13 38h1v1h-1zM8 37h1v1h-1zM14 37h1v1h-1zM8 36h1v1h-1zM14 36h1v1h-1zM14 35h1v1h-1zM14 34h1v1h-1zM10 33h1v1h-1zM11 33h1v1h-1zM12 33h1v1h-1zM13 33h1v1h-1zM14 33h1v1h-1zM33 32h1v1h-1zM43 30h1v1h-1zM44 30h1v1h-1zM45 30h1v1h-1zM46 30h1v1h-1zM47 30h1v1h-1z"/><path fill="#dae2ed" d="M23 38h1v1h-1zM16 35h1v1h-1z"/><path fill="#f1f4f8" d="M32 38h1v1h-1zM34 32h1v1h-1zM35 32h1v1h-1zM36 32h1v1h-1zM20 2h1v1h-1z"/><path fill="#fcfaf8" d="M33 38h1v1h-1zM9 14h1v1h-1z"/><path fill="#f8fafc" d="M34 38h1v1h-1z"/><path fill="#f9fafc" d="M35 38h1v1h-1zM36 38h1v1h-1zM34 33h1v1h-1zM35 33h1v1h-1zM36 33h1v1h-1zM10 10h1v1h-1zM12 10h1v1h-1z"/><path fill="#dce5ee" d="M24 37h1v1h-1zM24 36h1v1h-1zM24 35h1v1h-1zM24 34h1v1h-1zM44 25h1v1h-1z"/><path fill="#dde5ef" d="M25 37h1v1h-1zM26 37h1v1h-1zM27 37h1v1h-1zM25 36h1v1h-1zM26 36h1v1h-1zM27 36h1v1h-1zM25 35h1v1h-1zM26 35h1v1h-1zM27 35h1v1h-1zM25 34h1v1h-1zM26 34h1v1h-1zM27 34h1v1h-1zM40 31h1v1h-1zM39 30h1v1h-1zM39 29h1v1h-1zM40 29h1v1h-1zM39 28h1v1h-1zM40 28h1v1h-1zM41 28h1v1h-1zM39 27h1v1h-1zM40 27h1v1h-1zM41 27h1v1h-1zM42 27h1v1h-1zM44 27h1v1h-1zM39 26h1v1h-1zM40 26h1v1h-1zM41 26h1v1h-1zM42 26h1v1h-1zM43 26h1v1h-1zM8 16h1v1h-1zM9 16h1v1h-1zM10 16h1v1h-1zM11 16h1v1h-1zM12 16h1v1h-1zM13 16h1v1h-1zM14 16h1v1h-1zM15 16h1v1h-1zM46 14h1v1h-1zM45 13h1v1h-1zM44 12h1v1h-1zM43 11h1v1h-1zM36 5h1v1h-1zM35 4h1v1h-1zM34 3h1v1h-1zM33 2h1v1h-1z"/><path fill="#f3f6f9" d="M32 37h1v1h-1zM32 36h1v1h-1zM32 35h1v1h-1zM32 34h1v1h-1zM14 15h1v1h-1zM14 14h1v1h-1zM14 13h1v1h-1zM14 12h1v1h-1zM14 11h1v1h-1z"/><path fill="#f7f9fb" d="M33 37h1v1h-1zM33 36h1v1h-1zM33 33h1v1h-1z"/><path fill="#eee6dd" d="M34 37h1v1h-1zM10 13h1v1h-1z"/><path fill="#fafbfc" d="M34 36h1v1h-1zM34 35h1v1h-1zM34 34h1v1h-1zM10 15h1v1h-1z"/><path fill="#ddccbc" d="M35 36h1v1h-1zM11 12h1v1h-1z"/><path fill="#eff2f7" d="M8 35h1v1h-1zM8 34h1v1h-1z"/><path fill="#6c8eb9" d="M30 35h1v1h-1zM30 34h1v1h-1zM30 33h1v1h-1zM30 32h1v1h-1zM38 24h1v1h-1zM29 19h1v1h-1z"/><path fill="#f8f9fb" d="M33 35h1v1h-1zM33 34h1v1h-1zM9 15h1v1h-1z"/><path fill="#d3bda7" d="M36 35h1v1h-1zM12 11h1v1h-1z"/><path fill="#eaeff5" d="M15 34h1v1h-1zM13 32h1v1h-1zM8 14h1v1h-1zM8 13h1v1h-1zM21 7h1v1h-1zM16 1h1v1h-1zM21 1h1v1h-1z"/><path fill="#ebeff5" d="M15 33h1v1h-1zM14 32h1v1h-1z"/><path fill="#f2f5f9" d="M24 33h1v1h-1zM32 33h1v1h-1zM1 23h1v1h-1zM0 22h1v1h-1zM1 21h1v1h-1zM2 20h1v1h-1zM18 6h1v1h-1zM19 6h1v1h-1zM17 5h1v1h-1zM19 5h1v1h-1zM20 5h1v1h-1zM17 4h1v1h-1zM18 4h1v1h-1zM20 4h1v1h-1zM17 3h1v1h-1zM18 3h1v1h-1zM19 3h1v1h-1zM18 2h1v1h-1zM19 2h1v1h-1z"/><path fill="#e9eef5" d="M12 32h1v1h-1z"/><path fill="#d2ddea" d="M18 32h1v1h-1zM16 30h1v1h-1z"/><path fill="#527aae" d="M38 32h1v1h-1zM38 0h1v1h-1z"/><path fill="#f8f5f2" d="M39 32h1v1h-1z"/><path fill="#b5c7dc" d="M7 31h1v1h-1zM7 30h1v1h-1zM7 29h1v1h-1zM7 25h1v1h-1zM7 24h1v1h-1zM7 23h1v1h-1zM7 22h1v1h-1zM7 21h1v1h-1zM7 20h1v1h-1zM7 19h1v1h-1zM5 2h1v1h-1z"/><path fill="#dee5ef" d="M13 31h1v1h-1zM22 15h1v1h-1zM22 14h1v1h-1zM22 13h1v1h-1zM22 12h1v1h-1zM22 11h1v1h-1zM22 10h1v1h-1z"/><path fill="#83a0c3" d="M29 31h1v1h-1zM29 30h1v1h-1zM29 29h1v1h-1zM29 23h1v1h-1zM29 22h1v1h-1zM29 21h1v1h-1zM29 20h1v1h-1zM29 15h1v1h-1zM29 14h1v1h-1zM29 13h1v1h-1zM29 12h1v1h-1zM29 11h1v1h-1zM29 10h1v1h-1z"/><path fill="#4b74ab" d="M30 31h1v1h-1zM38 31h1v1h-1zM30 30h1v1h-1zM38 30h1v1h-1zM30 29h1v1h-1zM38 29h1v1h-1zM38 25h1v1h-1z"/><path fill="#dde5ee" d="M32 31h1v1h-1z"/><path fill="#dee6ef" d="M33 31h1v1h-1zM34 31h1v1h-1zM35 31h1v1h-1zM36 31h1v1h-1zM40 30h1v1h-1zM45 25h1v1h-1zM23 15h1v1h-1zM23 14h1v1h-1zM23 13h1v1h-1zM23 12h1v1h-1zM23 11h1v1h-1zM23 10h1v1h-1zM15 0h1v1h-1zM24 0h1v1h-1zM25 0h1v1h-1zM26 0h1v1h-1zM27 0h1v1h-1z"/><path fill="#c0cee0" d="M37 31h1v1h-1zM37 30h1v1h-1zM37 29h1v1h-1zM37 28h1v1h-1zM37 27h1v1h-1zM37 26h1v1h-1zM37 25h1v1h-1zM37 24h1v1h-1zM37 8h1v1h-1zM37 7h1v1h-1zM37 6h1v1h-1zM37 5h1v1h-1z"/><path fill="#e5ebf3" d="M41 31h1v1h-1zM18 8h1v1h-1zM19 8h1v1h-1zM20 8h1v1h-1zM15 6h1v1h-1z"/><path fill="#edf1f6" d="M42 30h1v1h-1zM16 6h1v1h-1zM21 6h1v1h-1zM21 5h1v1h-1zM17 1h1v1h-1zM18 1h1v1h-1zM19 1h1v1h-1zM20 1h1v1h-1z"/><path fill="#dfe6f0" d="M41 29h1v1h-1zM42 28h1v1h-1zM43 27h1v1h-1zM44 26h1v1h-1zM22 8h1v1h-1z"/><path fill="#c2d1e2" d="M6 28h1v1h-1zM6 26h1v1h-1z"/><path fill="#b0c3d9" d="M7 28h1v1h-1zM7 27h1v1h-1zM7 26h1v1h-1zM26 18h1v1h-1zM27 18h1v1h-1z"/><path fill="#34619d" d="M30 28h1v1h-1zM38 28h1v1h-1zM30 27h1v1h-1zM38 27h1v1h-1zM30 26h1v1h-1zM38 26h1v1h-1zM30 25h1v1h-1zM30 24h1v1h-1zM30 19h1v1h-1zM38 18h1v1h-1zM38 10h1v1h-1zM38 6h1v1h-1zM38 5h1v1h-1z"/><path fill="#cdd8e7" d="M18 27h1v1h-1zM19 27h1v1h-1zM32 1h1v1h-1zM34 1h1v1h-1z"/><path fill="#cad6e6" d="M25 27h1v1h-1zM18 26h1v1h-1zM19 26h1v1h-1zM20 25h1v1h-1zM20 22h1v1h-1z"/><path fill="#ffffff" d="M45 26h1v1h-1zM14 9h1v1h-1zM21 2h1v1h-1z"/><path fill="#eff3f8" d="M47 26h1v1h-1z"/><path fill="#e7dcd0" d="M46 25h1v1h-1z"/><path fill="#e0e8f0" d="M23 24h1v1h-1zM24 24h1v1h-1zM23 23h1v1h-1zM24 23h1v1h-1z"/><path fill="#8b5625" d="M47 24h1v1h-1z"/><path fill="#587fb1" d="M30 23h1v1h-1zM30 22h1v1h-1zM30 21h1v1h-1zM30 20h1v1h-1zM38 16h1v1h-1zM29 9h1v1h-1zM38 7h1v1h-1z"/><path fill="#295996" d="M38 23h1v1h-1zM30 18h1v1h-1z"/><path fill="#c3d2e2" d="M32 22h1v1h-1z"/><path fill="#c4d2e2" d="M33 22h1v1h-1z"/><path fill="#456fa8" d="M38 22h1v1h-1zM38 21h1v1h-1zM38 20h1v1h-1zM38 19h1v1h-1zM29 17h1v1h-1zM30 16h1v1h-1zM38 15h1v1h-1zM38 14h1v1h-1zM38 13h1v1h-1zM38 12h1v1h-1zM38 11h1v1h-1zM38 8h1v1h-1z"/><path fill="#3966a1" d="M5 18h1v1h-1z"/><path fill="#91abca" d="M31 18h1v1h-1zM16 9h1v1h-1zM17 9h1v1h-1zM18 9h1v1h-1zM19 9h1v1h-1zM20 9h1v1h-1zM21 9h1v1h-1zM47 9h1v1h-1z"/><path fill="#082e6b" d="M6 17h1v1h-1z"/><path fill="#9cb3cf" d="M26 17h1v1h-1zM27 17h1v1h-1z"/><path fill="#0c4181" d="M30 17h1v1h-1z"/><path fill="#7999bf" d="M31 17h1v1h-1zM29 16h1v1h-1z"/><path fill="#1a4c8a" d="M38 17h1v1h-1zM30 9h1v1h-1z"/><path fill="#f9fbfc" d="M13 15h1v1h-1zM10 14h1v1h-1zM13 14h1v1h-1zM13 13h1v1h-1zM10 12h1v1h-1zM13 12h1v1h-1zM10 11h1v1h-1zM13 11h1v1h-1zM11 10h1v1h-1z"/><path fill="#f4f6fa" d="M9 13h1v1h-1zM0 0h1v1h-1z"/><path fill="#ebf0f6" d="M8 12h1v1h-1zM8 10h1v1h-1zM21 3h1v1h-1z"/><path fill="#f5f7fa" d="M9 12h1v1h-1zM9 11h1v1h-1zM9 10h1v1h-1z"/><path fill="#c9ae93" d="M13 10h1v1h-1z"/><path fill="#f1f5f8" d="M14 10h1v1h-1zM20 6h1v1h-1z"/><path fill="#a2b8d2" d="M1 9h1v1h-1zM2 9h1v1h-1zM3 9h1v1h-1zM4 9h1v1h-1zM5 9h1v1h-1zM6 9h1v1h-1z"/><path fill="#b3c5da" d="M8 9h1v1h-1zM9 9h1v1h-1zM10 9h1v1h-1zM11 9h1v1h-1zM12 9h1v1h-1zM13 9h1v1h-1zM7 4h1v1h-1zM19 4h1v1h-1zM37 4h1v1h-1zM6 3h1v1h-1zM37 3h1v1h-1zM37 2h1v1h-1zM6 1h1v1h-1zM37 1h1v1h-1zM37 0h1v1h-1z"/><path fill="#809ec2" d="M41 9h1v1h-1zM42 9h1v1h-1zM43 9h1v1h-1zM44 9h1v1h-1zM45 9h1v1h-1zM46 9h1v1h-1z"/><path fill="#e2e9f1" d="M8 8h1v1h-1zM9 8h1v1h-1zM10 8h1v1h-1zM11 8h1v1h-1zM12 8h1v1h-1zM13 8h1v1h-1zM14 8h1v1h-1zM16 8h1v1h-1zM8 7h1v1h-1zM9 7h1v1h-1zM10 7h1v1h-1zM11 7h1v1h-1zM12 7h1v1h-1zM13 7h1v1h-1zM14 7h1v1h-1zM8 6h1v1h-1zM9 6h1v1h-1zM10 6h1v1h-1zM11 6h1v1h-1zM12 6h1v1h-1zM13 6h1v1h-1zM14 6h1v1h-1zM22 6h1v1h-1zM8 5h1v1h-1zM9 5h1v1h-1zM10 5h1v1h-1zM11 5h1v1h-1zM12 5h1v1h-1zM13 5h1v1h-1zM14 5h1v1h-1zM22 5h1v1h-1zM8 4h1v1h-1zM9 4h1v1h-1zM10 4h1v1h-1zM11 4h1v1h-1zM12 4h1v1h-1zM13 4h1v1h-1zM14 4h1v1h-1zM22 4h1v1h-1zM8 3h1v1h-1zM9 3h1v1h-1zM10 3h1v1h-1zM11 3h1v1h-1zM12 3h1v1h-1zM13 3h1v1h-1zM14 3h1v1h-1zM8 2h1v1h-1zM9 2h1v1h-1zM10 2h1v1h-1zM11 2h1v1h-1zM12 2h1v1h-1zM13 2h1v1h-1zM14 2h1v1h-1zM16 0h1v1h-1zM22 0h1v1h-1z"/><path fill="#f5f0eb" d="M15 8h1v1h-1z"/><path fill="#becee0" d="M6 5h1v1h-1zM5 4h1v1h-1zM4 3h1v1h-1zM4 2h1v1h-1zM5 1h1v1h-1z"/><path fill="#bacbde" d="M7 5h1v1h-1zM6 4h1v1h-1z"/><path fill="#6286b5" d="M30 4h1v1h-1zM30 3h1v1h-1zM30 2h1v1h-1zM30 1h1v1h-1z"/><path fill="#1f508e" d="M38 4h1v1h-1zM38 3h1v1h-1zM38 2h1v1h-1zM38 1h1v1h-1z"/><path fill="#afc2d9" d="M6 2h1v1h-1z"/><path fill="#a5bad4" d="M7 2h1v1h-1z"/><path fill="#f1f5f9" d="M17 2h1v1h-1z"/><path fill="#e0e7f0" d="M22 2h1v1h-1zM10 1h1v1h-1zM11 1h1v1h-1zM12 1h1v1h-1zM13 1h1v1h-1zM14 1h1v1h-1z"/><path fill="#e4d7c9" d="M22 1h1v1h-1z"/><path fill="#68300a" d="M23 0h1v1h-1z"/></g>
<rect x="429.4" y="608.0" width="252.80000000000007" height="254.29999999999995" fill="none" stroke="#c8c8c8" stroke-width="1"/><line x1="429.4" y1="859.38" x2="432.4" y2="859.38" stroke="#999" stroke-width="0.8"/><line x1="431.5" y1="862.3" x2="431.5" y2="859.3" stroke="#999" stroke-width="0.8"/><text x="426.4" y="865.38" font-family="Liberation Serif, serif" font-size="23" text-anchor="end">1</text><text x="431.5" y="880.8" font-family="Liberation Serif, serif" font-size="23" text-anchor="middle">1</text><line x1="429.4" y1="781.605" x2="432.4" y2="781.605" stroke="#999" stroke-width="0.8"/><line x1="509.275" y1="862.3" x2="509.275" y2="859.3" stroke="#999" stroke-width="0.8"/><text x="426.4" y="787.605" font-family="Liberation Serif, serif" font-size="23" text-anchor="end">16</text><text x="509.275" y="880.8" font-family="Liberation Serif, serif" font-size="23" text-anchor="middle">16</text><line x1="429.4" y1="698.645" x2="432.4" y2="698.645" stroke="#999" stroke-width="0.8"/><line x1="592.235" y1="862.3" x2="592.235" y2="859.3" stroke="#999" stroke-width="0.8"/><text x="426.4" y="704.645" font-family="Liberation Serif, serif" font-size="23" text-anchor="end">32</text><text x="592.235" y="880.8" font-family="Liberation Serif, serif" font-size="23" text-anchor="middle">32</text><line x1="429.4" y1="615.685" x2="432.4" y2="615.685" stroke="#999" stroke-width="0.8"/><line x1="675.1949999999999" y1="862.3" x2="675.1949999999999" y2="859.3" stroke="#999" stroke-width="0.8"/><text x="426.4" y="621.685" font-family="Liberation Serif, serif" font-size="23" text-anchor="end">48</text><text x="675.1949999999999" y="880.8" font-family="Liberation Serif, serif" font-size="23" text-anchor="middle">48</text>
<text transform="translate(16.2,427.4) rotate(-90)" font-family="Liberation Serif, serif" font-style="italic" font-size="22.5" text-anchor="middle">k</text>
<text transform="translate(394.6,427.4) rotate(-90)" font-family="Liberation Serif, serif" font-style="italic" font-size="22.5" text-anchor="middle">k</text>
<text transform="translate(16.2,736) rotate(-90)" font-family="Liberation Serif, serif" font-style="italic" font-size="22.5" text-anchor="middle">k</text>
<text transform="translate(394.6,736) rotate(-90)" font-family="Liberation Serif, serif" font-style="italic" font-size="22.5" text-anchor="middle">k</text>
<text x="169.6" y="597.9" font-family="Liberation Serif, serif" font-size="22.5"><tspan font-style="italic">k</tspan><tspan dx="2">'</tspan></text>
<text x="548.6" y="597.9" font-family="Liberation Serif, serif" font-size="22.5"><tspan font-style="italic">k</tspan><tspan dx="2">'</tspan></text>
<text x="31.8" y="284.2" font-family="Liberation Serif, serif" font-size="25" font-style="italic">V<tspan font-style="normal">(</tspan>k<tspan font-style="normal">,</tspan> k′<tspan font-style="normal">,</tspan> k<tspan font-size="17" dy="5" font-style="normal">0</tspan><tspan dy="-5" font-style="normal">)</tspan></text>
<defs><linearGradient id="cb" x1="0" x2="1" y1="0" y2="0"><stop offset="0.0000" stop-color="#7f4510"/><stop offset="0.0500" stop-color="#8b5625"/><stop offset="0.1000" stop-color="#97673a"/><stop offset="0.1500" stop-color="#a3784e"/><stop offset="0.2000" stop-color="#af8963"/><stop offset="0.2500" stop-color="#bb9a78"/><stop offset="0.3000" stop-color="#c9ae93"/><stop offset="0.3500" stop-color="#d6c2ae"/><stop offset="0.4000" stop-color="#e4d7c9"/><stop offset="0.4500" stop-color="#f1ebe4"/><stop offset="0.5000" stop-color="#ffffff"/><stop offset="0.5500" stop-color="#e6ecf3"/><stop offset="0.6000" stop-color="#ccd8e7"/><stop offset="0.6500" stop-color="#b3c5da"/><stop offset="0.7000" stop-color="#99b1ce"/><stop offset="0.7500" stop-color="#809ec2"/><stop offset="0.8000" stop-color="#6689b6"/><stop offset="0.8500" stop-color="#4b74ab"/><stop offset="0.9000" stop-color="#34619d"/><stop offset="0.9500" stop-color="#1f508e"/><stop offset="1.0000" stop-color="#0a3f7f"/></linearGradient></defs>
<rect x="174.3" y="280" width="170.7" height="6.9" fill="url(#cb)"/>
<text x="180.5" y="277.6" font-family="Liberation Serif, serif" font-size="21.4" text-anchor="middle">20</text>
<text x="221.3" y="277.6" font-family="Liberation Serif, serif" font-size="21.4" text-anchor="middle">10</text>
<text x="259.1" y="277.6" font-family="Liberation Serif, serif" font-size="21.4" text-anchor="middle">0</text>
<text x="297.35" y="277.6" font-family="Liberation Serif, serif" font-size="21.4" text-anchor="middle">10</text>
<text x="337.2" y="277.6" font-family="Liberation Serif, serif" font-size="21.4" text-anchor="middle">20</text>
<rect x="156.6" y="270.5" width="11.800000000000011" height="1.2" fill="#000"/>
<rect x="196.6" y="270.5" width="11.900000000000006" height="1.2" fill="#000"/>
</svg></body></html>
